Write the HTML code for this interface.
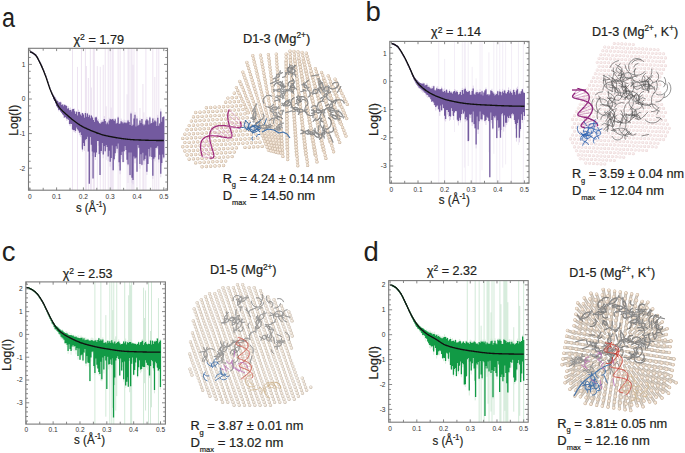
<!DOCTYPE html><html><head><meta charset="utf-8"><style>html,body{margin:0;padding:0;background:#fff;overflow:hidden}svg{display:block}</style></head><body><svg width="685" height="453" viewBox="0 0 685 453" style="font-family:&quot;Liberation Sans&quot;,sans-serif">
<style>.t{stroke:#231f20;stroke-width:0.22px}</style>
<rect width="685" height="453" fill="#fff"/>
<clipPath id="clipa"><rect x="28.5" y="48.3" width="139.0" height="141.89999999999998"/></clipPath>
<g clip-path="url(#clipa)">
<path d="M72.52 -44.6V202.7M77.48 66.9V195.2M81.44 -18.1V147.6M85.41 33.3V212.2M86.40 66.0V242.9M88.38 78.0V259.9M90.37 47.1V192.3M91.36 87.5V208.7M93.34 28.8V251.9M94.33 6.2V258.1M97.31 66.1V202.5M100.28 66.9V224.9M103.26 64.9V258.1M105.24 -24.4V235.5M106.23 106.3V159.8M108.22 6.8V213.1M110.20 36.3V187.2M111.19 107.5V243.7M112.18 26.2V245.0M113.17 32.5V264.7M118.13 -18.9V223.4M120.12 43.0V214.4M124.08 5.9V162.0M127.06 94.3V243.4M128.05 45.6V182.9M129.04 24.2V243.3M131.02 38.0V254.1M132.02 -16.8V277.3M133.01 64.8V206.6M134.00 46.7V237.0M136.97 45.1V186.7M139.95 108.0V189.7M142.92 84.0V193.6M143.91 112.4V246.0M145.90 -34.9V246.5M152.84 -12.0V197.0M154.82 77.0V229.6M156.81 -31.1V247.1M158.79 33.8V245.1" stroke="#e0d0e7" stroke-width="0.6" fill="none"/>
<path d="M30.87 51.3V52.9M31.86 51.7V53.3M32.86 52.2V53.8M33.85 52.9V54.5M34.84 53.7V55.3M35.83 54.6V56.2M36.82 56.0V57.6M37.81 57.7V59.3M38.80 59.7V61.3M39.80 61.7V63.3M40.79 63.6V65.2M41.78 65.8V67.4M42.77 68.1V69.7M43.76 70.5V72.1M44.75 73.0V74.6M45.75 75.5V77.1M46.74 78.4V80.0M47.73 81.4V83.0M48.72 84.5V86.1M49.71 87.4V89.0M50.70 89.8V91.7M51.70 92.1V94.5M52.69 94.0V96.9M53.68 95.7V99.9M54.67 96.8V101.0M55.66 98.5V104.3M56.65 100.0V107.0M57.65 100.6V108.2M58.64 102.1V111.3M59.63 101.9V110.3M60.62 101.4V111.6M61.61 103.5V113.0M62.60 104.4V114.4M63.59 104.6V118.0M64.59 104.7V117.8M65.58 104.9V117.4M66.57 105.1V120.8M67.56 108.3V120.4M68.55 106.3V119.9M69.54 110.0V125.6M70.54 107.6V126.3M71.53 109.8V124.0M72.52 108.7V129.7M73.51 108.5V131.5M74.50 108.4V132.2M75.49 113.4V132.9M76.49 111.2V128.3M77.48 115.3V129.6M78.47 109.6V131.3M79.46 111.4V135.2M80.45 113.5V136.9M81.44 113.8V137.6M82.44 112.7V151.7M83.43 113.5V145.6M84.42 116.7V150.8M85.41 111.1V141.1M86.40 114.3V141.4M87.39 112.8V138.4M88.38 115.2V151.8M89.38 113.9V141.6M90.37 116.6V137.7M91.36 114.9V145.3M92.35 116.2V156.0M93.34 117.9V151.8M94.33 121.1V157.4M95.33 116.8V160.0M96.32 116.1V154.9M97.31 118.3V141.1M98.30 119.0V145.7M99.29 123.1V154.8M100.28 122.7V145.0M101.28 120.3V152.9M102.27 120.2V145.1M103.26 119.9V158.2M104.25 116.1V150.6M105.24 119.3V152.5M106.23 123.2V146.0M107.23 120.9V149.8M108.22 122.7V161.2M109.21 117.8V155.3M110.20 118.3V166.6M111.19 119.0V159.9M112.18 118.7V148.6M113.17 117.9V170.4M114.17 120.4V160.6M115.16 117.9V156.1M116.15 121.5V151.2M117.14 121.5V152.7M118.13 116.1V147.7M119.12 123.4V166.3M120.12 122.8V174.2M121.11 118.6V159.2M122.10 120.2V156.5M123.09 121.0V162.8M124.08 119.6V151.6M125.07 120.2V147.5M126.07 122.9V154.5M127.06 120.3V163.5M128.05 119.5V166.2M129.04 120.0V156.3M130.03 122.3V176.3M131.02 111.7V156.6M132.02 125.6V182.7M133.01 123.6V184.3M134.00 115.6V158.4M134.99 112.2V163.3M135.98 125.1V157.9M136.97 116.3V155.4M137.96 125.4V149.2M138.96 122.9V147.8M139.95 118.1V168.7M140.94 122.1V157.9M141.93 118.7V165.8M142.92 123.0V153.0M143.91 122.7V164.8M144.91 123.6V161.2M145.90 118.6V156.1M146.89 116.9V174.9M147.88 120.0V164.0M148.87 121.5V151.6M149.86 116.4V158.8M150.86 121.1V150.5M151.85 121.4V159.9M152.84 117.5V178.9M153.83 121.9V160.1M154.82 118.0V161.4M155.81 119.3V149.9M156.81 123.2V148.9M157.80 114.9V149.2M158.79 124.7V162.5M159.78 122.9V155.2M160.77 108.6V177.3M161.76 119.7V165.5M162.75 117.1V157.7M163.75 116.6V159.1" stroke="#d9cce6" stroke-width="0.8" fill="none"/>
<path d="M30.87 51.3V52.9M31.86 51.7V53.3M32.86 52.2V53.8M33.85 52.9V54.5M34.84 53.7V55.3M35.83 54.6V56.2M36.82 56.0V57.6M37.81 57.7V59.3M38.80 59.7V61.3M39.80 61.7V63.3M40.79 63.6V65.2M41.78 65.8V67.4M42.77 68.1V69.7M43.76 70.5V72.1M44.75 73.0V74.6M45.75 75.5V77.1M46.74 78.4V80.0M47.73 81.4V83.0M48.72 84.5V86.1M49.71 87.4V89.0M50.70 89.9V91.6M51.70 92.2V94.3M52.69 94.3V96.5M53.68 95.8V99.2M54.67 97.1V101.0M55.66 98.7V103.2M56.65 100.6V105.9M57.65 100.9V107.4M58.64 102.8V109.7M59.63 102.2V110.1M60.62 102.2V111.5M61.61 104.9V112.7M62.60 104.6V114.3M63.59 106.2V115.3M64.59 104.7V117.4M65.58 105.5V117.1M66.57 106.0V118.5M67.56 108.8V118.8M68.55 108.2V119.7M69.54 110.3V124.0M70.54 109.9V123.7M71.53 111.5V123.9M72.52 109.2V129.6M73.51 109.0V130.1M74.50 111.3V129.9M75.49 114.1V130.9M76.49 111.8V127.6M77.48 115.5V129.2M78.47 111.9V130.6M79.46 112.1V132.8M80.45 114.4V132.3M81.44 115.7V135.1M82.44 113.1V149.5M83.43 114.5V142.9M84.42 117.7V146.1M85.41 113.0V139.8M86.40 116.7V139.1M87.39 113.4V136.8M88.38 117.1V151.6M89.38 115.2V139.5M90.37 118.2V136.9M91.36 115.5V144.8M92.35 117.4V151.4M93.34 120.1V150.2M94.33 122.0V152.6M95.33 117.6V156.9M96.32 117.2V152.6M97.31 120.6V141.0M98.30 121.4V141.1M99.29 123.2V154.0M100.28 123.8V144.6M101.28 122.5V150.9M102.27 121.8V142.9M103.26 121.8V154.5M104.25 118.9V146.1M105.24 120.9V151.3M106.23 124.2V145.0M107.23 122.5V147.1M108.22 124.2V156.6M109.21 120.4V150.8M110.20 119.1V161.7M111.19 120.0V157.9M112.18 118.9V145.4M113.17 119.4V170.2M114.17 121.0V159.2M115.16 119.2V153.2M116.15 123.8V146.2M117.14 123.1V148.7M118.13 117.4V143.6M119.12 123.9V162.2M120.12 123.6V170.6M121.11 121.3V155.1M122.10 122.2V151.8M123.09 123.6V162.1M124.08 122.5V151.2M125.07 122.6V145.9M126.07 123.2V150.1M127.06 122.5V159.7M128.05 120.5V164.5M129.04 121.9V152.5M130.03 124.9V174.9M131.02 113.6V152.6M132.02 126.0V177.8M133.01 124.8V180.0M134.00 118.5V156.4M134.99 114.7V158.5M135.98 126.6V157.5M136.97 118.5V150.5M137.96 125.8V145.1M138.96 124.8V147.8M139.95 120.4V164.0M140.94 123.0V154.2M141.93 119.1V164.8M142.92 124.3V152.8M143.91 125.5V160.5M144.91 124.5V158.9M145.90 120.5V155.6M146.89 119.2V171.7M147.88 120.5V164.0M148.87 124.5V149.0M149.86 117.4V156.5M150.86 123.6V147.4M151.85 123.1V157.0M152.84 118.4V175.8M153.83 122.2V158.7M154.82 120.4V157.3M155.81 121.5V148.1M156.81 125.9V147.6M157.80 117.7V146.1M158.79 125.7V159.4M159.78 123.6V154.7M160.77 111.5V173.8M161.76 121.8V163.1M162.75 117.3V154.6M163.75 116.6V157.6M89.30 129.8V183.8M93.05 131.4V178.6M100.02 134.0V175.1M137.00 139.9V171.7" stroke="#735a9f" stroke-width="1.3" fill="none"/>
<polyline points="29.80,51.94 30.47,52.01 31.15,52.18 31.82,52.46 32.49,52.82 33.17,53.25 33.84,53.73 34.51,54.24 35.19,54.78 35.86,55.47 36.53,56.37 37.21,57.45 37.88,58.66 38.55,59.96 39.23,61.31 39.90,62.67 40.57,64.00 41.25,65.41 41.92,66.88 42.59,68.43 43.27,70.04 43.94,71.70 44.61,73.40 45.29,75.14 45.96,76.93 46.63,78.88 47.31,80.93 47.98,83.03 48.65,85.10 49.33,87.09 50.00,88.92 50.67,90.59 51.35,92.18 52.02,93.70 52.69,95.16 53.37,96.58 54.04,97.96 54.71,99.31 55.39,100.66 56.06,102.00 56.73,103.31 57.41,104.54 58.08,105.68 58.75,106.69 59.43,107.57 60.10,108.39 60.77,109.16 61.45,109.89 62.12,110.58 62.79,111.24 63.47,111.87 64.14,112.48 64.82,113.08 65.49,113.67 66.16,114.26 66.84,114.86 67.51,115.45 68.18,116.04 68.86,116.63 69.53,117.21 70.20,117.78 70.88,118.34 71.55,118.90 72.22,119.45 72.90,119.99 73.57,120.52 74.24,121.04 74.92,121.55 75.59,122.05 76.26,122.54 76.94,123.02 77.61,123.49 78.28,123.95 78.96,124.40 79.63,124.83 80.30,125.26 80.98,125.67 81.65,126.08 82.32,126.46 83.00,126.84 83.67,127.19 84.34,127.53 85.02,127.85 85.69,128.16 86.36,128.47 87.04,128.78 87.71,129.08 88.38,129.39 89.06,129.69 89.73,129.98 90.40,130.28 91.08,130.57 91.75,130.86 92.42,131.14 93.10,131.42 93.77,131.70 94.44,131.97 95.12,132.23 95.79,132.49 96.46,132.75 97.14,133.00 97.81,133.24 98.48,133.48 99.16,133.72 99.83,133.94 100.50,134.16 101.18,134.38 101.85,134.58 102.52,134.78 103.20,134.98 103.87,135.16 104.54,135.34 105.22,135.51 105.89,135.67 106.56,135.82 107.24,135.96 107.91,136.10 108.58,136.24 109.26,136.37 109.93,136.50 110.60,136.63 111.28,136.76 111.95,136.89 112.62,137.01 113.30,137.14 113.97,137.26 114.64,137.38 115.32,137.50 115.99,137.62 116.66,137.73 117.34,137.84 118.01,137.95 118.68,138.06 119.36,138.17 120.03,138.27 120.70,138.37 121.38,138.47 122.05,138.57 122.72,138.66 123.40,138.75 124.07,138.84 124.74,138.92 125.42,139.01 126.09,139.09 126.76,139.16 127.44,139.23 128.11,139.30 128.78,139.37 129.46,139.43 130.13,139.49 130.81,139.55 131.48,139.60 132.15,139.65 132.83,139.69 133.50,139.73 134.17,139.77 134.85,139.80 135.52,139.83 136.19,139.86 136.87,139.89 137.54,139.92 138.21,139.94 138.89,139.97 139.56,139.99 140.23,140.02 140.91,140.04 141.58,140.07 142.25,140.09 142.93,140.12 143.60,140.14 144.27,140.16 144.95,140.18 145.62,140.21 146.29,140.23 146.97,140.25 147.64,140.27 148.31,140.29 148.99,140.30 149.66,140.32 150.33,140.34 151.01,140.36 151.68,140.37 152.35,140.39 153.03,140.40 153.70,140.42 154.37,140.43 155.05,140.44 155.72,140.45 156.39,140.46 157.07,140.47 157.74,140.48 158.41,140.49 159.09,140.50 159.76,140.50 160.43,140.51 161.11,140.51 161.78,140.52 162.45,140.52 163.13,140.52 163.80,140.52" fill="none" stroke="#111" stroke-width="1.35"/>
</g>
<rect x="28.5" y="48.3" width="139.0" height="141.89999999999998" fill="none" stroke="#7a7a7a" stroke-width="1.1"/>
<path d="M29.80 190.2v-2.8M29.80 48.3v2.8M43.20 190.2v-2.4M43.20 48.3v2.4M56.60 190.2v-2.8M56.60 48.3v2.8M70.00 190.2v-2.4M70.00 48.3v2.4M83.40 190.2v-2.8M83.40 48.3v2.8M96.80 190.2v-2.4M96.80 48.3v2.4M110.20 190.2v-2.8M110.20 48.3v2.8M123.60 190.2v-2.4M123.60 48.3v2.4M137.00 190.2v-2.8M137.00 48.3v2.8M150.40 190.2v-2.4M150.40 48.3v2.4M163.80 190.2v-2.8M163.80 48.3v2.8M28.5 188.96h2.2M167.5 188.96h-2.2M28.5 182.04h2.2M167.5 182.04h-2.2M28.5 175.12h2.2M167.5 175.12h-2.2M28.5 168.20h3.4M167.5 168.20h-3.4M28.5 161.28h2.2M167.5 161.28h-2.2M28.5 154.36h2.2M167.5 154.36h-2.2M28.5 147.44h2.2M167.5 147.44h-2.2M28.5 140.52h2.2M167.5 140.52h-2.2M28.5 133.60h3.4M167.5 133.60h-3.4M28.5 126.68h2.2M167.5 126.68h-2.2M28.5 119.76h2.2M167.5 119.76h-2.2M28.5 112.84h2.2M167.5 112.84h-2.2M28.5 105.92h2.2M167.5 105.92h-2.2M28.5 99.00h3.4M167.5 99.00h-3.4M28.5 92.08h2.2M167.5 92.08h-2.2M28.5 85.16h2.2M167.5 85.16h-2.2M28.5 78.24h2.2M167.5 78.24h-2.2M28.5 71.32h2.2M167.5 71.32h-2.2M28.5 64.40h3.4M167.5 64.40h-3.4M28.5 57.48h2.2M167.5 57.48h-2.2M28.5 50.56h2.2M167.5 50.56h-2.2" stroke="#7a7a7a" stroke-width="0.9" fill="none"/>
<text x="29.80" y="198.50" font-size="6.6" fill="#333" text-anchor="middle" >0</text>
<text x="56.60" y="198.50" font-size="6.6" fill="#333" text-anchor="middle" >0.1</text>
<text x="83.40" y="198.50" font-size="6.6" fill="#333" text-anchor="middle" >0.2</text>
<text x="110.20" y="198.50" font-size="6.6" fill="#333" text-anchor="middle" >0.3</text>
<text x="137.00" y="198.50" font-size="6.6" fill="#333" text-anchor="middle" >0.4</text>
<text x="163.80" y="198.50" font-size="6.6" fill="#333" text-anchor="middle" >0.5</text>
<text x="25.30" y="66.80" font-size="6.6" fill="#333" text-anchor="end" >1</text>
<text x="25.30" y="101.40" font-size="6.6" fill="#333" text-anchor="end" >0</text>
<text x="25.30" y="136.00" font-size="6.6" fill="#333" text-anchor="end" >-1</text>
<text x="25.30" y="170.60" font-size="6.6" fill="#333" text-anchor="end" >-2</text>
<clipPath id="clipb"><rect x="389.8" y="41.4" width="139.2" height="141.79999999999998"/></clipPath>
<g clip-path="url(#clipb)">
<path d="M438.72 10.2V203.1M444.63 58.9V214.5M454.47 21.5V132.0M462.34 16.4V185.6M464.31 -43.0V167.5M465.29 -22.2V217.8M468.25 -58.0V166.0M472.18 66.9V222.9M476.12 78.4V231.9M480.06 33.6V185.2M482.03 -12.0V170.3M488.92 52.4V152.2M493.84 32.8V153.9M496.79 23.5V191.3M499.74 29.3V231.0M502.69 8.0V167.7M505.65 -26.5V164.4M511.55 -53.4V187.4M518.44 29.2V145.0M523.36 -64.1V210.1" stroke="#e9e1f0" stroke-width="0.6" fill="none"/>
<path d="M392.46 42.9V44.5M393.45 43.2V44.8M394.43 43.7V45.3M395.42 44.3V45.9M396.40 44.9V46.5M397.38 45.6V47.2M398.37 46.6V48.2M399.35 47.9V49.5M400.34 49.4V51.0M401.32 51.0V52.6M402.31 52.7V54.3M403.29 54.4V56.0M404.27 56.1V57.7M405.26 57.9V59.5M406.24 59.9V61.5M407.23 62.0V63.6M408.21 64.1V65.7M409.20 66.2V67.8M410.18 68.3V69.9M411.16 70.6V72.2M412.15 72.8V74.7M413.13 74.8V77.1M414.12 76.7V79.5M415.10 77.8V81.5M416.08 79.4V83.7M417.07 80.2V85.0M418.05 81.0V87.4M419.04 82.2V88.5M420.02 82.6V88.5M421.01 83.0V90.7M421.99 83.9V91.8M422.97 82.5V93.1M423.96 82.9V92.2M424.94 85.4V92.9M425.93 84.3V95.5M426.91 83.0V96.8M427.90 86.5V97.9M428.88 85.2V96.9M429.86 87.3V98.3M430.85 88.2V99.3M431.83 86.3V102.0M432.82 85.9V102.3M433.80 85.3V104.9M434.78 88.9V106.0M435.77 89.3V110.6M436.75 86.7V107.2M437.74 86.3V109.5M438.72 88.0V110.4M439.71 88.8V115.8M440.69 89.0V109.9M441.67 86.6V111.1M442.66 89.2V108.0M443.64 89.4V108.9M444.63 88.3V120.4M445.61 90.1V121.5M446.59 89.2V110.1M447.58 91.2V114.7M448.56 91.9V116.9M449.55 89.4V120.8M450.53 92.3V119.8M451.52 91.0V109.1M452.50 93.1V115.0M453.48 91.2V119.9M454.47 89.0V112.6M455.45 89.6V111.1M456.44 90.4V112.0M457.42 90.3V121.5M458.41 94.6V125.5M459.39 92.7V119.4M460.37 90.5V122.5M461.36 94.9V117.6M462.34 87.9V114.6M463.33 93.3V114.3M464.31 88.2V113.5M465.29 86.7V121.8M466.28 90.6V120.9M467.26 90.0V121.5M468.25 91.5V142.1M469.23 90.3V117.8M470.22 91.9V118.2M471.20 92.6V117.8M472.18 88.9V126.0M473.17 85.6V114.8M474.15 92.7V125.1M475.14 92.9V128.9M476.12 90.8V148.4M477.11 89.8V119.7M478.09 92.5V134.0M479.07 91.5V123.8M480.06 89.2V114.7M481.04 92.6V120.1M482.03 90.3V121.3M483.01 93.7V115.8M483.99 91.8V116.1M484.98 90.1V122.4M485.96 87.6V125.0M486.95 94.3V119.7M487.93 94.3V118.2M488.92 93.9V122.3M489.90 94.4V122.1M490.88 90.1V113.8M491.87 88.8V123.4M492.85 92.1V129.6M493.84 91.9V116.5M494.82 93.6V119.5M495.80 93.1V120.5M496.79 92.8V138.7M497.77 90.5V122.6M498.76 95.0V131.1M499.74 89.2V130.1M500.73 91.6V132.4M501.71 93.0V116.1M502.69 88.9V116.1M503.68 90.4V131.6M504.66 89.6V115.9M505.65 91.2V127.4M506.63 92.8V125.0M507.62 90.1V117.2M508.60 87.4V121.7M509.58 90.9V118.3M510.57 89.2V118.9M511.55 92.4V119.1M512.54 92.2V115.7M513.52 88.8V115.6M514.50 89.7V122.0M515.49 92.6V128.7M516.47 87.9V141.6M517.46 86.6V125.2M518.44 92.9V120.7M519.43 91.6V142.3M520.41 91.6V131.3M521.39 91.1V118.7M522.38 88.8V122.9M523.36 90.8V113.1M524.35 92.1V120.0" stroke="#d9cce6" stroke-width="0.8" fill="none"/>
<path d="M392.46 42.9V44.5M393.45 43.2V44.8M394.43 43.7V45.3M395.42 44.3V45.9M396.40 44.9V46.5M397.38 45.6V47.2M398.37 46.6V48.2M399.35 47.9V49.5M400.34 49.4V51.0M401.32 51.0V52.6M402.31 52.7V54.3M403.29 54.4V56.0M404.27 56.1V57.7M405.26 57.9V59.5M406.24 59.9V61.5M407.23 62.0V63.6M408.21 64.1V65.7M409.20 66.2V67.8M410.18 68.3V69.9M411.16 70.6V72.2M412.15 72.9V74.7M413.13 75.0V77.0M414.12 76.8V79.5M415.10 78.3V81.3M416.08 79.5V83.2M417.07 80.3V84.8M418.05 81.6V86.1M419.04 82.3V87.4M420.02 83.0V88.2M421.01 83.3V88.7M421.99 84.0V89.8M422.97 83.4V90.6M423.96 83.6V91.6M424.94 85.7V92.8M425.93 85.0V93.5M426.91 84.8V94.8M427.90 87.1V95.0M428.88 86.8V96.7M429.86 87.7V97.2M430.85 88.7V99.3M431.83 88.4V101.8M432.82 88.3V100.9M433.80 86.3V102.6M434.78 90.2V104.9M435.77 90.4V107.0M436.75 88.3V105.7M437.74 89.2V105.6M438.72 89.1V109.2M439.71 89.5V111.8M440.69 89.3V105.6M441.67 88.4V110.3M442.66 91.5V104.4M443.64 92.0V107.9M444.63 91.0V115.8M445.61 92.6V118.9M446.59 89.8V110.0M447.58 92.8V109.9M448.56 92.9V111.9M449.55 91.0V115.9M450.53 92.4V116.5M451.52 92.4V108.0M452.50 93.7V110.9M453.48 91.7V116.1M454.47 90.9V112.5M455.45 92.6V110.9M456.44 91.5V111.0M457.42 92.0V119.7M458.41 94.7V121.0M459.39 94.1V117.7M460.37 92.1V120.2M461.36 95.0V114.1M462.34 89.9V109.7M463.33 93.8V113.5M464.31 89.5V111.4M465.29 88.8V119.2M466.28 91.3V116.9M467.26 92.0V120.3M468.25 92.0V141.0M469.23 91.1V114.0M470.22 94.8V114.8M471.20 94.8V114.2M472.18 91.0V122.2M473.17 88.4V111.5M474.15 94.2V123.9M475.14 94.8V128.3M476.12 92.4V144.5M477.11 92.1V116.6M478.09 93.7V129.4M479.07 92.6V121.2M480.06 92.1V111.6M481.04 94.6V119.3M482.03 91.2V119.4M483.01 95.4V113.9M483.99 92.4V114.9M484.98 90.4V121.1M485.96 89.2V120.0M486.95 94.8V116.8M487.93 94.3V117.7M488.92 95.4V121.1M489.90 94.6V120.0M490.88 90.5V112.5M491.87 90.9V120.0M492.85 92.6V128.6M493.84 93.8V115.9M494.82 95.5V117.4M495.80 94.8V115.8M496.79 94.0V137.9M497.77 91.2V120.2M498.76 95.3V127.7M499.74 91.6V127.3M500.73 92.1V130.1M501.71 95.3V114.3M502.69 91.6V112.9M503.68 93.0V126.8M504.66 90.5V115.2M505.65 93.3V122.8M506.63 93.7V122.7M507.62 92.0V116.5M508.60 90.2V118.0M509.58 93.3V115.7M510.57 91.5V118.1M511.55 93.1V114.3M512.54 94.7V113.3M513.52 89.9V114.3M514.50 92.1V119.9M515.49 94.8V123.9M516.47 90.5V137.7M517.46 89.3V122.9M518.44 94.2V119.6M519.43 93.4V137.7M520.41 93.8V128.9M521.39 91.3V114.3M522.38 89.2V120.1M523.36 92.6V112.1M524.35 93.0V115.9M489.82 105.2V177.3M468.54 103.8V140.6M500.46 105.7V137.8" stroke="#735a9f" stroke-width="1.3" fill="none"/>
<polyline points="391.40,43.61 392.07,43.66 392.74,43.81 393.41,44.03 394.07,44.32 394.74,44.67 395.41,45.05 396.08,45.46 396.75,45.89 397.42,46.40 398.08,47.07 398.75,47.86 399.42,48.77 400.09,49.76 400.76,50.83 401.43,51.94 402.09,53.09 402.76,54.24 403.43,55.39 404.10,56.54 404.77,57.76 405.44,59.06 406.10,60.40 406.77,61.80 407.44,63.21 408.11,64.64 408.78,66.08 409.45,67.49 410.11,68.94 410.78,70.48 411.45,72.06 412.12,73.63 412.79,75.15 413.46,76.58 414.12,77.86 414.79,78.98 415.46,80.00 416.13,80.96 416.80,81.85 417.47,82.70 418.13,83.49 418.80,84.23 419.47,84.94 420.14,85.61 420.81,86.25 421.48,86.87 422.14,87.47 422.81,88.05 423.48,88.60 424.15,89.13 424.82,89.64 425.49,90.13 426.15,90.61 426.82,91.06 427.49,91.50 428.16,91.92 428.83,92.33 429.50,92.72 430.16,93.11 430.83,93.48 431.50,93.84 432.17,94.20 432.84,94.54 433.51,94.87 434.17,95.19 434.84,95.50 435.51,95.81 436.18,96.10 436.85,96.39 437.52,96.67 438.18,96.94 438.85,97.21 439.52,97.47 440.19,97.73 440.86,97.99 441.53,98.23 442.19,98.47 442.86,98.70 443.53,98.93 444.20,99.14 444.87,99.35 445.54,99.55 446.20,99.74 446.87,99.91 447.54,100.08 448.21,100.25 448.88,100.41 449.55,100.57 450.21,100.72 450.88,100.88 451.55,101.03 452.22,101.17 452.89,101.32 453.56,101.46 454.22,101.60 454.89,101.74 455.56,101.88 456.23,102.01 456.90,102.13 457.57,102.26 458.23,102.38 458.90,102.50 459.57,102.62 460.24,102.73 460.91,102.84 461.58,102.94 462.24,103.04 462.91,103.14 463.58,103.23 464.25,103.32 464.92,103.41 465.59,103.49 466.25,103.57 466.92,103.65 467.59,103.72 468.26,103.79 468.93,103.85 469.60,103.92 470.26,103.98 470.93,104.05 471.60,104.10 472.27,104.16 472.94,104.22 473.61,104.27 474.27,104.33 474.94,104.38 475.61,104.43 476.28,104.47 476.95,104.52 477.62,104.56 478.28,104.61 478.95,104.65 479.62,104.69 480.29,104.72 480.96,104.76 481.63,104.80 482.29,104.83 482.96,104.86 483.63,104.89 484.30,104.93 484.97,104.96 485.64,104.99 486.30,105.03 486.97,105.06 487.64,105.09 488.31,105.12 488.98,105.16 489.65,105.19 490.31,105.22 490.98,105.25 491.65,105.28 492.32,105.31 492.99,105.35 493.66,105.38 494.32,105.41 494.99,105.44 495.66,105.47 496.33,105.50 497.00,105.53 497.67,105.55 498.33,105.58 499.00,105.61 499.67,105.64 500.34,105.66 501.01,105.69 501.68,105.72 502.34,105.74 503.01,105.77 503.68,105.79 504.35,105.82 505.02,105.84 505.69,105.86 506.35,105.89 507.02,105.91 507.69,105.93 508.36,105.95 509.03,105.97 509.70,105.99 510.36,106.01 511.03,106.03 511.70,106.04 512.37,106.06 513.04,106.08 513.71,106.09 514.37,106.11 515.04,106.12 515.71,106.13 516.38,106.14 517.05,106.15 517.72,106.16 518.38,106.17 519.05,106.18 519.72,106.19 520.39,106.20 521.06,106.20 521.73,106.21 522.39,106.21 523.06,106.21 523.73,106.22 524.40,106.22" fill="none" stroke="#111" stroke-width="1.35"/>
</g>
<rect x="389.8" y="41.4" width="139.2" height="141.79999999999998" fill="none" stroke="#7a7a7a" stroke-width="1.1"/>
<path d="M391.40 183.2v-2.8M391.40 41.4v2.8M404.70 183.2v-2.4M404.70 41.4v2.4M418.00 183.2v-2.8M418.00 41.4v2.8M431.30 183.2v-2.4M431.30 41.4v2.4M444.60 183.2v-2.8M444.60 41.4v2.8M457.90 183.2v-2.4M457.90 41.4v2.4M471.20 183.2v-2.8M471.20 41.4v2.8M484.50 183.2v-2.4M484.50 41.4v2.4M497.80 183.2v-2.8M497.80 41.4v2.8M511.10 183.2v-2.4M511.10 41.4v2.4M524.40 183.2v-2.8M524.40 41.4v2.8M389.8 182.92h2.2M529.0 182.92h-2.2M389.8 177.28h2.2M529.0 177.28h-2.2M389.8 171.64h2.2M529.0 171.64h-2.2M389.8 166.00h3.4M529.0 166.00h-3.4M389.8 160.36h2.2M529.0 160.36h-2.2M389.8 154.72h2.2M529.0 154.72h-2.2M389.8 149.08h2.2M529.0 149.08h-2.2M389.8 143.44h2.2M529.0 143.44h-2.2M389.8 137.80h3.4M529.0 137.80h-3.4M389.8 132.16h2.2M529.0 132.16h-2.2M389.8 126.52h2.2M529.0 126.52h-2.2M389.8 120.88h2.2M529.0 120.88h-2.2M389.8 115.24h2.2M529.0 115.24h-2.2M389.8 109.60h3.4M529.0 109.60h-3.4M389.8 103.96h2.2M529.0 103.96h-2.2M389.8 98.32h2.2M529.0 98.32h-2.2M389.8 92.68h2.2M529.0 92.68h-2.2M389.8 87.04h2.2M529.0 87.04h-2.2M389.8 81.40h3.4M529.0 81.40h-3.4M389.8 75.76h2.2M529.0 75.76h-2.2M389.8 70.12h2.2M529.0 70.12h-2.2M389.8 64.48h2.2M529.0 64.48h-2.2M389.8 58.84h2.2M529.0 58.84h-2.2M389.8 53.20h3.4M529.0 53.20h-3.4M389.8 47.56h2.2M529.0 47.56h-2.2M389.8 41.92h2.2M529.0 41.92h-2.2" stroke="#7a7a7a" stroke-width="0.9" fill="none"/>
<text x="391.40" y="191.50" font-size="6.6" fill="#333" text-anchor="middle" >0</text>
<text x="418.00" y="191.50" font-size="6.6" fill="#333" text-anchor="middle" >0.1</text>
<text x="444.60" y="191.50" font-size="6.6" fill="#333" text-anchor="middle" >0.2</text>
<text x="471.20" y="191.50" font-size="6.6" fill="#333" text-anchor="middle" >0.3</text>
<text x="497.80" y="191.50" font-size="6.6" fill="#333" text-anchor="middle" >0.4</text>
<text x="524.40" y="191.50" font-size="6.6" fill="#333" text-anchor="middle" >0.5</text>
<text x="386.60" y="55.60" font-size="6.6" fill="#333" text-anchor="end" >1</text>
<text x="386.60" y="83.80" font-size="6.6" fill="#333" text-anchor="end" >0</text>
<text x="386.60" y="112.00" font-size="6.6" fill="#333" text-anchor="end" >-1</text>
<text x="386.60" y="140.20" font-size="6.6" fill="#333" text-anchor="end" >-2</text>
<text x="386.60" y="168.40" font-size="6.6" fill="#333" text-anchor="end" >-3</text>
<clipPath id="clipc"><rect x="25.8" y="281.9" width="139.6" height="142.20000000000005"/></clipPath>
<g clip-path="url(#clipc)">
<path d="M94.90 276.4V462.0M100.86 241.0V380.5M105.83 315.1V416.7M109.80 267.3V437.1M111.79 187.4V444.4M112.78 310.1V407.8M113.77 272.8V458.8M115.76 336.4V410.6M116.75 234.3V396.1M124.70 187.1V467.5M128.67 295.3V382.6M129.66 202.6V392.2M130.65 285.3V468.9M131.65 281.4V449.2M143.56 287.7V449.3M144.56 318.0V383.2M145.55 290.5V410.5M148.53 207.7V459.3M150.52 331.0V475.0M151.51 185.7V407.3M158.46 298.1V440.9" stroke="#b4dcbd" stroke-width="0.6" fill="none"/>
<path d="M27.37 286.9V288.5M28.37 287.2V288.8M29.36 287.6V289.2M30.35 288.0V289.6M31.35 288.5V290.1M32.34 289.0V290.6M33.33 289.7V291.3M34.33 290.4V292.0M35.32 291.3V292.9M36.31 292.2V293.8M37.30 293.2V294.8M38.30 294.4V296.0M39.29 295.8V297.4M40.28 297.3V298.9M41.28 298.9V300.5M42.27 300.5V302.1M43.26 302.3V303.9M44.26 304.2V305.8M45.25 306.3V307.9M46.24 308.4V310.0M47.24 310.4V312.2M48.23 312.4V314.7M49.22 314.2V316.8M50.21 316.5V319.0M51.21 318.3V321.7M52.20 319.9V323.6M53.19 321.7V325.5M54.19 323.0V328.0M55.18 324.3V329.3M56.17 325.5V330.4M57.17 326.6V331.3M58.16 326.8V332.4M59.15 327.5V334.8M60.15 329.3V336.1M61.14 330.2V338.7M62.13 329.2V338.9M63.12 330.3V340.8M64.12 331.7V340.3M65.11 332.5V344.0M66.10 331.0V344.9M67.10 331.9V347.1M68.09 334.5V353.8M69.08 332.2V346.7M70.08 335.1V350.1M71.07 333.2V354.7M72.06 335.7V350.0M73.06 334.6V347.2M74.05 336.4V351.2M75.04 334.9V349.1M76.03 336.4V354.4M77.03 337.2V349.2M78.02 335.1V359.6M79.01 336.3V352.1M80.01 338.1V360.0M81.00 335.5V355.7M81.99 336.8V357.4M82.99 336.9V361.3M83.98 337.4V353.2M84.97 337.3V352.9M85.97 337.8V366.1M86.96 339.5V358.8M87.95 338.4V363.8M88.94 339.9V366.6M89.94 340.0V381.8M90.93 338.5V361.5M91.92 337.6V353.5M92.92 338.2V353.1M93.91 339.8V367.9M94.90 340.4V374.8M95.90 338.5V360.1M96.89 341.7V367.3M97.88 339.4V368.4M98.88 337.5V375.2M99.87 338.7V375.9M100.86 339.3V365.3M101.85 339.5V381.2M102.85 337.4V362.2M103.84 341.8V373.4M104.83 341.2V357.3M105.83 342.0V365.4M106.82 340.6V356.8M107.81 340.6V356.8M108.81 340.9V369.4M109.80 340.0V367.2M110.79 340.4V363.6M111.79 339.9V368.4M112.78 342.2V359.6M113.77 342.1V385.9M114.76 338.9V379.3M115.76 343.3V362.8M116.75 342.0V358.5M117.74 341.0V359.2M118.74 339.4V360.5M119.73 341.6V376.1M120.72 344.1V362.7M121.72 343.7V371.3M122.71 343.7V366.8M123.70 340.9V381.7M124.70 340.7V366.0M125.69 338.5V387.9M126.68 343.9V381.9M127.67 340.3V380.2M128.67 341.1V364.0M129.66 341.6V360.9M130.65 339.3V389.1M131.65 342.2V368.5M132.64 342.2V361.8M133.63 343.4V375.5M134.63 343.5V374.6M135.62 342.6V366.3M136.61 343.4V358.9M137.61 342.9V377.6M138.60 341.3V371.0M139.59 343.5V361.1M140.58 342.0V373.2M141.58 339.8V371.6M142.57 338.9V366.9M143.56 343.1V369.9M144.56 341.2V371.9M145.55 339.4V362.6M146.54 341.1V367.5M147.54 343.9V369.7M148.53 341.7V370.2M149.52 343.8V377.9M150.52 339.5V366.5M151.51 343.4V364.5M152.50 340.2V365.0M153.49 341.5V370.7M154.49 340.7V393.3M155.48 340.0V365.5M156.47 338.1V366.7M157.47 338.5V371.1M158.46 342.2V370.7M159.45 339.8V371.6M160.45 339.3V389.4" stroke="#cfe8d4" stroke-width="0.8" fill="none"/>
<path d="M27.37 286.9V288.5M28.37 287.2V288.8M29.36 287.6V289.2M30.35 288.0V289.6M31.35 288.5V290.1M32.34 289.0V290.6M33.33 289.7V291.3M34.33 290.4V292.0M35.32 291.3V292.9M36.31 292.2V293.8M37.30 293.2V294.8M38.30 294.4V296.0M39.29 295.8V297.4M40.28 297.3V298.9M41.28 298.9V300.5M42.27 300.5V302.1M43.26 302.3V303.9M44.26 304.2V305.8M45.25 306.3V307.9M46.24 308.4V310.0M47.24 310.4V312.2M48.23 312.4V314.6M49.22 314.5V316.7M50.21 316.5V319.0M51.21 318.4V321.0M52.20 320.2V323.4M53.19 322.0V324.4M54.19 323.5V327.1M55.18 324.9V329.2M56.17 326.0V329.6M57.17 326.8V331.1M58.16 327.8V332.1M59.15 328.8V333.7M60.15 329.6V334.5M61.14 330.5V336.8M62.13 330.6V337.4M63.12 331.5V338.4M64.12 332.2V339.8M65.11 333.1V343.3M66.10 333.2V343.0M67.10 333.5V344.7M68.09 334.5V350.9M69.08 334.9V344.2M70.08 335.3V349.1M71.07 335.1V351.0M72.06 335.7V346.5M73.06 335.6V344.9M74.05 336.5V346.6M75.04 336.9V346.0M76.03 336.5V350.2M77.03 337.4V348.0M78.02 337.8V356.1M79.01 338.1V348.4M80.01 338.3V359.7M81.00 337.8V355.3M81.99 337.7V354.4M82.99 339.4V360.4M83.98 338.3V352.6M84.97 340.2V349.0M85.97 339.8V363.5M86.96 339.7V355.9M87.95 339.5V362.5M88.94 340.5V363.0M89.94 340.7V381.1M90.93 340.5V357.4M91.92 339.9V351.7M92.92 340.8V351.4M93.91 341.3V365.9M94.90 340.5V372.9M95.90 340.3V358.6M96.89 342.1V364.8M97.88 339.9V368.4M98.88 338.3V372.0M99.87 340.9V374.0M100.86 339.6V361.7M101.85 340.7V379.2M102.85 339.6V357.5M103.84 342.9V369.5M104.83 342.8V356.1M105.83 342.2V360.4M106.82 343.5V354.2M107.81 340.8V356.7M108.81 342.8V364.5M109.80 341.2V363.9M110.79 343.1V359.5M111.79 340.3V364.7M112.78 342.4V358.2M113.77 343.4V384.9M114.76 341.4V377.6M115.76 343.8V360.4M116.75 342.9V358.0M117.74 341.9V356.3M118.74 341.5V359.0M119.73 343.2V375.4M120.72 344.5V358.6M121.72 343.9V370.5M122.71 343.8V362.2M123.70 341.6V379.2M124.70 343.2V361.6M125.69 341.4V385.6M126.68 344.4V381.8M127.67 342.2V377.2M128.67 343.1V361.0M129.66 342.0V357.9M130.65 342.1V386.2M131.65 343.4V363.7M132.64 343.2V357.4M133.63 343.6V374.7M134.63 343.7V370.0M135.62 343.9V362.6M136.61 344.8V357.7M137.61 344.1V376.2M138.60 342.2V367.3M139.59 344.7V360.3M140.58 342.2V369.6M141.58 341.8V369.0M142.57 340.8V366.6M143.56 344.9V366.9M144.56 343.2V366.9M145.55 342.1V360.2M146.54 343.7V362.7M147.54 344.6V365.1M148.53 343.7V365.5M149.52 344.1V375.6M150.52 340.5V366.0M151.51 344.4V360.1M152.50 340.7V361.3M153.49 344.0V368.3M154.49 341.4V390.1M155.48 341.5V361.8M156.47 340.9V363.3M157.47 338.6V367.8M158.46 343.2V370.6M159.45 341.8V368.9M160.45 340.5V387.0M113.53 349.9V417.4M106.82 348.8V389.1M128.29 351.5V386.8" stroke="#119a45" stroke-width="1.3" fill="none"/>
<polyline points="26.30,287.43 26.97,287.57 27.65,287.74 28.32,287.96 29.00,288.22 29.67,288.50 30.35,288.81 31.02,289.15 31.69,289.50 32.37,289.86 33.04,290.28 33.72,290.75 34.39,291.28 35.07,291.85 35.74,292.47 36.42,293.12 37.09,293.82 37.76,294.56 38.44,295.39 39.11,296.30 39.79,297.29 40.46,298.34 41.14,299.43 41.81,300.55 42.48,301.70 43.16,302.89 43.83,304.17 44.51,305.53 45.18,306.93 45.86,308.34 46.53,309.75 47.21,311.13 47.88,312.50 48.55,313.90 49.23,315.29 49.90,316.67 50.58,318.01 51.25,319.30 51.93,320.53 52.60,321.75 53.27,322.94 53.95,324.09 54.62,325.18 55.30,326.18 55.97,327.06 56.65,327.88 57.32,328.66 58.00,329.40 58.67,330.10 59.34,330.77 60.02,331.39 60.69,331.99 61.37,332.54 62.04,333.07 62.72,333.56 63.39,334.03 64.06,334.49 64.74,334.92 65.41,335.34 66.09,335.74 66.76,336.13 67.44,336.50 68.11,336.87 68.79,337.22 69.46,337.57 70.13,337.91 70.81,338.25 71.48,338.59 72.16,338.92 72.83,339.25 73.51,339.58 74.18,339.90 74.85,340.21 75.53,340.52 76.20,340.83 76.88,341.13 77.55,341.42 78.23,341.70 78.90,341.98 79.58,342.25 80.25,342.51 80.92,342.76 81.60,343.00 82.27,343.22 82.95,343.44 83.62,343.65 84.30,343.85 84.97,344.05 85.64,344.25 86.32,344.44 86.99,344.63 87.67,344.81 88.34,345.00 89.02,345.18 89.69,345.35 90.37,345.52 91.04,345.69 91.71,345.86 92.39,346.02 93.06,346.18 93.74,346.34 94.41,346.49 95.09,346.64 95.76,346.79 96.43,346.93 97.11,347.08 97.78,347.22 98.46,347.35 99.13,347.49 99.81,347.62 100.48,347.75 101.16,347.87 101.83,348.00 102.50,348.12 103.18,348.24 103.85,348.35 104.53,348.47 105.20,348.58 105.88,348.69 106.55,348.80 107.22,348.92 107.90,349.03 108.57,349.14 109.25,349.25 109.92,349.37 110.60,349.48 111.27,349.59 111.95,349.70 112.62,349.80 113.29,349.91 113.97,350.01 114.64,350.12 115.32,350.22 115.99,350.32 116.67,350.41 117.34,350.51 118.01,350.60 118.69,350.68 119.36,350.77 120.04,350.85 120.71,350.93 121.39,351.00 122.06,351.07 122.74,351.14 123.41,351.20 124.08,351.26 124.76,351.31 125.43,351.36 126.11,351.41 126.78,351.44 127.46,351.48 128.13,351.50 128.80,351.53 129.48,351.55 130.15,351.58 130.83,351.60 131.50,351.63 132.18,351.65 132.85,351.67 133.53,351.70 134.20,351.72 134.87,351.74 135.55,351.76 136.22,351.78 136.90,351.80 137.57,351.82 138.25,351.84 138.92,351.86 139.59,351.88 140.27,351.90 140.94,351.92 141.62,351.93 142.29,351.95 142.97,351.97 143.64,351.98 144.32,352.00 144.99,352.01 145.66,352.03 146.34,352.04 147.01,352.05 147.69,352.06 148.36,352.08 149.04,352.09 149.71,352.10 150.38,352.11 151.06,352.12 151.73,352.13 152.41,352.13 153.08,352.14 153.76,352.15 154.43,352.16 155.11,352.16 155.78,352.17 156.45,352.17 157.13,352.18 157.80,352.18 158.48,352.18 159.15,352.18 159.83,352.18 160.50,352.18" fill="none" stroke="#111" stroke-width="1.35"/>
</g>
<rect x="25.8" y="281.9" width="139.6" height="142.20000000000005" fill="none" stroke="#7a7a7a" stroke-width="1.1"/>
<path d="M26.30 424.1v-2.8M26.30 281.9v2.8M39.72 424.1v-2.4M39.72 281.9v2.4M53.14 424.1v-2.8M53.14 281.9v2.8M66.56 424.1v-2.4M66.56 281.9v2.4M79.98 424.1v-2.8M79.98 281.9v2.8M93.40 424.1v-2.4M93.40 281.9v2.4M106.82 424.1v-2.8M106.82 281.9v2.8M120.24 424.1v-2.4M120.24 281.9v2.4M133.66 424.1v-2.8M133.66 281.9v2.8M147.08 424.1v-2.4M147.08 281.9v2.4M160.50 424.1v-2.8M160.50 281.9v2.8M25.8 421.04h2.2M165.4 421.04h-2.2M25.8 416.48h2.2M165.4 416.48h-2.2M25.8 411.92h2.2M165.4 411.92h-2.2M25.8 407.36h2.2M165.4 407.36h-2.2M25.8 402.80h3.4M165.4 402.80h-3.4M25.8 398.24h2.2M165.4 398.24h-2.2M25.8 393.68h2.2M165.4 393.68h-2.2M25.8 389.12h2.2M165.4 389.12h-2.2M25.8 384.56h2.2M165.4 384.56h-2.2M25.8 380.00h3.4M165.4 380.00h-3.4M25.8 375.44h2.2M165.4 375.44h-2.2M25.8 370.88h2.2M165.4 370.88h-2.2M25.8 366.32h2.2M165.4 366.32h-2.2M25.8 361.76h2.2M165.4 361.76h-2.2M25.8 357.20h3.4M165.4 357.20h-3.4M25.8 352.64h2.2M165.4 352.64h-2.2M25.8 348.08h2.2M165.4 348.08h-2.2M25.8 343.52h2.2M165.4 343.52h-2.2M25.8 338.96h2.2M165.4 338.96h-2.2M25.8 334.40h3.4M165.4 334.40h-3.4M25.8 329.84h2.2M165.4 329.84h-2.2M25.8 325.28h2.2M165.4 325.28h-2.2M25.8 320.72h2.2M165.4 320.72h-2.2M25.8 316.16h2.2M165.4 316.16h-2.2M25.8 311.60h3.4M165.4 311.60h-3.4M25.8 307.04h2.2M165.4 307.04h-2.2M25.8 302.48h2.2M165.4 302.48h-2.2M25.8 297.92h2.2M165.4 297.92h-2.2M25.8 293.36h2.2M165.4 293.36h-2.2M25.8 288.80h3.4M165.4 288.80h-3.4M25.8 284.24h2.2M165.4 284.24h-2.2" stroke="#7a7a7a" stroke-width="0.9" fill="none"/>
<text x="26.30" y="432.40" font-size="6.6" fill="#333" text-anchor="middle" >0</text>
<text x="53.14" y="432.40" font-size="6.6" fill="#333" text-anchor="middle" >0.1</text>
<text x="79.98" y="432.40" font-size="6.6" fill="#333" text-anchor="middle" >0.2</text>
<text x="106.82" y="432.40" font-size="6.6" fill="#333" text-anchor="middle" >0.3</text>
<text x="133.66" y="432.40" font-size="6.6" fill="#333" text-anchor="middle" >0.4</text>
<text x="160.50" y="432.40" font-size="6.6" fill="#333" text-anchor="middle" >0.5</text>
<text x="22.60" y="291.20" font-size="6.6" fill="#333" text-anchor="end" >2</text>
<text x="22.60" y="314.00" font-size="6.6" fill="#333" text-anchor="end" >1</text>
<text x="22.60" y="336.80" font-size="6.6" fill="#333" text-anchor="end" >0</text>
<text x="22.60" y="359.60" font-size="6.6" fill="#333" text-anchor="end" >-1</text>
<text x="22.60" y="382.40" font-size="6.6" fill="#333" text-anchor="end" >-2</text>
<text x="22.60" y="405.20" font-size="6.6" fill="#333" text-anchor="end" >-3</text>
<clipPath id="clipd"><rect x="388.7" y="280.6" width="139.50000000000006" height="141.59999999999997"/></clipPath>
<g clip-path="url(#clipd)">
<path d="M467.29 234.1V375.7M475.20 234.8V400.4M479.16 265.0V447.6M481.14 325.7V458.6M484.10 241.4V446.0M487.07 211.7V376.8M488.06 276.5V403.7M489.04 209.3V439.2M491.02 312.4V411.5M492.01 187.5V435.7M493.99 241.1V414.9M499.92 254.1V466.9M500.91 304.2V473.1M503.87 240.5V460.5M504.86 202.0V410.9M505.85 186.8V446.2M506.84 209.1V470.5M507.83 302.2V476.7M513.76 327.2V411.7M518.70 209.3V423.5M519.69 305.9V415.8M523.65 189.3V476.5" stroke="#b4dcbd" stroke-width="0.6" fill="none"/>
<path d="M391.17 284.3V285.9M392.16 284.7V286.3M393.15 285.1V286.7M394.13 285.7V287.3M395.12 286.3V287.9M396.11 287.0V288.6M397.10 288.0V289.6M398.09 289.1V290.7M399.08 290.3V291.9M400.07 291.7V293.3M401.06 293.1V294.7M402.04 294.9V296.5M403.03 296.8V298.4M404.02 298.9V300.5M405.01 301.1V302.7M406.00 303.1V304.7M406.99 305.2V306.8M407.98 307.4V309.0M408.96 309.6V311.2M409.95 311.6V313.2M410.94 313.5V315.5M411.93 315.4V317.9M412.92 316.9V319.8M413.91 318.5V322.1M414.90 320.4V324.1M415.88 321.8V326.6M416.87 322.7V327.2M417.86 323.6V329.3M418.85 324.5V330.0M419.84 326.1V332.0M420.83 327.1V333.1M421.82 326.8V334.1M422.81 327.9V336.4M423.79 328.5V336.5M424.78 329.7V338.6M425.77 330.0V341.2M426.76 329.3V338.8M427.75 331.8V341.8M428.74 330.4V344.8M429.73 330.5V348.1M430.71 330.8V348.6M431.70 333.4V347.9M432.69 331.9V350.0M433.68 332.7V354.8M434.67 331.7V348.1M435.66 335.5V350.1M436.65 334.7V358.5M437.63 334.4V356.1M438.62 333.9V352.0M439.61 335.0V355.2M440.60 335.9V352.0M441.59 336.6V354.3M442.58 336.3V358.8M443.57 336.6V361.2M444.56 334.3V358.2M445.54 336.2V363.7M446.53 336.8V353.5M447.52 337.3V358.1M448.51 340.5V361.4M449.50 339.6V356.8M450.49 337.3V368.6M451.48 339.2V369.5M452.46 338.2V366.4M453.45 340.3V376.7M454.44 341.1V370.8M455.43 338.9V372.0M456.42 340.6V376.9M457.41 341.8V365.9M458.40 341.5V374.2M459.38 339.2V370.2M460.37 339.8V365.0M461.36 341.3V377.2M462.35 342.2V367.2M463.34 341.4V367.4M464.33 341.7V385.5M465.32 340.9V387.1M466.31 340.5V376.9M467.29 341.0V359.5M468.28 342.2V362.0M469.27 343.4V395.5M470.26 339.7V365.1M471.25 340.4V374.5M472.24 341.1V366.2M473.23 342.5V362.1M474.21 340.2V370.4M475.20 341.6V384.7M476.19 342.6V367.9M477.18 342.5V368.6M478.17 344.5V365.7M479.16 341.6V380.5M480.15 342.5V361.4M481.14 339.9V374.7M482.12 341.3V379.8M483.11 339.5V361.4M484.10 341.8V365.6M485.09 339.6V368.7M486.08 343.6V369.6M487.07 341.3V372.3M488.06 342.9V365.6M489.04 342.5V375.1M490.03 341.3V363.0M491.02 338.7V376.6M492.01 338.8V372.2M493.00 343.2V399.2M493.99 340.2V372.1M494.98 338.3V368.3M495.96 342.5V375.8M496.95 343.8V379.5M497.94 338.6V361.6M498.93 338.5V367.9M499.92 338.2V381.8M500.91 339.5V379.7M501.90 341.9V377.2M502.89 343.2V381.6M503.87 338.7V381.9M504.86 338.1V368.2M505.85 340.3V377.3M506.84 340.6V387.2M507.83 339.4V392.8M508.82 341.5V373.5M509.81 339.1V372.5M510.79 343.0V362.3M511.78 339.7V367.6M512.77 341.1V359.8M513.76 341.5V377.8M514.75 343.9V384.2M515.74 342.6V381.5M516.73 340.2V371.0M517.71 338.6V363.6M518.70 341.7V363.8M519.69 338.8V365.1M520.68 339.5V382.7M521.67 340.6V378.1M522.66 334.8V363.9M523.65 337.0V380.7" stroke="#cfe8d4" stroke-width="0.8" fill="none"/>
<path d="M391.17 284.3V285.9M392.16 284.7V286.3M393.15 285.1V286.7M394.13 285.7V287.3M395.12 286.3V287.9M396.11 287.0V288.6M397.10 288.0V289.6M398.09 289.1V290.7M399.08 290.3V291.9M400.07 291.7V293.3M401.06 293.1V294.7M402.04 294.9V296.5M403.03 296.8V298.4M404.02 298.9V300.5M405.01 301.1V302.7M406.00 303.1V304.7M406.99 305.2V306.8M407.98 307.4V309.0M408.96 309.6V311.2M409.95 311.6V313.2M410.94 313.5V315.4M411.93 315.4V317.6M412.92 317.2V319.6M413.91 318.9V321.7M414.90 320.4V323.4M415.88 321.9V325.6M416.87 323.3V327.1M417.86 324.4V328.4M418.85 325.4V329.1M419.84 326.2V330.2M420.83 327.3V331.3M421.82 328.1V332.9M422.81 328.3V335.0M423.79 328.9V334.7M424.78 330.1V335.8M425.77 330.5V338.0M426.76 331.2V338.7M427.75 331.8V341.5M428.74 332.5V343.2M429.73 332.8V345.1M430.71 332.7V345.4M431.70 333.5V346.4M432.69 334.5V346.3M433.68 334.0V351.4M434.67 334.3V345.5M435.66 335.7V348.0M436.65 334.7V355.0M437.63 336.6V354.7M438.62 336.1V351.3M439.61 337.0V350.6M440.60 337.8V350.7M441.59 338.2V353.9M442.58 338.3V358.3M443.57 337.5V357.8M444.56 336.9V358.1M445.54 337.0V360.9M446.53 338.7V352.7M447.52 338.0V353.5M448.51 340.7V358.8M449.50 339.6V352.5M450.49 339.1V364.9M451.48 341.2V369.4M452.46 341.1V366.1M453.45 340.7V374.8M454.44 341.7V368.9M455.43 340.1V368.0M456.42 342.4V376.1M457.41 342.5V362.9M458.40 342.3V371.3M459.38 341.2V365.7M460.37 341.2V361.6M461.36 343.4V374.2M462.35 342.7V363.1M463.34 341.6V364.3M464.33 343.1V384.4M465.32 343.6V384.3M466.31 341.4V376.3M467.29 342.4V359.2M468.28 342.8V358.0M469.27 344.1V390.6M470.26 341.7V361.4M471.25 342.7V370.4M472.24 342.7V363.3M473.23 342.6V357.9M474.21 341.6V368.5M475.20 342.3V380.8M476.19 343.7V363.0M477.18 343.4V364.6M478.17 344.5V361.9M479.16 341.9V378.8M480.15 342.9V361.0M481.14 341.6V374.5M482.12 341.7V378.3M483.11 341.6V361.0M484.10 342.8V362.2M485.09 341.6V368.1M486.08 344.3V365.9M487.07 342.6V368.5M488.06 343.4V361.4M489.04 343.9V371.5M490.03 343.5V360.7M491.02 341.3V373.1M492.01 340.7V370.1M493.00 344.8V397.3M493.99 343.1V371.1M494.98 340.8V367.1M495.96 343.6V372.9M496.95 344.2V376.6M497.94 339.8V360.9M498.93 340.9V364.6M499.92 339.4V376.9M500.91 341.1V377.0M501.90 344.1V374.6M502.89 344.1V381.3M503.87 339.5V377.0M504.86 340.1V365.6M505.85 340.9V373.0M506.84 342.8V383.2M507.83 341.9V392.4M508.82 342.5V372.2M509.81 341.7V367.7M510.79 344.3V362.0M511.78 341.7V362.7M512.77 343.6V359.7M513.76 343.6V377.6M514.75 344.7V382.1M515.74 343.7V380.4M516.73 342.9V369.4M517.71 340.9V363.0M518.70 343.6V360.1M519.69 341.4V364.6M520.68 342.1V381.9M521.67 341.1V373.6M522.66 336.6V361.6M523.65 340.0V380.7M484.96 352.8V415.9M475.60 351.6V396.9M499.65 353.7V392.0" stroke="#119a45" stroke-width="1.3" fill="none"/>
<polyline points="390.10,284.90 390.77,285.02 391.44,285.20 392.11,285.46 392.79,285.76 393.46,286.11 394.13,286.50 394.80,286.90 395.47,287.34 396.14,287.86 396.81,288.48 397.48,289.18 398.16,289.96 398.83,290.80 399.50,291.69 400.17,292.62 400.84,293.59 401.51,294.71 402.18,295.95 402.86,297.28 403.53,298.69 404.20,300.12 404.87,301.56 405.54,302.96 406.21,304.36 406.88,305.81 407.56,307.29 408.23,308.77 408.90,310.23 409.57,311.64 410.24,312.98 410.91,314.29 411.58,315.57 412.25,316.82 412.93,318.03 413.60,319.18 414.27,320.28 414.94,321.32 415.61,322.33 416.28,323.31 416.95,324.26 417.63,325.17 418.30,326.03 418.97,326.84 419.64,327.60 420.31,328.31 420.98,328.98 421.65,329.63 422.33,330.25 423.00,330.84 423.67,331.42 424.34,331.97 425.01,332.50 425.68,333.01 426.35,333.51 427.02,333.99 427.70,334.45 428.37,334.89 429.04,335.32 429.71,335.72 430.38,336.12 431.05,336.50 431.72,336.88 432.40,337.26 433.07,337.63 433.74,338.00 434.41,338.38 435.08,338.77 435.75,339.16 436.42,339.57 437.09,339.99 437.77,340.43 438.44,340.88 439.11,341.34 439.78,341.80 440.45,342.25 441.12,342.70 441.79,343.13 442.47,343.55 443.14,343.95 443.81,344.32 444.48,344.67 445.15,344.99 445.82,345.26 446.49,345.50 447.17,345.73 447.84,345.95 448.51,346.17 449.18,346.38 449.85,346.59 450.52,346.79 451.19,346.98 451.86,347.17 452.54,347.35 453.21,347.53 453.88,347.71 454.55,347.88 455.22,348.04 455.89,348.20 456.56,348.36 457.24,348.51 457.91,348.66 458.58,348.81 459.25,348.95 459.92,349.09 460.59,349.22 461.26,349.35 461.94,349.48 462.61,349.60 463.28,349.72 463.95,349.84 464.62,349.96 465.29,350.07 465.96,350.18 466.63,350.29 467.31,350.40 467.98,350.50 468.65,350.61 469.32,350.71 469.99,350.81 470.66,350.90 471.33,351.00 472.01,351.10 472.68,351.20 473.35,351.29 474.02,351.39 474.69,351.49 475.36,351.58 476.03,351.67 476.71,351.77 477.38,351.86 478.05,351.95 478.72,352.04 479.39,352.13 480.06,352.22 480.73,352.30 481.40,352.39 482.08,352.47 482.75,352.55 483.42,352.63 484.09,352.70 484.76,352.78 485.43,352.85 486.10,352.92 486.78,352.99 487.45,353.05 488.12,353.12 488.79,353.18 489.46,353.23 490.13,353.29 490.80,353.34 491.47,353.39 492.15,353.43 492.82,353.47 493.49,353.51 494.16,353.54 494.83,353.57 495.50,353.60 496.17,353.62 496.85,353.64 497.52,353.67 498.19,353.69 498.86,353.71 499.53,353.73 500.20,353.74 500.87,353.76 501.55,353.78 502.22,353.80 502.89,353.82 503.56,353.84 504.23,353.85 504.90,353.87 505.57,353.89 506.24,353.90 506.92,353.92 507.59,353.93 508.26,353.95 508.93,353.96 509.60,353.97 510.27,353.99 510.94,354.00 511.62,354.01 512.29,354.02 512.96,354.03 513.63,354.04 514.30,354.05 514.97,354.06 515.64,354.07 516.32,354.08 516.99,354.09 517.66,354.09 518.33,354.10 519.00,354.10 519.67,354.11 520.34,354.11 521.01,354.12 521.69,354.12 522.36,354.12 523.03,354.12 523.70,354.12" fill="none" stroke="#111" stroke-width="1.35"/>
</g>
<rect x="388.7" y="280.6" width="139.50000000000006" height="141.59999999999997" fill="none" stroke="#7a7a7a" stroke-width="1.1"/>
<path d="M390.10 422.2v-2.8M390.10 280.6v2.8M403.46 422.2v-2.4M403.46 280.6v2.4M416.82 422.2v-2.8M416.82 280.6v2.8M430.18 422.2v-2.4M430.18 280.6v2.4M443.54 422.2v-2.8M443.54 280.6v2.8M456.90 422.2v-2.4M456.90 280.6v2.4M470.26 422.2v-2.8M470.26 280.6v2.8M483.62 422.2v-2.4M483.62 280.6v2.4M496.98 422.2v-2.8M496.98 280.6v2.8M510.34 422.2v-2.4M510.34 280.6v2.4M523.70 422.2v-2.8M523.70 280.6v2.8M388.7 419.36h2.2M528.2 419.36h-2.2M388.7 414.38h2.2M528.2 414.38h-2.2M388.7 409.40h3.4M528.2 409.40h-3.4M388.7 404.42h2.2M528.2 404.42h-2.2M388.7 399.44h2.2M528.2 399.44h-2.2M388.7 394.46h2.2M528.2 394.46h-2.2M388.7 389.48h2.2M528.2 389.48h-2.2M388.7 384.50h3.4M528.2 384.50h-3.4M388.7 379.52h2.2M528.2 379.52h-2.2M388.7 374.54h2.2M528.2 374.54h-2.2M388.7 369.56h2.2M528.2 369.56h-2.2M388.7 364.58h2.2M528.2 364.58h-2.2M388.7 359.60h3.4M528.2 359.60h-3.4M388.7 354.62h2.2M528.2 354.62h-2.2M388.7 349.64h2.2M528.2 349.64h-2.2M388.7 344.66h2.2M528.2 344.66h-2.2M388.7 339.68h2.2M528.2 339.68h-2.2M388.7 334.70h3.4M528.2 334.70h-3.4M388.7 329.72h2.2M528.2 329.72h-2.2M388.7 324.74h2.2M528.2 324.74h-2.2M388.7 319.76h2.2M528.2 319.76h-2.2M388.7 314.78h2.2M528.2 314.78h-2.2M388.7 309.80h3.4M528.2 309.80h-3.4M388.7 304.82h2.2M528.2 304.82h-2.2M388.7 299.84h2.2M528.2 299.84h-2.2M388.7 294.86h2.2M528.2 294.86h-2.2M388.7 289.88h2.2M528.2 289.88h-2.2M388.7 284.90h3.4M528.2 284.90h-3.4" stroke="#7a7a7a" stroke-width="0.9" fill="none"/>
<text x="390.10" y="430.50" font-size="6.6" fill="#333" text-anchor="middle" >0</text>
<text x="416.82" y="430.50" font-size="6.6" fill="#333" text-anchor="middle" >0.1</text>
<text x="443.54" y="430.50" font-size="6.6" fill="#333" text-anchor="middle" >0.2</text>
<text x="470.26" y="430.50" font-size="6.6" fill="#333" text-anchor="middle" >0.3</text>
<text x="496.98" y="430.50" font-size="6.6" fill="#333" text-anchor="middle" >0.4</text>
<text x="523.70" y="430.50" font-size="6.6" fill="#333" text-anchor="middle" >0.5</text>
<text x="385.50" y="287.30" font-size="6.6" fill="#333" text-anchor="end" >2</text>
<text x="385.50" y="312.20" font-size="6.6" fill="#333" text-anchor="end" >1</text>
<text x="385.50" y="337.10" font-size="6.6" fill="#333" text-anchor="end" >0</text>
<text x="385.50" y="362.00" font-size="6.6" fill="#333" text-anchor="end" >-1</text>
<text x="385.50" y="386.90" font-size="6.6" fill="#333" text-anchor="end" >-2</text>
<text x="385.50" y="411.80" font-size="6.6" fill="#333" text-anchor="end" >-3</text>
<defs></defs>
<defs><path id="bp1" d="M280.1 120.8h0M280.6 127.0h0M281.0 133.1h0M281.4 139.3h0M281.8 145.5h0M286.0 65.0h0M286.0 71.2h0M286.1 77.4h0M286.2 83.6h0M286.3 89.8h0M286.3 96.0h0M286.4 102.2h0M286.5 108.4h0M286.5 114.6h0M286.6 120.8h0M286.7 127.0h0M286.7 133.2h0M286.8 139.4h0M286.9 145.6h0M290.1 58.9h0M290.5 65.1h0M290.9 71.3h0M291.3 77.5h0M291.7 83.7h0M292.1 89.8h0M292.5 96.0h0M292.9 102.2h0M293.3 108.4h0M293.7 114.6h0M294.1 120.8h0M294.5 127.0h0M294.9 133.2h0M295.3 139.3h0M295.7 145.5h0M296.1 151.7h0M294.4 59.2h0M295.1 65.3h0M295.8 71.5h0M296.6 77.6h0M297.3 83.8h0M298.0 89.9h0M298.7 96.1h0M299.4 102.3h0M300.1 108.4h0M300.9 114.6h0M301.6 120.7h0M302.3 126.9h0M303.0 133.1h0M303.7 139.2h0M304.4 145.4h0M305.2 151.5h0M298.7 59.5h0M299.8 65.6h0M300.8 71.8h0M301.8 77.9h0M302.9 84.0h0M303.9 90.1h0M304.9 96.2h0M306.0 102.3h0M307.0 108.4h0M308.0 114.6h0M309.0 120.7h0M310.1 126.8h0M311.1 132.9h0M312.1 139.0h0M313.2 145.1h0M314.2 151.2h0M303.1 60.0h0M304.5 66.1h0M305.8 72.2h0M307.1 78.2h0M308.5 84.3h0M309.8 90.3h0M311.2 96.4h0M312.5 102.4h0M313.8 108.5h0M315.2 114.5h0M316.5 120.6h0M317.8 126.6h0M319.2 132.7h0M320.5 138.7h0M321.9 144.8h0M323.2 150.8h0M311.7 75.6h0M313.3 81.6h0M315.0 87.6h0M316.6 93.6h0M318.2 99.5h0M319.9 105.5h0M321.5 111.5h0M323.1 117.5h0M324.8 123.5h0M326.4 129.4h0M328.0 135.4h0M329.7 141.4h0M317.9 79.1h0M319.8 85.0h0M321.8 90.9h0M323.7 96.8h0M325.6 102.7h0M327.5 108.6h0M329.5 114.4h0M331.4 120.3h0M333.3 126.2h0M335.2 132.1h0M323.4 79.6h0M325.6 85.4h0M327.8 91.2h0M330.0 97.0h0M332.2 102.8h0M334.4 108.6h0M336.6 114.4h0M338.8 120.2h0M330.2 83.0h0M332.7 88.7h0M335.1 94.4h0M337.6 100.1h0M340.0 105.8h0"/></defs><g fill="none" stroke-linecap="round"><use href="#bp1" stroke="#cdbfb0" stroke-width="3.10"/><use href="#bp1" stroke="#e3d6c6" stroke-width="2.42" transform="translate(-0.12,-0.12)"/><use href="#bp1" stroke="#efe6dc" stroke-width="0.93" transform="translate(-0.45,-0.45)"/></g><defs><path id="bp2" d="M280.4 123.9h0M280.8 130.1h0M281.2 136.2h0M281.6 142.4h0M285.9 61.9h0M286.0 68.1h0M286.1 74.3h0M286.2 80.5h0M286.2 86.7h0M286.3 92.9h0M286.4 99.1h0M286.4 105.3h0M286.5 111.5h0M286.6 117.7h0M286.6 123.9h0M286.7 130.1h0M286.8 136.3h0M286.8 142.5h0M286.9 148.7h0M290.3 62.0h0M290.7 68.2h0M291.1 74.4h0M291.5 80.6h0M291.9 86.8h0M292.3 92.9h0M292.7 99.1h0M293.1 105.3h0M293.5 111.5h0M293.9 117.7h0M294.3 123.9h0M294.7 130.1h0M295.1 136.2h0M295.5 142.4h0M295.9 148.6h0M296.3 154.8h0M294.8 62.2h0M295.5 68.4h0M296.2 74.5h0M296.9 80.7h0M297.6 86.9h0M298.4 93.0h0M299.1 99.2h0M299.8 105.3h0M300.5 111.5h0M301.2 117.7h0M301.9 123.8h0M302.6 130.0h0M303.4 136.1h0M304.1 142.3h0M304.8 148.5h0M305.5 154.6h0M299.2 62.6h0M300.3 68.7h0M301.3 74.8h0M302.3 80.9h0M303.4 87.0h0M304.4 93.2h0M305.4 99.3h0M306.5 105.4h0M307.5 111.5h0M308.5 117.6h0M309.6 123.7h0M310.6 129.8h0M311.6 136.0h0M312.7 142.1h0M313.7 148.2h0M314.7 154.3h0M303.8 63.1h0M305.1 69.1h0M306.5 75.2h0M307.8 81.2h0M309.1 87.3h0M310.5 93.3h0M311.8 99.4h0M313.2 105.4h0M314.5 111.5h0M315.8 117.6h0M317.2 123.6h0M318.5 129.7h0M319.9 135.7h0M321.2 141.8h0M322.5 147.8h0M310.9 72.6h0M312.5 78.6h0M314.1 84.6h0M315.8 90.6h0M317.4 96.6h0M319.0 102.5h0M320.7 108.5h0M322.3 114.5h0M324.0 120.5h0M325.6 126.4h0M327.2 132.4h0M328.9 138.4h0M317.0 76.1h0M318.9 82.0h0M320.8 87.9h0M322.7 93.8h0M324.7 99.7h0M326.6 105.6h0M328.5 111.5h0M330.4 117.4h0M332.3 123.3h0M334.3 129.2h0M336.2 135.1h0M324.5 82.5h0M326.7 88.3h0M328.9 94.1h0M331.1 99.9h0M333.3 105.7h0M335.5 111.5h0M337.7 117.3h0M339.9 123.1h0M331.5 85.9h0M333.9 91.6h0M336.4 97.3h0M338.8 103.0h0"/></defs><g fill="none" stroke-linecap="round"><use href="#bp2" stroke="#cdbfb0" stroke-width="3.10"/><use href="#bp2" stroke="#e3d6c6" stroke-width="2.42" transform="translate(-0.12,-0.12)"/><use href="#bp2" stroke="#efe6dc" stroke-width="0.93" transform="translate(-0.45,-0.45)"/></g><defs><path id="bp3" d="M236.4 87.6h0M239.0 93.2h0M241.7 98.8h0M244.3 104.4h0M247.0 110.0h0M239.8 81.4h0M242.2 87.1h0M244.6 92.8h0M246.9 98.6h0M249.3 104.3h0M251.7 110.0h0M254.1 115.7h0M256.5 121.4h0M258.8 127.2h0M261.2 132.9h0M263.6 138.6h0M266.0 144.3h0M268.4 150.1h0M243.9 75.0h0M246.0 80.8h0M248.1 86.6h0M250.1 92.5h0M252.2 98.3h0M254.3 104.2h0M256.4 110.0h0M258.5 115.8h0M260.6 121.7h0M262.7 127.5h0M264.7 133.4h0M266.8 139.2h0M268.9 145.0h0M271.0 150.9h0M247.8 65.4h0M249.6 71.4h0M251.3 77.3h0M253.1 83.3h0M254.9 89.2h0M256.7 95.1h0M258.4 101.1h0M260.2 107.0h0M262.0 113.0h0M263.8 118.9h0M265.5 124.9h0M267.3 130.8h0M269.1 136.7h0M270.9 142.7h0M272.6 148.6h0M252.8 55.7h0M254.2 61.8h0M255.7 67.8h0M257.1 73.8h0M258.6 79.9h0M260.0 85.9h0M261.5 91.9h0M262.9 97.9h0M264.4 104.0h0M265.8 110.0h0M267.2 116.0h0M268.7 122.1h0M270.1 128.1h0M271.6 134.1h0M273.0 140.1h0M274.5 146.2h0M275.9 152.2h0M261.1 58.1h0M262.2 64.2h0M263.3 70.3h0M264.4 76.4h0M265.5 82.5h0M266.6 88.6h0M267.7 94.7h0M268.8 100.8h0M269.9 106.9h0M271.1 113.1h0M272.2 119.2h0M273.3 125.3h0M274.4 131.4h0M275.5 137.5h0M276.6 143.6h0M277.7 149.7h0M268.4 54.6h0M269.2 60.8h0M269.9 66.9h0M270.7 73.1h0M271.4 79.2h0M272.2 85.4h0M272.9 91.5h0M273.7 97.7h0M274.4 103.8h0M275.2 110.0h0M276.0 116.2h0M276.7 122.3h0M277.5 128.5h0M278.2 134.6h0M279.0 140.8h0M279.7 146.9h0M280.5 153.1h0M276.5 57.4h0M276.9 63.6h0M277.3 69.8h0M277.7 76.0h0M278.1 82.2h0M278.5 88.3h0M278.9 94.5h0M279.3 100.7h0M279.7 106.9h0M280.1 113.1h0M280.5 119.3h0M280.9 125.5h0M281.3 131.7h0M281.7 137.8h0M282.1 144.0h0M282.5 150.2h0M282.9 156.4h0M286.2 57.3h0M286.3 63.5h0M286.4 69.7h0M286.5 75.9h0M286.6 82.1h0M286.7 88.3h0M286.8 94.5h0M286.9 100.7h0M287.0 106.9h0M287.0 113.1h0M287.1 119.3h0M287.2 125.5h0M287.3 131.7h0M287.4 137.9h0M287.5 144.1h0M287.6 150.3h0M287.7 156.5h0M290.0 51.2h0M290.5 57.4h0M290.9 63.6h0M291.3 69.8h0M291.7 76.0h0M292.1 82.2h0M292.5 88.3h0M293.0 94.5h0M293.4 100.7h0M293.8 106.9h0M294.2 113.1h0M294.6 119.3h0M295.0 125.5h0M295.5 131.7h0M295.9 137.8h0M296.3 144.0h0M296.7 150.2h0M297.1 156.4h0M297.5 162.6h0M294.0 51.5h0M294.7 57.7h0M295.5 63.8h0M296.2 70.0h0M296.9 76.1h0M297.7 82.3h0M298.4 88.5h0M299.2 94.6h0M299.9 100.8h0M300.6 106.9h0M301.4 113.1h0M302.1 119.2h0M302.8 125.4h0M303.6 131.5h0M304.3 137.7h0M305.1 143.9h0M305.8 150.0h0M306.5 156.2h0M307.3 162.3h0M298.0 52.0h0M299.0 58.1h0M300.1 64.2h0M301.1 70.3h0M302.2 76.4h0M303.3 82.5h0M304.3 88.6h0M305.4 94.7h0M306.4 100.8h0M307.5 106.9h0M308.5 113.1h0M309.6 119.2h0M310.6 125.3h0M311.7 131.4h0M312.7 137.5h0M313.8 143.6h0M314.9 149.7h0M315.9 155.8h0M317.0 161.9h0M302.8 55.6h0M304.1 61.6h0M305.5 67.7h0M306.8 73.7h0M308.2 79.8h0M309.6 85.8h0M310.9 91.9h0M312.3 97.9h0M313.6 104.0h0M315.0 110.0h0M316.4 116.0h0M317.7 122.1h0M319.1 128.1h0M320.4 134.2h0M321.8 140.2h0M323.2 146.3h0M324.5 152.3h0M325.9 158.4h0M307.1 56.2h0M308.7 62.2h0M310.4 68.2h0M312.1 74.2h0M313.7 80.1h0M315.4 86.1h0M317.0 92.1h0M318.7 98.1h0M320.3 104.0h0M322.0 110.0h0M323.7 116.0h0M325.3 121.9h0M327.0 127.9h0M328.6 133.9h0M330.3 139.9h0M331.9 145.8h0M333.6 151.8h0M316.4 71.7h0M318.3 77.6h0M320.3 83.5h0M322.2 89.4h0M324.1 95.3h0M326.1 101.2h0M328.0 107.1h0M330.0 112.9h0M331.9 118.8h0M333.9 124.7h0M335.8 130.6h0M337.7 136.5h0M339.7 142.4h0M322.7 75.3h0M324.9 81.0h0M327.1 86.8h0M329.4 92.6h0M331.6 98.4h0M333.8 104.2h0M336.0 110.0h0M338.2 115.8h0M340.4 121.6h0M342.6 127.4h0M344.9 133.2h0M328.2 75.9h0M330.6 81.6h0M333.1 87.3h0M335.6 92.9h0M338.1 98.6h0M340.5 104.3h0M343.0 110.0h0M345.5 115.7h0M335.1 79.3h0M337.8 84.9h0M340.5 90.5h0M343.2 96.1h0M345.9 101.6h0M234.3 93.3h0M232.2 97.8h0M225.7 102.3h0M234.3 101.7h0M206.4 107.7h0M215.0 107.2h0M223.6 106.7h0M232.2 106.2h0M240.7 105.7h0M200.0 112.2h0M208.5 111.7h0M217.1 111.2h0M225.7 110.7h0M234.3 110.1h0M242.9 109.6h0M197.8 116.7h0M206.4 116.1h0M215.0 115.6h0M223.6 115.1h0M232.2 114.6h0M240.7 114.1h0M191.4 121.1h0M200.0 120.6h0M208.5 120.1h0M217.1 119.6h0M225.7 119.1h0M234.3 118.5h0M242.9 118.0h0M189.2 125.6h0M197.8 125.1h0M206.4 124.5h0M215.0 124.0h0M223.6 123.5h0M232.2 123.0h0M240.7 122.5h0M249.3 122.0h0M191.4 129.5h0M200.0 129.0h0M208.5 128.5h0M217.1 128.0h0M225.7 127.5h0M234.3 126.9h0M242.9 126.4h0M251.5 125.9h0M189.2 134.0h0M197.8 133.5h0M206.4 132.9h0M215.0 132.4h0M223.6 131.9h0M232.2 131.4h0M240.7 130.9h0M249.3 130.4h0M182.8 138.4h0M191.4 137.9h0M200.0 137.4h0M208.5 136.9h0M217.1 136.4h0M225.7 135.9h0M234.3 135.3h0M242.9 134.8h0M251.5 134.3h0M184.9 142.6h0M193.5 142.1h0M202.1 141.6h0M210.7 141.1h0M219.3 140.6h0M227.9 140.1h0M236.4 139.5h0M245.0 139.0h0M253.6 138.5h0M182.8 146.8h0M191.4 146.3h0M200.0 145.8h0M208.5 145.3h0M217.1 144.8h0M225.7 144.3h0M234.3 143.7h0M242.9 143.2h0M251.5 142.7h0M260.0 142.2h0M189.2 150.8h0M197.8 150.3h0M206.4 149.7h0M215.0 149.2h0M223.6 148.7h0M232.2 148.2h0M245.0 147.4h0M253.6 146.9h0M262.2 146.4h0M191.4 154.7h0M200.0 154.2h0M208.5 153.7h0M217.1 153.2h0M225.7 152.7h0M234.3 152.1h0M193.5 158.9h0M202.1 158.4h0M210.7 157.9h0M219.3 157.4h0M227.9 156.9h0M195.7 162.9h0M204.2 162.3h0M212.8 161.8h0M221.4 161.3h0M202.1 166.8h0M210.7 166.3h0M219.3 165.8h0"/></defs><g fill="none" stroke-linecap="round"><use href="#bp3" stroke="#c2ad99" stroke-width="3.40"/><use href="#bp3" stroke="#eedecd" stroke-width="2.65" transform="translate(-0.12,-0.12)"/><use href="#bp3" stroke="#fcf6f0" stroke-width="1.02" transform="translate(-0.45,-0.45)"/></g><defs><path id="bp4" d="M237.7 90.4h0M240.3 96.0h0M243.0 101.6h0M245.7 107.2h0M248.3 112.8h0M241.0 84.2h0M243.4 90.0h0M245.7 95.7h0M248.1 101.4h0M250.5 107.1h0M252.9 112.9h0M255.3 118.6h0M257.7 124.3h0M260.0 130.0h0M262.4 135.8h0M264.8 141.5h0M267.2 147.2h0M242.8 72.1h0M244.9 77.9h0M247.0 83.7h0M249.1 89.6h0M251.2 95.4h0M253.3 101.2h0M255.4 107.1h0M257.4 112.9h0M259.5 118.8h0M261.6 124.6h0M263.7 130.4h0M265.8 136.3h0M267.9 142.1h0M270.0 147.9h0M246.9 62.5h0M248.7 68.4h0M250.5 74.4h0M252.2 80.3h0M254.0 86.2h0M255.8 92.2h0M257.6 98.1h0M259.3 104.1h0M261.1 110.0h0M262.9 115.9h0M264.6 121.9h0M266.4 127.8h0M268.2 133.8h0M270.0 139.7h0M271.7 145.6h0M273.5 151.6h0M253.5 58.8h0M254.9 64.8h0M256.4 70.8h0M257.8 76.8h0M259.3 82.9h0M260.7 88.9h0M262.2 94.9h0M263.6 101.0h0M265.1 107.0h0M266.5 113.0h0M268.0 119.0h0M269.4 125.1h0M270.9 131.1h0M272.3 137.1h0M273.8 143.2h0M275.2 149.2h0M260.5 55.1h0M261.7 61.2h0M262.8 67.3h0M263.9 73.4h0M265.0 79.5h0M266.1 85.6h0M267.2 91.7h0M268.3 97.8h0M269.4 103.9h0M270.5 110.0h0M271.6 116.1h0M272.7 122.2h0M273.8 128.3h0M274.9 134.4h0M276.0 140.5h0M277.1 146.6h0M278.2 152.7h0M268.8 57.7h0M269.5 63.8h0M270.3 70.0h0M271.1 76.2h0M271.8 82.3h0M272.6 88.5h0M273.3 94.6h0M274.1 100.8h0M274.8 106.9h0M275.6 113.1h0M276.3 119.2h0M277.1 125.4h0M277.8 131.5h0M278.6 137.7h0M279.3 143.8h0M280.1 150.0h0M276.3 54.3h0M276.7 60.5h0M277.1 66.7h0M277.5 72.9h0M277.9 79.1h0M278.3 85.3h0M278.7 91.4h0M279.1 97.6h0M279.5 103.8h0M279.9 110.0h0M280.3 116.2h0M280.7 122.4h0M281.1 128.6h0M281.5 134.7h0M281.9 140.9h0M282.3 147.1h0M282.7 153.3h0M286.2 54.2h0M286.3 60.4h0M286.3 66.6h0M286.4 72.8h0M286.5 79.0h0M286.6 85.2h0M286.7 91.4h0M286.8 97.6h0M286.9 103.8h0M287.0 110.0h0M287.1 116.2h0M287.2 122.4h0M287.3 128.6h0M287.4 134.8h0M287.5 141.0h0M287.6 147.2h0M287.7 153.4h0M287.7 159.6h0M290.2 54.3h0M290.7 60.5h0M291.1 66.7h0M291.5 72.9h0M291.9 79.1h0M292.3 85.3h0M292.7 91.4h0M293.2 97.6h0M293.6 103.8h0M294.0 110.0h0M294.4 116.2h0M294.8 122.4h0M295.3 128.6h0M295.7 134.7h0M296.1 140.9h0M296.5 147.1h0M296.9 153.3h0M297.3 159.5h0M297.8 165.7h0M294.4 54.6h0M295.1 60.8h0M295.8 66.9h0M296.6 73.1h0M297.3 79.2h0M298.0 85.4h0M298.8 91.5h0M299.5 97.7h0M300.3 103.8h0M301.0 110.0h0M301.7 116.2h0M302.5 122.3h0M303.2 128.5h0M304.0 134.6h0M304.7 140.8h0M305.4 146.9h0M306.2 153.1h0M306.9 159.2h0M307.6 165.4h0M298.5 55.0h0M299.6 61.1h0M300.6 67.2h0M301.7 73.3h0M302.7 79.5h0M303.8 85.6h0M304.8 91.7h0M305.9 97.8h0M306.9 103.9h0M308.0 110.0h0M309.1 116.1h0M310.1 122.2h0M311.2 128.3h0M312.2 134.4h0M313.3 140.5h0M314.3 146.7h0M315.4 152.8h0M316.4 158.9h0M302.1 52.5h0M303.4 58.6h0M304.8 64.6h0M306.2 70.7h0M307.5 76.7h0M308.9 82.8h0M310.2 88.8h0M311.6 94.9h0M313.0 100.9h0M314.3 107.0h0M315.7 113.0h0M317.0 119.1h0M318.4 125.1h0M319.8 131.2h0M321.1 137.2h0M322.5 143.3h0M323.8 149.3h0M325.2 155.4h0M306.3 53.2h0M307.9 59.2h0M309.6 65.2h0M311.2 71.2h0M312.9 77.1h0M314.5 83.1h0M316.2 89.1h0M317.9 95.1h0M319.5 101.0h0M321.2 107.0h0M322.8 113.0h0M324.5 119.0h0M326.1 124.9h0M327.8 130.9h0M329.5 136.9h0M331.1 142.9h0M332.8 148.8h0M315.4 68.8h0M317.3 74.7h0M319.3 80.6h0M321.2 86.4h0M323.2 92.3h0M325.1 98.2h0M327.1 104.1h0M329.0 110.0h0M330.9 115.9h0M332.9 121.8h0M334.8 127.7h0M336.8 133.6h0M338.7 139.4h0M321.6 72.4h0M323.8 78.2h0M326.0 83.9h0M328.2 89.7h0M330.5 95.5h0M332.7 101.3h0M334.9 107.1h0M337.1 112.9h0M339.3 118.7h0M341.5 124.5h0M343.8 130.3h0M346.0 136.1h0M329.4 78.7h0M331.9 84.4h0M334.3 90.1h0M336.8 95.8h0M339.3 101.5h0M341.8 107.2h0M344.2 112.8h0M346.7 118.5h0M336.4 82.1h0M339.1 87.7h0M341.8 93.3h0M344.6 98.9h0M347.3 104.4h0M227.9 98.1h0M236.4 97.5h0M230.0 102.0h0M238.6 101.5h0M210.7 107.5h0M219.3 107.0h0M227.9 106.5h0M236.4 105.9h0M195.7 112.5h0M204.2 111.9h0M212.8 111.4h0M221.4 110.9h0M230.0 110.4h0M238.6 109.9h0M193.5 116.9h0M202.1 116.4h0M210.7 115.9h0M219.3 115.4h0M227.9 114.9h0M236.4 114.3h0M245.0 113.8h0M195.7 120.9h0M204.2 120.3h0M212.8 119.8h0M221.4 119.3h0M230.0 118.8h0M238.6 118.3h0M247.2 117.8h0M193.5 125.3h0M202.1 124.8h0M210.7 124.3h0M219.3 123.8h0M227.9 123.3h0M236.4 122.7h0M245.0 122.2h0M187.1 129.8h0M195.7 129.3h0M204.2 128.7h0M212.8 128.2h0M221.4 127.7h0M230.0 127.2h0M238.6 126.7h0M247.2 126.2h0M184.9 134.2h0M193.5 133.7h0M202.1 133.2h0M210.7 132.7h0M219.3 132.2h0M227.9 131.7h0M236.4 131.1h0M245.0 130.6h0M253.6 130.1h0M187.1 138.2h0M195.7 137.7h0M204.2 137.1h0M212.8 136.6h0M221.4 136.1h0M230.0 135.6h0M238.6 135.1h0M247.2 134.6h0M255.8 134.1h0M189.2 142.4h0M197.8 141.9h0M206.4 141.3h0M215.0 140.8h0M223.6 140.3h0M232.2 139.8h0M240.7 139.3h0M249.3 138.8h0M257.9 138.3h0M187.1 146.6h0M195.7 146.1h0M204.2 145.5h0M212.8 145.0h0M221.4 144.5h0M230.0 144.0h0M238.6 143.5h0M247.2 143.0h0M255.8 142.5h0M184.9 151.0h0M193.5 150.5h0M202.1 150.0h0M210.7 149.5h0M219.3 149.0h0M227.9 148.5h0M236.4 147.9h0M249.3 147.2h0M257.9 146.7h0M187.1 155.0h0M195.7 154.5h0M204.2 153.9h0M212.8 153.4h0M221.4 152.9h0M230.0 152.4h0M189.2 159.2h0M197.8 158.7h0M206.4 158.1h0M215.0 157.6h0M223.6 157.1h0M232.2 156.6h0M200.0 162.6h0M208.5 162.1h0M217.1 161.6h0M225.7 161.1h0M206.4 166.5h0M215.0 166.0h0M223.6 165.5h0"/></defs><g fill="none" stroke-linecap="round"><use href="#bp4" stroke="#c2ad99" stroke-width="3.40"/><use href="#bp4" stroke="#eedecd" stroke-width="2.65" transform="translate(-0.12,-0.12)"/><use href="#bp4" stroke="#fcf6f0" stroke-width="1.02" transform="translate(-0.45,-0.45)"/></g><path d="M322.0 136.1L324.1 136.5M323.9 135.0L322.7 134.8M325.0 133.7L322.0 133.2M324.3 132.1L323.1 131.9M322.9 130.4L325.0 130.7M332.3 103.1L331.9 103.0M330.6 104.2L332.5 104.8M329.6 105.5L332.5 106.4M329.6 107.1L331.5 107.7M330.2 108.9L329.9 108.8M313.7 110.1L313.8 113.0M316.0 112.1L316.0 110.9M318.3 113.3L318.1 109.6M320.4 112.0L320.4 110.8M322.6 109.8L322.7 112.8M307.1 88.1L307.5 87.6M306.9 86.4L305.9 87.7M306.3 85.3L304.6 87.2M305.1 84.9L304.0 86.1M303.4 84.9L303.8 84.4M319.3 137.2L318.9 137.6M318.8 135.1L316.8 137.0M317.8 133.5L315.2 135.9M316.2 132.4L314.3 134.3M314.2 131.8L313.8 132.2M327.6 86.7L328.5 87.5M326.0 86.8L328.5 89.1M324.9 87.4L328.0 90.3M324.4 88.6L326.9 90.8M324.4 90.1L325.3 91.0M312.3 133.6L312.4 131.6M310.1 131.6L310.0 133.4M307.9 130.5L307.7 134.2M305.5 131.3L305.4 133.1M303.1 133.1L303.3 131.1M304.6 111.4L304.7 110.3M302.4 109.8L302.3 111.7M300.1 109.0L299.9 112.2M297.7 109.6L297.7 111.4M295.3 111.0L295.4 109.8M299.9 98.4L299.8 98.3M297.9 98.9L300.5 100.2M296.8 99.9L300.5 101.7M296.7 101.4L299.3 102.7M297.5 103.3L297.3 103.2M342.6 115.8L341.9 116.7M341.6 113.8L339.7 116.2M340.2 112.2L337.9 115.3M338.4 111.3L336.5 113.7M336.2 110.8L335.5 111.7M317.2 89.5L317.8 90.2M315.4 89.2L317.4 92.0M314.1 89.5L316.6 93.1M313.3 90.7L315.3 93.5M313.0 92.4L313.5 93.2M322.0 97.5L323.3 98.8M324.5 97.1L323.7 96.3M326.5 96.2L324.6 94.3M327.4 94.2L326.6 93.4M327.8 91.7L329.1 92.9M318.9 81.0L319.8 80.6M318.9 83.6L321.6 82.6M319.4 85.9L322.8 84.7M320.6 88.1L323.3 87.1M322.3 90.0L323.2 89.6M338.0 118.2L337.8 118.7M336.9 116.6L335.9 118.9M335.6 115.6L334.2 118.6M333.9 115.2L332.8 117.5M332.0 115.4L331.8 115.9" stroke="#999" stroke-width="0.50" fill="none" opacity="0.7"/><defs><path id="ld1" d="M321.4 137.5L322.0 136.1L323.9 135.0L325.0 133.7L324.3 132.1L322.9 130.4L322.8 128.8M324.2 138.0L324.1 136.5L322.7 134.8L322.0 133.2L323.1 131.9L325.0 130.7L325.6 129.3M333.8 102.0L332.3 103.1L330.6 104.2L329.6 105.5L329.6 107.1L330.2 108.9L330.7 110.7M331.4 101.2L331.9 103.0L332.5 104.8L332.5 106.4L331.5 107.7L329.9 108.8L328.4 109.9M311.5 110.1L313.7 110.1L316.0 112.1L318.3 113.3L320.4 112.0L322.6 109.8L324.8 109.7M311.6 113.2L313.8 113.0L316.0 110.9L318.1 109.6L320.4 110.8L322.7 112.8L324.9 112.8M307.5 89.5L307.1 88.1L306.9 86.4L306.3 85.3L305.1 84.9L303.4 84.9L301.9 84.8M309.0 87.8L307.5 87.6L305.9 87.7L304.6 87.2L304.0 86.1L303.8 84.4L303.4 83.0M319.7 139.4L319.3 137.2L318.8 135.1L317.8 133.5L316.2 132.4L314.2 131.8L312.0 131.3M321.0 138.1L318.9 137.6L316.8 137.0L315.2 135.9L314.3 134.3L313.8 132.2L313.3 130.0M329.4 86.7L327.6 86.7L326.0 86.8L324.9 87.4L324.4 88.6L324.4 90.1L324.6 91.9M328.3 85.8L328.5 87.5L328.5 89.1L328.0 90.3L326.9 90.8L325.3 91.0L323.5 90.9M314.5 134.6L312.3 133.6L310.1 131.6L307.9 130.5L305.5 131.3L303.1 133.1L300.8 133.8M314.8 130.9L312.4 131.6L310.0 133.4L307.7 134.2L305.4 133.1L303.3 131.1L301.0 130.0M306.9 112.5L304.6 111.4L302.4 109.8L300.1 109.0L297.7 109.6L295.3 111.0L293.0 111.8M307.1 109.4L304.7 110.3L302.3 111.7L299.9 112.2L297.7 111.4L295.4 109.8L293.1 108.7M301.8 97.8L299.9 98.4L297.9 98.9L296.8 99.9L296.7 101.4L297.5 103.3L298.2 105.2M299.1 96.5L299.8 98.3L300.5 100.2L300.5 101.7L299.3 102.7L297.3 103.2L295.4 103.8M343.5 118.0L342.6 115.8L341.6 113.8L340.2 112.2L338.4 111.3L336.2 110.8L333.9 110.5M344.2 117.0L341.9 116.7L339.7 116.2L337.9 115.3L336.5 113.7L335.5 111.7L334.7 109.6M319.1 89.9L317.2 89.5L315.4 89.2L314.1 89.5L313.3 90.7L313.0 92.4L312.8 94.4M318.0 88.3L317.8 90.2L317.4 92.0L316.6 93.1L315.3 93.5L313.5 93.2L311.6 92.7M320.3 98.7L322.0 97.5L324.5 97.1L326.5 96.2L327.4 94.2L327.8 91.7L328.9 89.9M322.2 100.5L323.3 98.8L323.7 96.3L324.6 94.3L326.6 93.4L329.1 92.9L330.8 91.8M319.2 78.3L318.9 81.0L318.9 83.6L319.4 85.9L320.6 88.1L322.3 90.0L324.3 91.8M317.9 78.8L319.8 80.6L321.6 82.6L322.8 84.7L323.3 87.1L323.2 89.6L323.0 92.3M339.1 119.9L338.0 118.2L336.9 116.6L335.6 115.6L333.9 115.2L332.0 115.4L330.0 115.7M339.8 118.4L337.8 118.7L335.9 118.9L334.2 118.6L332.8 117.5L331.8 115.9L330.7 114.2"/></defs><g fill="none" stroke-linejoin="round" stroke-linecap="round"><use href="#ld1" stroke="#555" stroke-width="1.1"/><use href="#ld1" stroke="#ececec" stroke-width="0.44"/></g><defs><path id="ar2" d="M316.5 111.2l0.0-3.2M311.9 76.1l6.8-1.4M311.3 107.5A3.9 3.9 0 0 1 318.3 108.8M314.6 114.3A6.1 6.1 0 0 1 306.3 105.5M338.6 83.8A5.8 5.8 0 0 1 328.9 87.4M333.1 112.1A3.4 3.4 0 0 1 328.7 109.5M300.0 101.6A4.8 4.8 0 0 1 298.5 95.1M335.2 103.6A4.6 4.6 0 0 1 344.2 103.2M324.5 116.7A6.0 6.0 0 0 1 333.6 109.0M297.3 109.5A6.3 6.3 0 0 1 294.1 97.8M323.3 128.3A6.4 6.4 0 0 1 321.8 118.4M321.2 111.4A5.1 5.1 0 0 1 323.7 101.5M319.4 117.9A3.2 3.2 0 0 1 314.4 119.3M333.2 127.9A3.0 3.0 0 0 1 329.3 132.0M338.8 110.1A2.7 2.7 0 0 1 337.0 112.1M306.1 90.9l-3.0-1.3M321.4 87.7A2.6 2.6 0 0 1 322.6 82.7M321.6 133.8A4.9 4.9 0 0 1 315.0 128.2M296.4 97.0l5.1 4.4M336.2 99.5A5.7 5.7 0 0 1 326.7 94.2M332.5 84.2A5.1 5.1 0 0 1 337.9 82.6M323.1 122.0A5.7 5.7 0 0 1 324.5 111.4M320.7 92.9A6.3 6.3 0 0 1 320.6 84.3M315.9 118.7l-2.8 2.6M325.8 130.5l-4.3 4.5M304.3 90.8l-3.4 0.9M330.1 113.4l6.7 3.5M337.5 92.3l3.3-5.8M302.0 99.7A4.0 4.0 0 0 1 306.2 101.2M325.3 130.6A5.2 5.2 0 0 1 324.0 125.2M318.9 125.5l-0.6 6.2M329.9 135.0l3.1 7.1M328.4 117.8A6.3 6.3 0 0 1 325.0 129.3M313.0 117.6l0.4-7.5M328.6 104.2l-2.8 1.5M334.5 110.9l-7.0-2.2M314.9 133.6A4.0 4.0 0 0 1 308.4 129.5M330.7 131.8A3.0 3.0 0 0 1 325.5 128.9"/></defs><g fill="none" stroke-linecap="round"><use href="#ar2" stroke="#555" stroke-width="1.05"/><use href="#ar2" stroke="#ececec" stroke-width="0.42"/></g><path d="M292.8 90.5L292.0 90.5M294.1 89.1L290.7 89.1M294.6 87.6L290.2 87.6M294.1 86.2L290.7 86.2M292.8 84.8L292.0 84.8M290.6 66.6L290.1 66.4M288.6 67.5L291.0 68.5M287.3 68.7L291.0 70.2M287.3 70.4L289.7 71.4M288.2 72.5L287.7 72.2M281.8 82.7L281.2 82.7M280.9 84.1L282.5 83.9M280.6 85.5L283.2 85.2M281.3 86.8L282.9 86.5M282.5 87.9L282.0 88.0M275.1 78.1L276.1 78.9M277.4 77.6L276.2 76.7M279.0 76.7L276.8 74.8M279.7 74.8L278.5 73.9M279.8 72.6L280.7 73.4M283.7 87.7L282.8 87.5M281.8 89.1L284.0 89.6M280.7 90.8L284.3 91.6M281.0 92.8L283.2 93.2M282.2 94.9L281.3 94.7M285.0 105.1L284.3 104.5M286.5 104.6L284.9 103.0M287.6 103.8L285.7 101.8M288.5 102.6L286.8 101.0M289.0 101.1L288.3 100.4M285.4 90.1L285.4 90.3M283.0 89.3L283.1 91.2M280.6 89.0L280.7 91.6M278.2 89.4L278.3 91.3M275.9 90.3L275.9 90.4M294.1 67.3L291.7 67.5M292.1 69.2L294.0 69.1M291.1 71.1L295.3 70.7M292.4 72.8L294.3 72.6M294.7 74.4L292.3 74.6" stroke="#999" stroke-width="0.50" fill="none" opacity="0.7"/><defs><path id="ld3" d="M291.4 91.9L292.8 90.5L294.1 89.1L294.6 87.6L294.1 86.2L292.8 84.8L291.4 83.4M293.4 91.9L292.0 90.5L290.7 89.1L290.2 87.6L290.7 86.2L292.0 84.8L293.4 83.4M292.5 65.7L290.6 66.6L288.6 67.5L287.3 68.7L287.3 70.4L288.2 72.5L288.8 74.5M289.5 64.4L290.1 66.4L291.0 68.5L291.0 70.2L289.7 71.4L287.7 72.2L285.8 73.2M282.5 81.2L281.8 82.7L280.9 84.1L280.6 85.5L281.3 86.8L282.5 87.9L283.6 89.1M280.2 81.5L281.2 82.7L282.5 83.9L283.2 85.2L282.9 86.5L282.0 88.0L281.3 89.5M273.4 79.0L275.1 78.1L277.4 77.6L279.0 76.7L279.7 74.8L279.8 72.6L280.3 70.7M275.6 80.8L276.1 78.9L276.2 76.7L276.8 74.8L278.5 73.9L280.7 73.4L282.5 72.5M285.4 86.1L283.7 87.7L281.8 89.1L280.7 90.8L281.0 92.8L282.2 94.9L283.1 97.0M282.0 85.4L282.8 87.5L284.0 89.6L284.3 91.6L283.2 93.2L281.3 94.7L279.7 96.3M283.5 105.6L285.0 105.1L286.5 104.6L287.6 103.8L288.5 102.6L289.0 101.1L289.4 99.5M284.0 106.0L284.3 104.5L284.9 103.0L285.7 101.8L286.8 101.0L288.3 100.4L289.9 100.0M287.8 91.0L285.4 90.1L283.0 89.3L280.6 89.0L278.2 89.4L275.9 90.3L273.5 91.2M287.8 89.3L285.4 90.3L283.1 91.2L280.7 91.6L278.3 91.3L275.9 90.4L273.5 89.6M294.9 65.4L294.1 67.3L292.1 69.2L291.1 71.1L292.4 72.8L294.7 74.4L295.8 76.1M290.6 65.8L291.7 67.5L294.0 69.1L295.3 70.7L294.3 72.6L292.3 74.6L291.5 76.4"/></defs><g fill="none" stroke-linejoin="round" stroke-linecap="round"><use href="#ld3" stroke="#5a5a5a" stroke-width="1.1"/><use href="#ld3" stroke="#ececec" stroke-width="0.44"/></g><defs><path id="ar4" d="M299.4 97.2A5.9 5.9 0 0 1 307.1 105.2M285.6 72.5A3.2 3.2 0 0 1 282.5 77.2M283.9 111.0l-3.5-0.3M307.9 90.2A3.6 3.6 0 0 1 308.2 96.9M293.7 107.7A4.2 4.2 0 0 1 298.3 114.4M284.1 98.1l-7.2-2.4M274.4 100.9l5.6-1.5M291.4 103.3A5.4 5.4 0 0 1 281.9 103.1M292.1 110.7l-6.5 2.0M293.0 72.8A3.4 3.4 0 0 1 289.6 67.0M274.1 86.0A5.3 5.3 0 0 1 284.4 86.8M285.5 91.7A5.2 5.2 0 0 1 293.5 93.6M288.2 85.8A4.0 4.0 0 0 1 294.8 82.0M292.4 78.9A4.0 4.0 0 0 1 290.0 86.2M288.1 100.2l-6.3 5.2M288.4 90.2A5.2 5.2 0 0 1 296.6 89.1M278.6 80.0l-8.2 3.8M284.7 87.5l-7.6-4.3M304.0 84.1l4.5-4.0M292.9 69.6A3.8 3.8 0 0 1 295.9 65.8M287.6 101.4A4.4 4.4 0 0 1 291.1 107.7M285.4 92.2l-2.9 6.6"/></defs><g fill="none" stroke-linecap="round"><use href="#ar4" stroke="#5a5a5a" stroke-width="1.05"/><use href="#ar4" stroke="#ececec" stroke-width="0.42"/></g><path d="M280.6 127.0L280.8 127.6M279.1 126.3L280.1 129.1M277.7 126.3L279.0 130.0M276.7 127.2L277.7 130.0M275.9 128.7L276.1 129.3M276.8 116.6L277.4 116.1M277.0 114.5L275.3 115.9M276.5 112.9L273.9 115.2M275.0 112.2L273.4 113.6M272.9 112.0L273.5 111.5M271.8 109.5L271.6 109.0M273.5 110.0L272.9 107.7M275.1 110.0L274.3 107.0M276.5 109.3L275.9 107.0M277.8 108.0L277.7 107.5M254.3 119.8L253.4 119.7M255.3 117.8L253.0 117.5M255.9 115.7L253.0 115.3M255.9 113.6L253.6 113.3M255.5 111.4L254.6 111.3M268.4 126.9L268.3 125.5M265.9 125.3L266.0 127.5M263.4 124.7L263.7 128.5M261.1 125.7L261.3 127.8M258.8 127.7L258.7 126.2M281.6 123.7L281.0 123.3M279.6 124.2L281.4 125.4M278.2 125.1L281.0 126.9M277.9 126.7L279.7 127.9M278.2 128.7L277.7 128.3" stroke="#999" stroke-width="0.50" fill="none" opacity="0.7"/><defs><path id="ld5" d="M282.2 127.8L280.6 127.0L279.1 126.3L277.7 126.3L276.7 127.2L275.9 128.7L275.2 130.4M281.6 126.0L280.8 127.6L280.1 129.1L279.0 130.0L277.7 130.0L276.1 129.3L274.5 128.5M276.9 118.5L276.8 116.6L277.0 114.5L276.5 112.9L275.0 112.2L272.9 112.0L271.0 111.6M279.3 116.5L277.4 116.1L275.3 115.9L273.9 115.2L273.4 113.6L273.5 111.5L273.4 109.6M270.0 108.8L271.8 109.5L273.5 110.0L275.1 110.0L276.5 109.3L277.8 108.0L279.0 106.6M270.4 110.4L271.6 109.0L272.9 107.7L274.3 107.0L275.9 107.0L277.7 107.5L279.4 108.2M253.1 121.8L254.3 119.8L255.3 117.8L255.9 115.7L255.9 113.6L255.5 111.4L254.9 109.2M254.0 121.9L253.4 119.7L253.0 117.5L253.0 115.3L253.6 113.3L254.6 111.3L255.7 109.3M270.9 127.9L268.4 126.9L265.9 125.3L263.4 124.7L261.1 125.7L258.8 127.7L256.5 129.0M270.6 124.2L268.3 125.5L266.0 127.5L263.7 128.5L261.3 127.8L258.7 126.2L256.3 125.3M283.4 123.1L281.6 123.7L279.6 124.2L278.2 125.1L277.9 126.7L278.2 128.7L278.4 130.6M280.9 121.4L281.0 123.3L281.4 125.4L281.0 126.9L279.7 127.9L277.7 128.3L275.9 128.9"/></defs><g fill="none" stroke-linejoin="round" stroke-linecap="round"><use href="#ld5" stroke="#5e5e5e" stroke-width="1.1"/><use href="#ld5" stroke="#ececec" stroke-width="0.44"/></g><defs><path id="ar6" d="M255.6 118.2A3.0 3.0 0 0 1 251.8 118.3M254.6 117.1l-3.8 1.0M258.8 128.5l-4.0-3.7M264.7 129.4l7.4-3.9M275.4 96.9A4.9 4.9 0 0 1 279.6 101.8M252.6 111.3l4.1-7.4M269.7 120.5A6.3 6.3 0 0 1 279.1 119.9M263.9 103.2A5.3 5.3 0 0 1 271.6 96.4M278.2 112.1l2.8 3.0M263.1 114.0A3.6 3.6 0 0 1 259.6 119.7M282.1 114.5l1.0-4.4M253.3 132.1A3.3 3.3 0 0 1 253.2 125.5M258.7 125.3l1.5-3.4M273.7 104.2A5.9 5.9 0 0 1 265.8 106.4M273.8 123.3A5.0 5.0 0 0 1 282.4 118.7M255.8 131.1A5.5 5.5 0 0 1 260.3 121.9"/></defs><g fill="none" stroke-linecap="round"><use href="#ar6" stroke="#5e5e5e" stroke-width="1.05"/><use href="#ar6" stroke="#ececec" stroke-width="0.42"/></g><path d="M249.2 129.4L249.5 128.0M251.1 131.4L251.9 126.7M253.1 132.5L254.1 126.4M255.3 132.1L256.1 127.4M257.7 130.8L257.9 129.5M258.1 126.8L258.2 127.4M255.8 125.6L256.5 129.5M253.6 125.3L254.7 130.5M251.8 126.3L252.5 130.2M250.1 128.4L250.2 129.0M245.0 122.2L246.8 121.8M244.3 123.9L248.1 123.2M244.3 125.5L248.7 124.6M244.9 127.0L248.7 126.2M246.2 128.3L248.0 128.0" stroke="#8fb0d8" stroke-width="0.45" fill="none" opacity="0.7"/><defs><path id="ld7" d="M247.5 127.0L249.2 129.4L251.1 131.4L253.1 132.5L255.3 132.1L257.7 130.8L260.1 129.2M247.0 129.7L249.5 128.0L251.9 126.7L254.1 126.4L256.1 127.4L257.9 129.5L259.7 131.8M260.5 128.3L258.1 126.8L255.8 125.6L253.6 125.3L251.8 126.3L250.1 128.4L248.4 130.6M259.9 125.2L258.2 127.4L256.5 129.5L254.7 130.5L252.5 130.2L250.2 129.0L247.8 127.5M245.9 120.4L245.0 122.2L244.3 123.9L244.3 125.5L244.9 127.0L246.2 128.3L247.7 129.6M245.3 120.5L246.8 121.8L248.1 123.2L248.7 124.6L248.7 126.2L248.0 128.0L247.1 129.7"/></defs><g fill="none" stroke-linejoin="round" stroke-linecap="round"><use href="#ld7" stroke="#3d6ea8" stroke-width="1.0"/></g><defs><path id="ar8" d="M254.0 132.6A6.2 6.2 0 0 1 250.2 122.4M256.2 124.2l4.4-3.9M256.5 136.5A2.5 2.5 0 0 1 259.8 134.4M264.3 124.2l2.2-5.4M252.4 140.2A2.7 2.7 0 0 1 252.3 136.9M239.7 128.2A4.8 4.8 0 0 1 246.7 129.5M252.8 133.3A5.7 5.7 0 0 1 259.1 129.4M258.6 130.9l-5.8-5.4"/></defs><g fill="none" stroke-linecap="round"><use href="#ar8" stroke="#3d6ea8" stroke-width="1.0"/></g><path d="M262 132l6 -3 6 1 5 3 4 -1 4 2 3 4" fill="none" stroke="#3d6ea8" stroke-width="1.1" stroke-linejoin="round"/><polyline points="209.87,158.07 210.36,158.11 210.82,158.13 211.24,158.13 211.63,158.11 212.00,158.07 212.32,158.00 212.62,157.91 212.88,157.79 213.11,157.64 213.31,157.47 213.48,157.27 213.61,157.04 213.72,156.78 213.79,156.49 213.83,156.17 213.85,155.82 213.84,155.44 213.80,155.03 213.74,154.60 213.66,154.13 213.55,153.64 213.43,153.12 213.29,152.57 213.13,152.00 212.95,151.41 212.77,150.79 212.57,150.15 212.37,149.49 212.16,148.82 211.94,148.12 211.73,147.41 211.51,146.69 211.30,145.95 211.09,145.20 210.89,144.45 210.69,143.69 210.51,142.92 210.34,142.15 210.18,141.38 210.04,140.62 209.92,139.85 209.82,139.09 209.74,138.34 209.69,137.59 209.66,136.86 209.65,136.13 209.68,135.43 209.73,134.73 209.81,134.06 209.92,133.40 210.06,132.77 210.23,132.16 210.44,131.57 210.68,131.00 210.95,130.46 211.25,129.94 211.59,129.46 211.95,129.00 212.36,128.57 212.79,128.16 213.25,127.79 213.74,127.45 214.27,127.13 214.82,126.85 215.39,126.59 216.00,126.37 216.62,126.17 217.27,126.00 217.95,125.86 218.64,125.75 219.35,125.66 220.07,125.60 220.81,125.56 221.57,125.54 222.33,125.55 223.10,125.57 223.88,125.62 224.66,125.68 225.44,125.75 226.22,125.85 227.00,125.95 227.78,126.06 228.55,126.18 229.31,126.31 230.06,126.44 230.79,126.58 231.52,126.72 232.22,126.85 232.91,126.98 233.58,127.11 234.22,127.23 234.85,127.34 235.44,127.44 236.01,127.53 236.56,127.61 237.07,127.67 237.56,127.71 238.02,127.73 238.44,127.73 238.83,127.71 239.20,127.67 239.52,127.60 239.82,127.51 240.08,127.39 240.31,127.24 240.51,127.07 240.68,126.87 240.81,126.64 240.92,126.38 240.99,126.09 241.03,125.77 241.05,125.42 241.04,125.04 241.00,124.63 240.94,124.20 240.86,123.73 240.75,123.24 240.63,122.72 240.49,122.17 240.33,121.60" fill="none" stroke="#9e2a7b" stroke-width="1.3" stroke-linejoin="round"/><polyline points="202.40,156.79 202.19,156.05 201.98,155.30 201.78,154.55 201.58,153.78 201.40,153.02 201.23,152.25 201.08,151.48 200.94,150.71 200.82,149.94 200.72,149.18 200.65,148.43 200.59,147.69 200.56,146.95 200.56,146.23 200.59,145.53 200.64,144.84 200.72,144.16 200.84,143.51 200.98,142.88 201.16,142.27 201.37,141.68 201.61,141.11 201.88,140.57 202.19,140.06 202.53,139.58 202.90,139.12 203.30,138.69 203.73,138.29 204.20,137.92 204.70,137.58 205.22,137.27 205.77,136.98 206.35,136.73 206.96,136.51 207.59,136.31 208.24,136.15 208.91,136.01 209.61,135.90 210.32,135.81 211.05,135.75 211.79,135.72 212.54,135.70 213.30,135.71 214.07,135.74 214.85,135.78 215.63,135.84 216.42,135.92 217.20,136.01 217.98,136.12 218.75,136.23 219.52,136.35 220.28,136.48 221.03,136.62 221.77,136.75 222.49,136.89 223.19,137.02 223.88,137.16 224.54,137.28 225.19,137.40 225.81,137.51 226.40,137.61 226.97,137.70 227.51,137.77 228.03,137.83 228.51,137.87 228.96,137.89 229.38,137.89 229.78,137.87 230.13,137.82 230.46,137.75 230.75,137.66 231.01,137.54 231.24,137.39 231.44,137.21 231.60,137.01 231.73,136.78 231.83,136.51 231.90,136.22 231.95,135.90 231.96,135.55 231.95,135.17 231.91,134.76 231.85,134.32 231.76,133.85 231.65,133.36 231.53,132.84 231.38,132.29 231.22,131.71 231.05,131.12 230.86,130.50 230.66,129.86 230.46,129.20 230.25,128.52 230.03,127.82 229.82,127.11 229.60,126.39 229.39,125.65 229.18,124.90 228.98,124.15 228.78,123.38 228.60,122.62 228.43,121.85 228.28,121.08 228.14,120.31 228.02,119.54 227.92,118.78 227.85,118.03 227.79,117.29 227.76,116.55 227.76,115.83 227.79,115.13 227.84,114.44 227.92,113.76 228.04,113.11 228.18,112.48 228.36,111.87 228.57,111.28 228.81,110.71 229.08,110.17 229.39,109.66" fill="none" stroke="#9e2a7b" stroke-width="1.3" stroke-linejoin="round"/><path d="M209.87 158.07L202.40 156.79M212.88 157.79L200.94 150.71M213.85 155.82L200.64 144.84M213.13 152.00L202.19 140.06M211.51 146.69L205.77 136.98M210.04 140.62L211.05 135.75M209.73 134.73L217.20 136.01M211.25 129.94L223.19 137.02M214.82 126.85L228.03 137.83M220.07 125.60L231.01 137.54M226.22 125.85L231.96 135.55M232.22 126.85L231.22 131.71M237.07 127.67L229.60 126.39M240.08 127.39L228.14 120.31M241.05 125.42L227.84 114.44M240.33 121.60L229.39 109.66" stroke="#d58cbf" stroke-width="0.65" fill="none" opacity="0.9"/>
<defs><path id="bp5" d="M614.3 43.5h0M621.9 43.9h0M629.5 44.3h0M604.8 47.0h0M612.4 47.4h0M620.0 47.8h0M627.6 48.2h0M635.2 48.6h0M642.8 48.9h0M650.4 49.3h0M658.0 49.7h0M606.7 50.9h0M614.3 51.3h0M621.9 51.7h0M629.5 52.1h0M637.1 52.5h0M644.7 52.8h0M652.3 53.2h0M659.9 53.6h0M601.0 54.7h0M608.6 55.0h0M616.2 55.4h0M623.8 55.8h0M631.4 56.2h0M639.0 56.5h0M646.6 56.9h0M654.2 57.3h0M661.7 57.7h0M599.1 58.4h0M606.7 58.7h0M614.3 59.1h0M621.9 59.5h0M629.5 59.9h0M637.1 60.3h0M644.7 60.6h0M652.3 61.0h0M659.9 61.4h0M597.2 62.3h0M604.8 62.6h0M612.4 63.0h0M620.0 63.4h0M627.6 63.8h0M635.2 64.2h0M642.8 64.5h0M650.4 64.9h0M658.0 65.3h0M665.5 65.7h0M602.9 66.4h0M610.5 66.7h0M618.1 67.1h0M625.7 67.5h0M633.3 67.9h0M640.9 68.2h0M648.5 68.6h0M656.1 69.0h0M663.6 69.4h0M601.0 70.3h0M608.6 70.6h0M616.2 71.0h0M623.8 71.4h0M631.4 71.8h0M639.0 72.1h0M646.6 72.5h0M654.2 72.9h0M661.7 73.3h0M599.1 74.0h0M606.7 74.3h0M614.3 74.7h0M621.9 75.1h0M629.5 75.5h0M637.1 75.9h0M644.7 76.2h0M652.3 76.6h0M659.9 77.0h0M597.2 77.9h0M604.8 78.2h0M612.4 78.6h0M620.0 79.0h0M627.6 79.4h0M635.2 79.8h0M642.8 80.1h0M650.4 80.5h0M658.0 80.9h0M595.3 81.6h0M602.9 82.0h0M610.5 82.3h0M618.1 82.7h0M625.7 83.1h0M633.3 83.5h0M640.9 83.8h0M648.5 84.2h0M656.1 84.6h0M589.6 85.3h0M597.2 85.7h0M604.8 86.0h0M612.4 86.4h0M620.0 86.8h0M627.6 87.2h0M635.2 87.6h0M642.8 87.9h0M650.4 88.3h0M658.0 88.7h0M591.5 89.2h0M599.1 89.6h0M606.7 89.9h0M614.3 90.3h0M621.9 90.7h0M629.5 91.1h0M637.1 91.5h0M644.7 91.8h0M652.3 92.2h0M659.9 92.6h0M589.6 93.1h0M597.2 93.5h0M604.8 93.8h0M612.4 94.2h0M620.0 94.6h0M627.6 95.0h0M635.2 95.4h0M642.8 95.7h0M650.4 96.1h0M658.0 96.5h0M583.9 96.6h0M591.5 97.0h0M599.1 97.4h0M606.7 97.7h0M614.3 98.1h0M621.9 98.5h0M629.5 98.9h0M637.1 99.3h0M644.7 99.6h0M652.3 100.0h0M659.9 100.4h0M585.8 100.7h0M593.4 101.1h0M601.0 101.5h0M608.6 101.8h0M616.2 102.2h0M623.8 102.6h0M631.4 103.0h0M639.0 103.3h0M646.6 103.7h0M654.2 104.1h0M661.7 104.5h0M583.9 104.4h0M591.5 104.8h0M599.1 105.2h0M606.7 105.5h0M614.3 105.9h0M621.9 106.3h0M629.5 106.7h0M637.1 107.1h0M644.7 107.4h0M652.3 107.8h0M659.9 108.2h0M578.3 108.1h0M585.8 108.5h0M593.4 108.9h0M601.0 109.3h0M608.6 109.6h0M616.2 110.0h0M623.8 110.4h0M631.4 110.8h0M639.0 111.1h0M646.6 111.5h0M654.2 111.9h0M661.7 112.3h0M576.4 111.8h0M583.9 112.2h0M591.5 112.6h0M599.1 113.0h0M606.7 113.3h0M614.3 113.7h0M621.9 114.1h0M629.5 114.5h0M637.1 114.9h0M644.7 115.2h0M652.3 115.6h0M659.9 116.0h0M574.5 115.7h0M582.0 116.1h0M589.6 116.5h0M597.2 116.9h0M604.8 117.2h0M612.4 117.6h0M620.0 118.0h0M627.6 118.4h0M635.2 118.8h0M642.8 119.1h0M650.4 119.5h0M658.0 119.9h0M665.5 120.3h0M576.4 119.6h0M583.9 120.0h0M591.5 120.4h0M599.1 120.8h0M606.7 121.1h0M614.3 121.5h0M621.9 121.9h0M629.5 122.3h0M637.1 122.7h0M644.7 123.0h0M652.3 123.4h0M659.9 123.8h0M667.4 124.2h0M578.3 123.7h0M585.8 124.1h0M593.4 124.5h0M601.0 124.9h0M608.6 125.2h0M616.2 125.6h0M623.8 126.0h0M631.4 126.4h0M639.0 126.7h0M646.6 127.1h0M654.2 127.5h0M661.7 127.9h0M669.3 128.3h0M576.4 127.4h0M583.9 127.8h0M591.5 128.2h0M599.1 128.6h0M606.7 128.9h0M614.3 129.3h0M621.9 129.7h0M629.5 130.1h0M637.1 130.5h0M644.7 130.8h0M652.3 131.2h0M659.9 131.6h0M667.4 132.0h0M578.3 131.5h0M585.8 131.9h0M593.4 132.3h0M601.0 132.7h0M608.6 133.0h0M616.2 133.4h0M623.8 133.8h0M631.4 134.2h0M639.0 134.5h0M646.6 134.9h0M654.2 135.3h0M661.7 135.7h0M572.6 135.0h0M580.2 135.4h0M587.7 135.8h0M595.3 136.2h0M602.9 136.6h0M610.5 136.9h0M618.1 137.3h0M625.7 137.7h0M633.3 138.1h0M640.9 138.4h0M648.5 138.8h0M656.1 139.2h0M663.6 139.6h0M574.5 139.1h0M582.0 139.5h0M589.6 139.9h0M597.2 140.3h0M604.8 140.6h0M612.4 141.0h0M620.0 141.4h0M627.6 141.8h0M635.2 142.2h0M642.8 142.5h0M650.4 142.9h0M658.0 143.3h0M576.4 143.0h0M583.9 143.4h0M591.5 143.8h0M599.1 144.2h0M606.7 144.5h0M614.3 144.9h0M621.9 145.3h0M629.5 145.7h0M637.1 146.1h0M644.7 146.4h0M652.3 146.8h0M574.5 146.9h0M582.0 147.3h0M589.6 147.7h0M597.2 148.1h0M604.8 148.4h0M612.4 148.8h0M620.0 149.2h0M627.6 149.6h0M635.2 150.0h0M642.8 150.3h0M576.4 150.8h0M583.9 151.2h0M591.5 151.6h0M599.1 152.0h0M606.7 152.3h0M614.3 152.7h0M621.9 153.1h0M629.5 153.5h0M578.3 154.9h0M585.8 155.3h0M593.4 155.7h0M601.0 156.1h0M608.6 156.4h0M616.2 156.8h0M623.8 157.2h0M583.9 159.0h0M591.5 159.4h0M599.1 159.8h0M606.7 160.1h0M614.3 160.5h0M589.6 163.3h0M597.2 163.7h0M604.8 164.0h0"/></defs><g fill="none" stroke-linecap="round"><use href="#bp5" stroke="#ebd6d6" stroke-width="3.10"/><use href="#bp5" stroke="#f5e8e8" stroke-width="2.42" transform="translate(-0.12,-0.12)"/><use href="#bp5" stroke="#fdf9f9" stroke-width="0.93" transform="translate(-0.45,-0.45)"/></g><defs><path id="bp6" d="M618.1 43.7h0M625.7 44.1h0M633.3 44.5h0M608.6 47.2h0M616.2 47.6h0M623.8 48.0h0M631.4 48.4h0M639.0 48.7h0M646.6 49.1h0M654.2 49.5h0M602.9 50.8h0M610.5 51.1h0M618.1 51.5h0M625.7 51.9h0M633.3 52.3h0M640.9 52.6h0M648.5 53.0h0M656.1 53.4h0M663.6 53.8h0M604.8 54.8h0M612.4 55.2h0M620.0 55.6h0M627.6 56.0h0M635.2 56.4h0M642.8 56.7h0M650.4 57.1h0M658.0 57.5h0M665.5 57.9h0M602.9 58.6h0M610.5 58.9h0M618.1 59.3h0M625.7 59.7h0M633.3 60.1h0M640.9 60.4h0M648.5 60.8h0M656.1 61.2h0M663.6 61.6h0M601.0 62.5h0M608.6 62.8h0M616.2 63.2h0M623.8 63.6h0M631.4 64.0h0M639.0 64.3h0M646.6 64.7h0M654.2 65.1h0M661.7 65.5h0M599.1 66.2h0M606.7 66.5h0M614.3 66.9h0M621.9 67.3h0M629.5 67.7h0M637.1 68.1h0M644.7 68.4h0M652.3 68.8h0M659.9 69.2h0M597.2 70.1h0M604.8 70.4h0M612.4 70.8h0M620.0 71.2h0M627.6 71.6h0M635.2 72.0h0M642.8 72.3h0M650.4 72.7h0M658.0 73.1h0M595.3 73.8h0M602.9 74.2h0M610.5 74.5h0M618.1 74.9h0M625.7 75.3h0M633.3 75.7h0M640.9 76.0h0M648.5 76.4h0M656.1 76.8h0M593.4 77.7h0M601.0 78.1h0M608.6 78.4h0M616.2 78.8h0M623.8 79.2h0M631.4 79.6h0M639.0 79.9h0M646.6 80.3h0M654.2 80.7h0M591.5 81.4h0M599.1 81.8h0M606.7 82.1h0M614.3 82.5h0M621.9 82.9h0M629.5 83.3h0M637.1 83.7h0M644.7 84.0h0M652.3 84.4h0M659.9 84.8h0M593.4 85.5h0M601.0 85.9h0M608.6 86.2h0M616.2 86.6h0M623.8 87.0h0M631.4 87.4h0M639.0 87.7h0M646.6 88.1h0M654.2 88.5h0M587.7 89.0h0M595.3 89.4h0M602.9 89.8h0M610.5 90.1h0M618.1 90.5h0M625.7 90.9h0M633.3 91.3h0M640.9 91.6h0M648.5 92.0h0M656.1 92.4h0M585.8 92.9h0M593.4 93.3h0M601.0 93.7h0M608.6 94.0h0M616.2 94.4h0M623.8 94.8h0M631.4 95.2h0M639.0 95.5h0M646.6 95.9h0M654.2 96.3h0M661.7 96.7h0M587.7 96.8h0M595.3 97.2h0M602.9 97.6h0M610.5 97.9h0M618.1 98.3h0M625.7 98.7h0M633.3 99.1h0M640.9 99.4h0M648.5 99.8h0M656.1 100.2h0M582.0 100.5h0M589.6 100.9h0M597.2 101.3h0M604.8 101.6h0M612.4 102.0h0M620.0 102.4h0M627.6 102.8h0M635.2 103.2h0M642.8 103.5h0M650.4 103.9h0M658.0 104.3h0M580.2 104.2h0M587.7 104.6h0M595.3 105.0h0M602.9 105.4h0M610.5 105.7h0M618.1 106.1h0M625.7 106.5h0M633.3 106.9h0M640.9 107.2h0M648.5 107.6h0M656.1 108.0h0M663.6 108.4h0M582.0 108.3h0M589.6 108.7h0M597.2 109.1h0M604.8 109.4h0M612.4 109.8h0M620.0 110.2h0M627.6 110.6h0M635.2 111.0h0M642.8 111.3h0M650.4 111.7h0M658.0 112.1h0M665.5 112.5h0M580.2 112.0h0M587.7 112.4h0M595.3 112.8h0M602.9 113.2h0M610.5 113.5h0M618.1 113.9h0M625.7 114.3h0M633.3 114.7h0M640.9 115.0h0M648.5 115.4h0M656.1 115.8h0M663.6 116.2h0M578.3 115.9h0M585.8 116.3h0M593.4 116.7h0M601.0 117.1h0M608.6 117.4h0M616.2 117.8h0M623.8 118.2h0M631.4 118.6h0M639.0 118.9h0M646.6 119.3h0M654.2 119.7h0M661.7 120.1h0M572.6 119.4h0M580.2 119.8h0M587.7 120.2h0M595.3 120.6h0M602.9 121.0h0M610.5 121.3h0M618.1 121.7h0M625.7 122.1h0M633.3 122.5h0M640.9 122.8h0M648.5 123.2h0M656.1 123.6h0M663.6 124.0h0M574.5 123.5h0M582.0 123.9h0M589.6 124.3h0M597.2 124.7h0M604.8 125.0h0M612.4 125.4h0M620.0 125.8h0M627.6 126.2h0M635.2 126.6h0M642.8 126.9h0M650.4 127.3h0M658.0 127.7h0M665.5 128.1h0M572.6 127.2h0M580.2 127.6h0M587.7 128.0h0M595.3 128.4h0M602.9 128.8h0M610.5 129.1h0M618.1 129.5h0M625.7 129.9h0M633.3 130.3h0M640.9 130.6h0M648.5 131.0h0M656.1 131.4h0M663.6 131.8h0M574.5 131.3h0M582.0 131.7h0M589.6 132.1h0M597.2 132.5h0M604.8 132.8h0M612.4 133.2h0M620.0 133.6h0M627.6 134.0h0M635.2 134.4h0M642.8 134.7h0M650.4 135.1h0M658.0 135.5h0M665.5 135.9h0M576.4 135.2h0M583.9 135.6h0M591.5 136.0h0M599.1 136.4h0M606.7 136.7h0M614.3 137.1h0M621.9 137.5h0M629.5 137.9h0M637.1 138.3h0M644.7 138.6h0M652.3 139.0h0M659.9 139.4h0M570.7 138.9h0M578.3 139.3h0M585.8 139.7h0M593.4 140.1h0M601.0 140.5h0M608.6 140.8h0M616.2 141.2h0M623.8 141.6h0M631.4 142.0h0M639.0 142.3h0M646.6 142.7h0M654.2 143.1h0M572.6 142.8h0M580.2 143.2h0M587.7 143.6h0M595.3 144.0h0M602.9 144.4h0M610.5 144.7h0M618.1 145.1h0M625.7 145.5h0M633.3 145.9h0M640.9 146.2h0M648.5 146.6h0M656.1 147.0h0M578.3 147.1h0M585.8 147.5h0M593.4 147.9h0M601.0 148.3h0M608.6 148.6h0M616.2 149.0h0M623.8 149.4h0M631.4 149.8h0M639.0 150.1h0M646.6 150.5h0M580.2 151.0h0M587.7 151.4h0M595.3 151.8h0M602.9 152.2h0M610.5 152.5h0M618.1 152.9h0M625.7 153.3h0M633.3 153.7h0M582.0 155.1h0M589.6 155.5h0M597.2 155.9h0M604.8 156.2h0M612.4 156.6h0M620.0 157.0h0M580.2 158.8h0M587.7 159.2h0M595.3 159.6h0M602.9 160.0h0M610.5 160.3h0M585.8 163.1h0M593.4 163.5h0M601.0 163.9h0"/></defs><g fill="none" stroke-linecap="round"><use href="#bp6" stroke="#ebd6d6" stroke-width="3.10"/><use href="#bp6" stroke="#f5e8e8" stroke-width="2.42" transform="translate(-0.12,-0.12)"/><use href="#bp6" stroke="#fdf9f9" stroke-width="0.93" transform="translate(-0.45,-0.45)"/></g><path d="M610.5 108.8L610.6 108.8M612.2 106.3L608.5 106.7M612.8 103.9L607.4 104.4M611.7 101.6L608.0 102.0M609.6 99.5L609.7 99.5M636.9 118.2L639.0 112.6M636.8 113.4L635.7 116.1M636.0 110.3L633.0 117.8M633.3 112.0L632.3 114.8M630.0 115.5L632.1 109.9M603.6 78.9L606.9 77.1M603.4 82.4L609.9 79.1M604.3 85.4L611.9 81.5M606.3 87.9L612.7 84.5M609.2 89.8L612.6 88.1M628.1 77.7L628.3 78.8M624.8 77.2L625.4 80.6M621.5 77.3L622.4 81.6M618.5 78.4L619.1 81.8M615.5 80.1L615.8 81.3M631.4 107.5L631.3 107.5M633.0 105.0L629.6 105.1M633.6 102.6L628.9 102.7M632.8 100.2L629.5 100.3M631.1 97.9L631.1 97.9M612.5 117.6L609.9 116.5M609.3 119.5L610.8 120.1M607.1 121.8L610.9 123.3M607.1 125.0L608.6 125.6M608.1 128.6L605.5 127.6M615.0 101.8L613.7 102.6M614.7 99.0L611.4 101.1M613.8 96.6L609.7 99.2M612.1 94.7L608.8 96.8M609.7 93.2L608.4 94.0M618.3 66.0L618.3 66.0M616.5 68.3L620.9 67.4M616.0 70.3L622.2 69.0M617.3 72.0L621.7 71.0M619.9 73.4L619.9 73.4M632.8 85.3L633.0 84.2M634.4 88.1L635.7 82.3M636.4 89.5L638.0 81.9M638.8 89.0L640.0 83.3M641.4 87.2L641.7 86.0M631.4 115.1L631.7 115.6M627.2 114.5L630.6 119.7M623.9 115.3L628.6 122.4M621.9 118.0L625.4 123.2M620.9 122.1L621.2 122.6M645.1 78.4L641.1 81.7M643.7 82.7L645.6 81.1M643.5 86.0L648.9 81.5M646.7 86.4L648.6 84.8M651.2 85.7L647.2 89.1M614.8 117.4L614.2 113.2M612.3 113.3L613.0 117.8M610.1 111.5L611.4 120.2M608.5 113.9L609.2 118.4M607.4 118.5L606.7 114.4M615.3 131.8L615.9 128.9M618.2 133.9L619.4 128.1M621.2 135.1L622.6 128.2M624.4 135.2L625.6 129.4M627.8 134.4L628.4 131.5M640.3 103.1L642.6 97.6M639.2 98.2L638.3 100.3M637.6 94.7L634.7 101.5M633.9 95.9L633.0 98.0M629.6 98.6L632.0 93.1M618.2 122.6L614.6 116.9M613.2 120.2L614.6 122.5M609.2 119.3L613.6 126.5M608.2 123.3L609.6 125.6M608.2 128.9L604.6 123.2M611.1 97.9L612.7 102.1M615.3 99.8L614.6 97.9M619.0 100.5L616.9 95.0M621.4 97.5L620.6 95.6M623.3 93.4L624.8 97.5M626.0 97.1L626.3 97.1M628.4 94.8L624.1 94.6M629.5 92.4L623.2 92.1M628.6 89.9L624.3 89.7M626.4 87.3L626.7 87.3M623.1 72.2L622.0 75.0M624.6 76.4L625.9 73.0M626.7 79.0L629.2 72.6M630.0 78.5L631.4 75.2M634.0 76.6L632.8 79.4M651.2 77.7L648.2 78.0M648.6 80.1L651.2 79.9M647.4 82.4L652.9 81.8M649.1 84.4L651.6 84.1M652.1 86.2L649.0 86.5M626.2 92.3L627.9 90.9M626.6 89.4L624.9 90.9M626.2 87.1L622.7 90.1M624.0 86.4L622.3 87.9M621.0 86.3L622.7 84.9M648.9 90.0L650.4 88.7M649.8 86.9L647.2 89.2M649.7 84.8L645.1 88.7M647.6 84.3L644.9 86.6M644.4 84.8L645.8 83.5M620.6 94.6L622.0 92.8M620.0 91.1L618.5 93.0M618.7 88.5L615.7 92.2M615.9 87.8L614.4 89.6M612.4 87.9L613.9 86.1M613.0 77.1L611.2 77.7M611.7 81.1L614.6 80.1M611.6 84.6L616.7 82.9M613.7 87.4L616.6 86.4M617.1 89.8L615.3 90.4M609.2 105.8L609.0 106.0M608.0 102.5L605.6 105.8M606.2 100.2L602.9 104.8M603.5 99.1L601.0 102.4M600.0 99.0L599.9 99.2" stroke="#8a8a8a" stroke-width="0.27" fill="none" opacity="0.7"/><defs><path id="ld9" d="M608.9 111.3L610.5 108.8L612.2 106.3L612.8 103.9L611.7 101.6L609.6 99.5L607.4 97.4M612.8 110.9L610.6 108.8L608.5 106.7L607.4 104.4L608.0 102.0L609.7 99.5L611.3 97.0M638.3 119.5L636.9 118.2L636.8 113.4L636.0 110.3L633.3 112.0L630.0 115.5L628.0 115.4M641.0 112.7L639.0 112.6L635.7 116.1L633.0 117.8L632.3 114.8L632.1 109.9L630.7 108.7M604.2 75.1L603.6 78.9L603.4 82.4L604.3 85.4L606.3 87.9L609.2 89.8L612.7 91.5M603.4 75.5L606.9 77.1L609.9 79.1L611.9 81.5L612.7 84.5L612.6 88.1L612.0 91.9M631.5 78.4L628.1 77.7L624.8 77.2L621.5 77.3L618.5 78.4L615.5 80.1L612.7 82.1M631.2 76.9L628.3 78.8L625.4 80.6L622.4 81.6L619.1 81.8L615.8 81.3L612.4 80.5M629.8 109.9L631.4 107.5L633.0 105.0L633.6 102.6L632.8 100.2L631.1 97.9L629.4 95.5M633.1 109.8L631.3 107.5L629.6 105.1L628.9 102.7L629.5 100.3L631.1 97.9L632.7 95.5M614.1 115.0L612.5 117.6L609.3 119.5L607.1 121.8L607.1 125.0L608.1 128.6L607.4 131.6M610.5 113.6L609.9 116.5L610.8 120.1L610.9 123.3L608.6 125.6L605.5 127.6L603.9 130.1M615.1 104.7L615.0 101.8L614.7 99.0L613.8 96.6L612.1 94.7L609.7 93.2L607.2 91.9M616.3 103.9L613.7 102.6L611.4 101.1L609.7 99.2L608.8 96.8L608.4 94.0L608.4 91.1M620.1 63.7L618.3 66.0L616.5 68.3L616.0 70.3L617.3 72.0L619.9 73.4L622.4 74.7M615.7 64.6L618.3 66.0L620.9 67.4L622.2 69.0L621.7 71.0L619.9 73.4L618.1 75.7M631.1 82.2L632.8 85.3L634.4 88.1L636.4 89.5L638.8 89.0L641.4 87.2L644.2 85.0M630.3 86.3L633.0 84.2L635.7 82.3L638.0 81.9L640.0 83.3L641.7 86.0L643.3 89.1M635.6 115.9L631.4 115.1L627.2 114.5L623.9 115.3L621.9 118.0L620.9 122.1L619.9 126.3M632.6 111.4L631.7 115.6L630.6 119.7L628.6 122.4L625.4 123.2L621.2 122.6L616.9 121.8M643.9 76.2L645.1 78.4L643.7 82.7L643.5 86.0L646.7 86.4L651.2 85.7L653.1 87.3M639.2 80.2L641.1 81.7L645.6 81.1L648.9 81.5L648.6 84.8L647.2 89.1L648.4 91.2M617.0 119.4L614.8 117.4L612.3 113.3L610.1 111.5L608.5 113.9L607.4 118.5L605.8 121.1M615.7 110.6L614.2 113.2L613.0 117.8L611.4 120.2L609.2 118.4L606.7 114.4L604.5 112.4M612.6 129.2L615.3 131.8L618.2 133.9L621.2 135.1L624.4 135.2L627.8 134.4L631.4 133.1M612.4 130.2L615.9 128.9L619.4 128.1L622.6 128.2L625.6 129.4L628.4 131.5L631.2 134.1M642.9 104.3L640.3 103.1L639.2 98.2L637.6 94.7L633.9 95.9L629.6 98.6L626.9 97.5M645.3 98.7L642.6 97.6L638.3 100.3L634.7 101.5L633.0 98.0L632.0 93.1L629.3 92.0M620.8 121.1L618.2 122.6L613.2 120.2L609.2 119.3L608.2 123.3L608.2 128.9L605.7 130.6M617.1 115.2L614.6 116.9L614.6 122.5L613.6 126.5L609.6 125.6L604.6 123.2L602.0 124.7M607.9 98.7L611.1 97.9L615.3 99.8L619.0 100.5L621.4 97.5L623.3 93.4L626.2 91.9M609.8 103.5L612.7 102.1L614.6 97.9L616.9 95.0L620.6 95.6L624.8 97.5L628.0 96.7M623.7 99.5L626.0 97.1L628.4 94.8L629.5 92.4L628.6 89.9L626.4 87.3L624.3 84.8M628.4 99.7L626.3 97.1L624.1 94.6L623.2 92.1L624.3 89.7L626.7 87.3L629.0 85.0M621.1 69.4L623.1 72.2L624.6 76.4L626.7 79.0L630.0 78.5L634.0 76.6L637.4 75.9M618.6 75.7L622.0 75.0L625.9 73.0L629.2 72.6L631.4 75.2L632.8 79.4L634.8 82.2M652.2 75.5L651.2 77.7L648.6 80.1L647.4 82.4L649.1 84.4L652.1 86.2L653.5 88.2M646.8 76.0L648.2 78.0L651.2 79.9L652.9 81.8L651.6 84.1L649.0 86.5L648.1 88.7M626.6 94.6L626.2 92.3L626.6 89.4L626.2 87.1L624.0 86.4L621.0 86.3L618.9 85.6M630.0 91.6L627.9 90.9L624.9 90.9L622.7 90.1L622.3 87.9L622.7 84.9L622.3 82.7M648.6 92.5L648.9 90.0L649.8 86.9L649.7 84.8L647.6 84.3L644.4 84.8L641.8 84.7M653.0 88.8L650.4 88.7L647.2 89.2L645.1 88.7L644.9 86.6L645.8 83.5L646.2 81.0M621.8 97.3L620.6 94.6L620.0 91.1L618.7 88.5L615.9 87.8L612.4 87.9L609.6 87.2M624.9 93.6L622.0 92.8L618.5 93.0L615.7 92.2L614.4 89.6L613.9 86.1L612.6 83.5M613.6 73.5L613.0 77.1L611.7 81.1L611.6 84.6L613.7 87.4L617.1 89.8L619.7 92.4M608.6 75.1L611.2 77.7L614.6 80.1L616.7 82.9L616.6 86.4L615.3 90.4L614.7 94.0M610.3 109.1L609.2 105.8L608.0 102.5L606.2 100.2L603.5 99.1L600.0 99.0L596.6 98.9M612.5 106.0L609.0 106.0L605.6 105.8L602.9 104.8L601.0 102.4L599.9 99.2L598.8 95.9"/></defs><g fill="none" stroke-linejoin="round" stroke-linecap="round"><use href="#ld9" stroke="#505050" stroke-width="0.6"/></g><defs><path id="ar10" d="M635.3 68.8l-1.7 3.0M627.9 83.6A5.1 5.1 0 0 1 624.3 74.8M658.2 111.3l-1.3 2.9M607.3 111.1l4.7 7.0M621.1 88.3l2.0-6.8M635.1 110.0l-0.4 6.5M641.3 102.4l2.6-2.2M597.5 118.8A10.5 10.5 0 0 1 600.2 108.1M664.7 94.0A8.5 8.5 0 0 1 655.9 102.1M621.0 110.4A11.1 11.1 0 0 1 620.7 124.2M622.9 136.0A5.7 5.7 0 0 1 612.2 136.4M629.4 70.5A8.5 8.5 0 0 1 640.9 59.4M607.8 84.7A9.4 9.4 0 0 1 618.3 94.7M612.9 125.2l-1.3-3.9M625.2 139.4A5.4 5.4 0 0 1 629.6 131.7M597.8 112.2A8.5 8.5 0 0 1 593.3 99.0M659.6 111.1A11.0 11.0 0 0 1 655.1 92.2M626.2 113.6A9.2 9.2 0 0 1 626.4 121.5M659.0 107.3A7.5 7.5 0 0 1 651.5 111.6M651.8 69.0A11.7 11.7 0 0 1 633.3 80.0M656.6 71.8A6.4 6.4 0 0 1 652.9 82.9M640.0 102.6l-4.7-0.6M616.4 73.2l-4.8-2.8M621.7 82.8A7.0 7.0 0 0 1 623.3 72.9M664.3 77.3A7.2 7.2 0 0 1 663.7 86.9M636.0 134.0A5.7 5.7 0 0 1 626.8 128.5M609.7 79.2l-6.5 1.1M610.2 67.2A10.6 10.6 0 0 1 618.5 60.7M626.3 117.9A11.0 11.0 0 0 1 628.6 101.7M606.1 115.9A10.1 10.1 0 0 1 600.7 97.5M651.2 104.5A10.5 10.5 0 0 1 636.2 96.8M638.4 104.1A8.3 8.3 0 0 1 642.4 95.0M666.9 83.9A7.9 7.9 0 0 1 656.4 94.2M633.8 67.0A5.3 5.3 0 0 1 638.1 63.3M633.2 82.0A10.8 10.8 0 0 1 629.5 95.0M645.2 71.4A11.7 11.7 0 0 1 625.0 64.8M647.6 81.0A7.0 7.0 0 0 1 648.8 87.3M600.8 119.5A6.0 6.0 0 0 1 605.8 114.1M630.7 116.6A5.4 5.4 0 0 1 640.6 119.0M629.3 121.5l4.5-4.6M656.5 117.5A5.4 5.4 0 0 1 661.9 119.5M625.1 83.8A9.4 9.4 0 0 1 625.2 91.3M602.9 89.8A8.8 8.8 0 0 1 616.7 83.2M642.2 85.0l-8.0 1.9M631.8 63.2A7.7 7.7 0 0 1 643.7 61.4M668.8 82.6A9.3 9.3 0 0 1 664.4 97.6M627.7 136.4A11.7 11.7 0 0 1 619.0 128.9M644.6 85.1A9.3 9.3 0 0 1 648.8 77.8M624.9 78.6A8.4 8.4 0 0 1 612.7 78.2M618.9 83.2A11.4 11.4 0 0 1 626.5 92.0M624.9 100.0A5.6 5.6 0 0 1 634.7 96.7M631.8 79.7A7.2 7.2 0 0 1 631.7 86.3M656.4 80.9A11.3 11.3 0 0 1 653.5 93.6M600.4 104.9A11.8 11.8 0 0 1 613.4 121.9M654.6 90.2l-0.5-3.8M642.9 102.6A7.0 7.0 0 0 1 631.1 107.6M623.0 87.9l3.6-2.1M642.9 117.0A5.3 5.3 0 0 1 635.2 118.3M595.2 94.9A9.6 9.6 0 0 1 602.7 91.7M614.6 131.2l-3.2-0.7M625.1 93.0A11.6 11.6 0 0 1 637.2 101.5M604.8 111.7A5.1 5.1 0 0 1 608.8 115.2M624.8 91.7A11.9 11.9 0 0 1 639.8 97.0M638.6 98.8A7.6 7.6 0 0 1 643.7 91.3M618.6 68.3A7.1 7.1 0 0 1 617.4 80.9M614.6 107.5A7.5 7.5 0 0 1 624.1 102.9M641.9 135.9l6.8-1.5M649.6 104.2A7.3 7.3 0 0 1 657.6 107.2M632.6 114.8l7.2 2.9M660.7 118.4A9.6 9.6 0 0 1 645.0 119.7M636.0 103.4A6.6 6.6 0 0 1 643.5 109.0M648.2 90.7l-6.5-1.8M609.0 116.5A7.3 7.3 0 0 1 616.7 108.7M641.4 104.6A7.7 7.7 0 0 1 651.0 106.9M634.0 98.0A5.1 5.1 0 0 1 637.1 93.2M617.6 77.5A11.3 11.3 0 0 1 613.2 67.9M636.2 77.1A5.9 5.9 0 0 1 635.7 68.6M606.8 87.2l-2.0-8.7M622.9 123.1l-4.9-2.7M616.5 131.2A5.9 5.9 0 0 1 614.3 120.8M647.9 112.0l-4.6 4.9M658.4 81.1A5.2 5.2 0 0 1 665.0 84.2M642.2 82.9A9.7 9.7 0 0 1 645.6 73.2M625.6 119.6l4.9 3.1M620.7 114.0A11.6 11.6 0 0 1 621.8 132.9"/></defs><g fill="none" stroke-linecap="round"><use href="#ar10" stroke="#4a4a4a" stroke-width="0.6"/></g><polyline points="575.12,92.84 574.77,93.20 574.44,93.55 574.13,93.88 573.84,94.21 573.58,94.51 573.35,94.81 573.14,95.09 572.97,95.35 572.82,95.61 572.71,95.85 572.63,96.08 572.59,96.29 572.58,96.50 572.61,96.69 572.67,96.88 572.77,97.05 572.90,97.21 573.07,97.37 573.28,97.52 573.52,97.66 573.79,97.79 574.09,97.92 574.43,98.05 574.80,98.17 575.20,98.29 575.63,98.41 576.08,98.52 576.56,98.64 577.06,98.76 577.58,98.88 578.12,99.00 578.68,99.13 579.26,99.26 579.84,99.40 580.44,99.54 581.05,99.69 581.66,99.85 582.27,100.01 582.89,100.19 583.50,100.38 584.11,100.57 584.72,100.78 585.31,101.00 585.90,101.23 586.47,101.48 587.03,101.73 587.57,102.00 588.08,102.29 588.58,102.58 589.05,102.89 589.50,103.22 589.92,103.56 590.32,103.91 590.68,104.27 591.01,104.65 591.31,105.04 591.57,105.44 591.81,105.86 592.00,106.28 592.17,106.72 592.29,107.17 592.38,107.63 592.44,108.10 592.46,108.57 592.44,109.06 592.39,109.55 592.31,110.04 592.19,110.55 592.04,111.05 591.86,111.57 591.65,112.08 591.41,112.59 591.15,113.11 590.85,113.63 590.54,114.14 590.20,114.66 589.85,115.17 589.47,115.68 589.09,116.18 588.68,116.68 588.27,117.17 587.85,117.65 587.42,118.13 586.99,118.60 586.56,119.06 586.13,119.50 585.70,119.94 585.28,120.37 584.86,120.79 584.46,121.19 584.07,121.58 583.69,121.96 583.34,122.32 583.00,122.68 582.68,123.01 582.39,123.34 582.12,123.65 581.88,123.95 581.66,124.23 581.48,124.50 581.33,124.76 581.20,125.01 581.12,125.24 581.06,125.46 581.04,125.67 581.06,125.86 581.11,126.05 581.20,126.23 581.32,126.39 581.48,126.55 581.67,126.70 581.90,126.85 582.16,126.98 582.46,127.12 582.79,127.24 583.15,127.36 583.53,127.48 583.95,127.60 584.40,127.72 584.87,127.84" fill="none" stroke="#8b1e78" stroke-width="1.3" stroke-linejoin="round"/><polyline points="577.37,88.41 577.97,88.56 578.59,88.72 579.20,88.89 579.82,89.07 580.43,89.26 581.04,89.46 581.64,89.67 582.24,89.89 582.82,90.13 583.38,90.38 583.94,90.64 584.47,90.91 584.98,91.20 585.47,91.50 585.94,91.81 586.38,92.14 586.80,92.48 587.18,92.83 587.53,93.20 587.86,93.58 588.15,93.98 588.41,94.38 588.63,94.80 588.82,95.23 588.97,95.67 589.09,96.12 589.17,96.58 589.21,97.05 589.23,97.53 589.20,98.02 589.14,98.51 589.05,99.01 588.92,99.51 588.77,100.02 588.58,100.53 588.36,101.05 588.11,101.56 587.84,102.08 587.54,102.60 587.22,103.11 586.88,103.62 586.52,104.13 586.14,104.64 585.75,105.14 585.35,105.64 584.93,106.13 584.51,106.61 584.08,107.09 583.65,107.55 583.21,108.01 582.78,108.45 582.36,108.89 581.94,109.31 581.52,109.73 581.12,110.13 580.74,110.51 580.37,110.89 580.01,111.25 579.68,111.60 579.37,111.93 579.08,112.26 578.82,112.56 578.59,112.86 578.38,113.14 578.20,113.41 578.06,113.66 577.95,113.90 577.87,114.13 577.82,114.35 577.81,114.55 577.84,114.75 577.90,114.93 577.99,115.11 578.13,115.27 578.29,115.43 578.50,115.58 578.73,115.72 579.00,115.85 579.31,115.98 579.64,116.11 580.01,116.23 580.41,116.35 580.83,116.47 581.29,116.58 581.76,116.70 582.26,116.82 582.78,116.94 583.33,117.06 583.88,117.19 584.46,117.32 585.04,117.45 585.64,117.60 586.25,117.75 586.86,117.90 587.47,118.07 588.09,118.25 588.70,118.43 589.31,118.63 589.92,118.84 590.52,119.05 591.10,119.29 591.67,119.53 592.23,119.79 592.77,120.06 593.29,120.34 593.79,120.63 594.26,120.94 594.71,121.27 595.13,121.60 595.53,121.96 595.89,122.32 596.22,122.70 596.52,123.09 596.79,123.49 597.03,123.90 597.22,124.33 597.39,124.77 597.52,125.21 597.61,125.67 597.67,126.14" fill="none" stroke="#8b1e78" stroke-width="1.3" stroke-linejoin="round"/><path d="M575.12 92.84L577.37 88.41M572.97 95.35L582.24 89.89M572.77 97.05L586.38 92.14M574.80 98.17L588.82 95.23M578.68 99.13L589.05 99.01M583.50 100.38L587.22 103.11M588.08 102.29L584.08 107.09M591.31 105.04L580.74 110.51M592.46 108.57L578.38 113.14M591.41 112.59L577.90 114.93M588.68 116.68L579.64 116.11M585.28 120.37L583.33 117.06M582.39 123.34L588.09 118.25M581.06 125.46L592.77 120.06M581.90 126.85L596.22 122.70M584.87 127.84L597.67 126.14" stroke="#b865a5" stroke-width="0.65" fill="none" opacity="0.9"/><path d="M572 90h14" stroke="#8b1e78" stroke-width="1.3"/><path d="M583.4 143.2L587.2 142.7M586.3 140.7L583.7 141.1M587.8 138.4L581.7 139.2M585.7 136.6L583.2 136.9M582.2 135.0L586.1 134.4M590.4 135.7L590.2 137.2M588.8 134.3L588.4 138.3M587.2 133.6L586.7 138.6M585.5 133.9L585.1 137.9M583.7 135.0L583.6 136.5M595.3 129.8L594.0 127.4M592.0 128.2L593.5 131.0M589.4 128.0L592.3 133.3M588.2 130.3L589.7 133.1M587.6 133.9L586.3 131.5M595.5 123.7L594.0 121.9M592.3 123.5L593.6 125.0M589.8 124.0L592.5 127.3M588.7 126.3L590.0 127.9M588.3 129.4L586.9 127.6M596.7 136.4L597.8 136.7M599.3 135.3L596.3 134.4M600.7 133.9L595.9 132.4M600.3 131.9L597.3 131.0M598.8 129.6L599.9 129.9" stroke="#2f62b0" stroke-width="0.36" fill="none" opacity="0.7"/><defs><path id="ld11" d="M582.7 145.4L583.4 143.2L586.3 140.7L587.8 138.4L585.7 136.6L582.2 135.0L581.0 133.0M588.5 144.6L587.2 142.7L583.7 141.1L581.7 139.2L583.2 136.9L586.1 134.4L586.8 132.2M591.9 137.5L590.4 135.7L588.8 134.3L587.2 133.6L585.5 133.9L583.7 135.0L581.9 136.4M592.0 135.8L590.2 137.2L588.4 138.3L586.7 138.6L585.1 137.9L583.6 136.5L582.1 134.7M598.0 130.2L595.3 129.8L592.0 128.2L589.4 128.0L588.2 130.3L587.6 133.9L586.5 136.4M595.2 124.9L594.0 127.4L593.5 131.0L592.3 133.3L589.7 133.1L586.3 131.5L583.6 131.1M597.8 123.0L595.5 123.7L592.3 123.5L589.8 124.0L588.7 126.3L588.3 129.4L587.1 131.6M595.2 119.7L594.0 121.9L593.6 125.0L592.5 127.3L590.0 127.9L586.9 127.6L584.5 128.3M594.6 137.6L596.7 136.4L599.3 135.3L600.7 133.9L600.3 131.9L598.8 129.6L597.7 127.4M598.9 138.9L597.8 136.7L596.3 134.4L595.9 132.4L597.3 131.0L599.9 129.9L602.0 128.7"/></defs><g fill="none" stroke-linejoin="round" stroke-linecap="round"><use href="#ld11" stroke="#2f62b0" stroke-width="0.8"/></g><defs><path id="ar12" d="M580.4 134.3A6.5 6.5 0 0 1 577.8 126.1M594.5 131.4l2.8 2.2M592.0 130.7A4.6 4.6 0 0 1 584.0 134.2M582.5 134.2l8.4 2.1M587.1 126.2l-3.3-4.7M580.7 140.4A4.6 4.6 0 0 1 587.4 135.1M580.7 132.9l3.3 2.5M594.0 143.1A3.8 3.8 0 0 1 595.5 137.3M585.6 134.0A2.8 2.8 0 0 1 583.7 129.8M596.5 138.9A2.9 2.9 0 0 1 592.5 137.3"/></defs><g fill="none" stroke-linecap="round"><use href="#ar12" stroke="#2f62b0" stroke-width="0.8"/></g>
<defs><path id="bp7" d="M189.9 369.1h0M192.0 375.1h0M190.7 357.0h0M192.9 363.1h0M195.1 369.1h0M197.2 375.1h0M199.4 381.1h0M201.6 387.2h0M190.5 342.0h0M192.7 348.0h0M194.9 354.0h0M197.0 360.1h0M199.2 366.1h0M201.4 372.1h0M203.5 378.1h0M205.7 384.1h0M207.9 390.2h0M210.0 396.2h0M193.5 336.0h0M195.7 342.0h0M197.9 348.0h0M200.1 354.0h0M202.2 360.1h0M204.4 366.1h0M206.6 372.1h0M208.7 378.1h0M210.9 384.1h0M213.1 390.2h0M215.2 396.2h0M193.3 320.9h0M195.5 326.9h0M197.7 333.0h0M199.8 339.0h0M202.0 345.0h0M204.2 351.0h0M206.3 357.0h0M208.5 363.1h0M210.7 369.1h0M212.8 375.1h0M215.0 381.1h0M217.2 387.2h0M219.3 393.2h0M221.5 399.2h0M194.2 308.9h0M196.4 314.9h0M198.5 320.9h0M200.7 326.9h0M202.9 333.0h0M205.0 339.0h0M207.2 345.0h0M209.4 351.0h0M211.5 357.0h0M213.7 363.1h0M215.9 369.1h0M218.0 375.1h0M220.2 381.1h0M222.4 387.2h0M224.5 393.2h0M226.7 399.2h0M197.2 302.8h0M199.4 308.9h0M201.6 314.9h0M203.7 320.9h0M205.9 326.9h0M208.1 333.0h0M210.2 339.0h0M212.4 345.0h0M214.6 351.0h0M216.7 357.0h0M218.9 363.1h0M221.1 369.1h0M223.2 375.1h0M225.4 381.1h0M227.6 387.2h0M229.7 393.2h0M231.9 399.2h0M234.1 405.2h0M202.4 302.8h0M204.6 308.9h0M206.8 314.9h0M208.9 320.9h0M211.1 326.9h0M213.3 333.0h0M215.4 339.0h0M217.6 345.0h0M219.8 351.0h0M221.9 357.0h0M224.1 363.1h0M226.3 369.1h0M228.4 375.1h0M230.6 381.1h0M232.8 387.2h0M234.9 393.2h0M237.1 399.2h0M239.3 405.2h0M206.5 299.8h0M208.7 305.9h0M210.9 311.9h0M213.0 317.9h0M215.2 323.9h0M217.4 329.9h0M219.5 336.0h0M221.7 342.0h0M223.9 348.0h0M226.1 354.0h0M228.2 360.1h0M230.4 366.1h0M232.6 372.1h0M234.7 378.1h0M236.9 384.1h0M239.1 390.2h0M241.2 396.2h0M243.4 402.2h0M209.6 293.8h0M211.7 299.8h0M213.9 305.9h0M216.1 311.9h0M218.2 317.9h0M220.4 323.9h0M222.6 329.9h0M224.7 336.0h0M226.9 342.0h0M229.1 348.0h0M231.3 354.0h0M233.4 360.1h0M235.6 366.1h0M237.8 372.1h0M239.9 378.1h0M242.1 384.1h0M244.3 390.2h0M246.4 396.2h0M248.6 402.2h0M214.8 293.8h0M216.9 299.8h0M219.1 305.9h0M221.3 311.9h0M223.4 317.9h0M225.6 323.9h0M227.8 329.9h0M229.9 336.0h0M232.1 342.0h0M234.3 348.0h0M236.5 354.0h0M238.6 360.1h0M240.8 366.1h0M243.0 372.1h0M245.1 378.1h0M247.3 384.1h0M249.5 390.2h0M251.6 396.2h0M253.8 402.2h0M218.9 290.8h0M221.1 296.8h0M223.2 302.8h0M225.4 308.9h0M227.6 314.9h0M229.7 320.9h0M231.9 326.9h0M234.1 333.0h0M236.2 339.0h0M238.4 345.0h0M240.6 351.0h0M242.7 357.0h0M244.9 363.1h0M247.1 369.1h0M249.2 375.1h0M251.4 381.1h0M253.6 387.2h0M255.7 393.2h0M257.9 399.2h0M260.1 405.2h0M224.1 290.8h0M226.3 296.8h0M228.4 302.8h0M230.6 308.9h0M232.8 314.9h0M234.9 320.9h0M237.1 326.9h0M239.3 333.0h0M241.4 339.0h0M243.6 345.0h0M245.8 351.0h0M247.9 357.0h0M250.1 363.1h0M252.3 369.1h0M254.4 375.1h0M256.6 381.1h0M258.8 387.2h0M260.9 393.2h0M263.1 399.2h0M265.3 405.2h0M229.3 290.8h0M231.5 296.8h0M233.6 302.8h0M235.8 308.9h0M238.0 314.9h0M240.1 320.9h0M242.3 326.9h0M244.5 333.0h0M246.6 339.0h0M248.8 345.0h0M251.0 351.0h0M253.1 357.0h0M255.3 363.1h0M257.5 369.1h0M259.6 375.1h0M261.8 381.1h0M264.0 387.2h0M266.1 393.2h0M268.3 399.2h0M270.5 405.2h0M234.5 290.8h0M236.7 296.8h0M238.8 302.8h0M241.0 308.9h0M243.2 314.9h0M245.3 320.9h0M247.5 326.9h0M249.7 333.0h0M251.8 339.0h0M254.0 345.0h0M256.2 351.0h0M258.3 357.0h0M260.5 363.1h0M262.7 369.1h0M264.8 375.1h0M267.0 381.1h0M269.2 387.2h0M271.3 393.2h0M273.5 399.2h0M237.5 284.8h0M239.7 290.8h0M241.9 296.8h0M244.0 302.8h0M246.2 308.9h0M248.4 314.9h0M250.5 320.9h0M252.7 326.9h0M254.9 333.0h0M257.0 339.0h0M259.2 345.0h0M261.4 351.0h0M263.5 357.0h0M265.7 363.1h0M267.9 369.1h0M270.0 375.1h0M272.2 381.1h0M274.4 387.2h0M276.5 393.2h0M278.7 399.2h0M242.7 284.8h0M244.9 290.8h0M247.1 296.8h0M249.2 302.8h0M251.4 308.9h0M253.6 314.9h0M255.7 320.9h0M257.9 326.9h0M260.1 333.0h0M262.2 339.0h0M264.4 345.0h0M266.6 351.0h0M268.7 357.0h0M270.9 363.1h0M273.1 369.1h0M275.2 375.1h0M277.4 381.1h0M279.6 387.2h0M281.7 393.2h0M283.9 399.2h0M249.0 287.8h0M251.2 293.8h0M253.3 299.8h0M255.5 305.9h0M257.7 311.9h0M259.8 317.9h0M262.0 323.9h0M264.2 329.9h0M266.3 336.0h0M268.5 342.0h0M270.7 348.0h0M272.9 354.0h0M275.0 360.1h0M277.2 366.1h0M279.4 372.1h0M281.5 378.1h0M283.7 384.1h0M285.9 390.2h0M288.0 396.2h0M254.2 287.8h0M256.4 293.8h0M258.5 299.8h0M260.7 305.9h0M262.9 311.9h0M265.0 317.9h0M267.2 323.9h0M269.4 329.9h0M271.5 336.0h0M273.7 342.0h0M275.9 348.0h0M278.1 354.0h0M280.2 360.1h0M282.4 366.1h0M284.6 372.1h0M286.7 378.1h0M288.9 384.1h0M291.1 390.2h0M293.2 396.2h0M260.5 290.8h0M262.7 296.8h0M264.8 302.8h0M267.0 308.9h0M269.2 314.9h0M271.3 320.9h0M273.5 326.9h0M275.7 333.0h0M277.8 339.0h0M280.0 345.0h0M282.2 351.0h0M284.3 357.0h0M286.5 363.1h0M288.7 369.1h0M290.8 375.1h0M293.0 381.1h0M295.2 387.2h0M297.3 393.2h0M267.9 296.8h0M270.0 302.8h0M272.2 308.9h0M274.4 314.9h0M276.5 320.9h0M278.7 326.9h0M280.9 333.0h0M283.0 339.0h0M285.2 345.0h0M287.4 351.0h0M289.5 357.0h0M291.7 363.1h0M293.9 369.1h0M296.0 375.1h0M298.2 381.1h0M300.4 387.2h0M302.5 393.2h0M275.2 302.8h0M277.4 308.9h0M279.6 314.9h0M281.7 320.9h0M283.9 326.9h0M286.1 333.0h0M288.2 339.0h0M290.4 345.0h0M302.3 378.1h0M304.5 384.1h0M306.7 390.2h0M282.6 308.9h0M284.8 314.9h0M286.9 320.9h0M289.1 326.9h0M291.3 333.0h0M310.8 387.2h0M290.0 314.9h0M292.1 320.9h0"/></defs><g fill="none" stroke-linecap="round"><use href="#bp7" stroke="#c3b6a9" stroke-width="3.40"/><use href="#bp7" stroke="#ede3d7" stroke-width="2.65" transform="translate(-0.12,-0.12)"/><use href="#bp7" stroke="#fcf9f5" stroke-width="1.02" transform="translate(-0.45,-0.45)"/></g><defs><path id="bp8" d="M191.0 372.1h0M189.7 354.0h0M191.8 360.1h0M194.0 366.1h0M196.2 372.1h0M198.3 378.1h0M200.5 384.1h0M202.7 390.2h0M191.6 345.0h0M193.8 351.0h0M195.9 357.0h0M198.1 363.1h0M200.3 369.1h0M202.4 375.1h0M204.6 381.1h0M206.8 387.2h0M208.9 393.2h0M192.5 333.0h0M194.6 339.0h0M196.8 345.0h0M199.0 351.0h0M201.1 357.0h0M203.3 363.1h0M205.5 369.1h0M207.6 375.1h0M209.8 381.1h0M212.0 387.2h0M214.1 393.2h0M216.3 399.2h0M194.4 323.9h0M196.6 329.9h0M198.7 336.0h0M200.9 342.0h0M203.1 348.0h0M205.3 354.0h0M207.4 360.1h0M209.6 366.1h0M211.8 372.1h0M213.9 378.1h0M216.1 384.1h0M218.3 390.2h0M220.4 396.2h0M222.6 402.2h0M195.3 311.9h0M197.4 317.9h0M199.6 323.9h0M201.8 329.9h0M203.9 336.0h0M206.1 342.0h0M208.3 348.0h0M210.5 354.0h0M212.6 360.1h0M214.8 366.1h0M217.0 372.1h0M219.1 378.1h0M221.3 384.1h0M223.5 390.2h0M225.6 396.2h0M227.8 402.2h0M198.3 305.9h0M200.5 311.9h0M202.6 317.9h0M204.8 323.9h0M207.0 329.9h0M209.1 336.0h0M211.3 342.0h0M213.5 348.0h0M215.7 354.0h0M217.8 360.1h0M220.0 366.1h0M222.2 372.1h0M224.3 378.1h0M226.5 384.1h0M228.7 390.2h0M230.8 396.2h0M233.0 402.2h0M201.3 299.8h0M203.5 305.9h0M205.7 311.9h0M207.8 317.9h0M210.0 323.9h0M212.2 329.9h0M214.3 336.0h0M216.5 342.0h0M218.7 348.0h0M220.9 354.0h0M223.0 360.1h0M225.2 366.1h0M227.4 372.1h0M229.5 378.1h0M231.7 384.1h0M233.9 390.2h0M236.0 396.2h0M238.2 402.2h0M205.5 296.8h0M207.6 302.8h0M209.8 308.9h0M212.0 314.9h0M214.1 320.9h0M216.3 326.9h0M218.5 333.0h0M220.6 339.0h0M222.8 345.0h0M225.0 351.0h0M227.1 357.0h0M229.3 363.1h0M231.5 369.1h0M233.6 375.1h0M235.8 381.1h0M238.0 387.2h0M240.1 393.2h0M242.3 399.2h0M244.5 405.2h0M210.7 296.8h0M212.8 302.8h0M215.0 308.9h0M217.2 314.9h0M219.3 320.9h0M221.5 326.9h0M223.7 333.0h0M225.8 339.0h0M228.0 345.0h0M230.2 351.0h0M232.3 357.0h0M234.5 363.1h0M236.7 369.1h0M238.8 375.1h0M241.0 381.1h0M243.2 387.2h0M245.3 393.2h0M247.5 399.2h0M249.7 405.2h0M215.9 296.8h0M218.0 302.8h0M220.2 308.9h0M222.4 314.9h0M224.5 320.9h0M226.7 326.9h0M228.9 333.0h0M231.0 339.0h0M233.2 345.0h0M235.4 351.0h0M237.5 357.0h0M239.7 363.1h0M241.9 369.1h0M244.0 375.1h0M246.2 381.1h0M248.4 387.2h0M250.5 393.2h0M252.7 399.2h0M254.9 405.2h0M220.0 293.8h0M222.1 299.8h0M224.3 305.9h0M226.5 311.9h0M228.6 317.9h0M230.8 323.9h0M233.0 329.9h0M235.1 336.0h0M237.3 342.0h0M239.5 348.0h0M241.7 354.0h0M243.8 360.1h0M246.0 366.1h0M248.2 372.1h0M250.3 378.1h0M252.5 384.1h0M254.7 390.2h0M256.8 396.2h0M259.0 402.2h0M223.0 287.8h0M225.2 293.8h0M227.3 299.8h0M229.5 305.9h0M231.7 311.9h0M233.8 317.9h0M236.0 323.9h0M238.2 329.9h0M240.3 336.0h0M242.5 342.0h0M244.7 348.0h0M246.9 354.0h0M249.0 360.1h0M251.2 366.1h0M253.4 372.1h0M255.5 378.1h0M257.7 384.1h0M259.9 390.2h0M262.0 396.2h0M264.2 402.2h0M228.2 287.8h0M230.4 293.8h0M232.5 299.8h0M234.7 305.9h0M236.9 311.9h0M239.0 317.9h0M241.2 323.9h0M243.4 329.9h0M245.5 336.0h0M247.7 342.0h0M249.9 348.0h0M252.1 354.0h0M254.2 360.1h0M256.4 366.1h0M258.6 372.1h0M260.7 378.1h0M262.9 384.1h0M265.1 390.2h0M267.2 396.2h0M269.4 402.2h0M233.4 287.8h0M235.6 293.8h0M237.7 299.8h0M239.9 305.9h0M242.1 311.9h0M244.2 317.9h0M246.4 323.9h0M248.6 329.9h0M250.7 336.0h0M252.9 342.0h0M255.1 348.0h0M257.3 354.0h0M259.4 360.1h0M261.6 366.1h0M263.8 372.1h0M265.9 378.1h0M268.1 384.1h0M270.3 390.2h0M272.4 396.2h0M274.6 402.2h0M238.6 287.8h0M240.8 293.8h0M242.9 299.8h0M245.1 305.9h0M247.3 311.9h0M249.4 317.9h0M251.6 323.9h0M253.8 329.9h0M255.9 336.0h0M258.1 342.0h0M260.3 348.0h0M262.5 354.0h0M264.6 360.1h0M266.8 366.1h0M269.0 372.1h0M271.1 378.1h0M273.3 384.1h0M275.5 390.2h0M277.6 396.2h0M279.8 402.2h0M243.8 287.8h0M246.0 293.8h0M248.1 299.8h0M250.3 305.9h0M252.5 311.9h0M254.6 317.9h0M256.8 323.9h0M259.0 329.9h0M261.1 336.0h0M263.3 342.0h0M265.5 348.0h0M267.7 354.0h0M269.8 360.1h0M272.0 366.1h0M274.2 372.1h0M276.3 378.1h0M278.5 384.1h0M280.7 390.2h0M282.8 396.2h0M285.0 402.2h0M250.1 290.8h0M252.3 296.8h0M254.4 302.8h0M256.6 308.9h0M258.8 314.9h0M260.9 320.9h0M263.1 326.9h0M265.3 333.0h0M267.4 339.0h0M269.6 345.0h0M271.8 351.0h0M273.9 357.0h0M276.1 363.1h0M278.3 369.1h0M280.4 375.1h0M282.6 381.1h0M284.8 387.2h0M286.9 393.2h0M289.1 399.2h0M255.3 290.8h0M257.5 296.8h0M259.6 302.8h0M261.8 308.9h0M264.0 314.9h0M266.1 320.9h0M268.3 326.9h0M270.5 333.0h0M272.6 339.0h0M274.8 345.0h0M277.0 351.0h0M279.1 357.0h0M281.3 363.1h0M283.5 369.1h0M285.6 375.1h0M287.8 381.1h0M290.0 387.2h0M292.1 393.2h0M294.3 399.2h0M261.6 293.8h0M263.7 299.8h0M265.9 305.9h0M268.1 311.9h0M270.2 317.9h0M272.4 323.9h0M274.6 329.9h0M276.7 336.0h0M278.9 342.0h0M281.1 348.0h0M283.3 354.0h0M285.4 360.1h0M287.6 366.1h0M289.8 372.1h0M291.9 378.1h0M294.1 384.1h0M296.3 390.2h0M298.4 396.2h0M268.9 299.8h0M271.1 305.9h0M273.3 311.9h0M275.4 317.9h0M277.6 323.9h0M279.8 329.9h0M281.9 336.0h0M284.1 342.0h0M286.3 348.0h0M288.5 354.0h0M290.6 360.1h0M292.8 366.1h0M295.0 372.1h0M297.1 378.1h0M299.3 384.1h0M301.5 390.2h0M274.1 299.8h0M276.3 305.9h0M278.5 311.9h0M280.6 317.9h0M282.8 323.9h0M285.0 329.9h0M287.1 336.0h0M289.3 342.0h0M291.5 348.0h0M303.4 381.1h0M305.6 387.2h0M281.5 305.9h0M283.7 311.9h0M285.8 317.9h0M288.0 323.9h0M290.2 329.9h0M292.3 336.0h0M288.9 311.9h0M291.0 317.9h0"/></defs><g fill="none" stroke-linecap="round"><use href="#bp8" stroke="#c3b6a9" stroke-width="3.40"/><use href="#bp8" stroke="#ede3d7" stroke-width="2.65" transform="translate(-0.12,-0.12)"/><use href="#bp8" stroke="#fcf9f5" stroke-width="1.02" transform="translate(-0.45,-0.45)"/></g><g opacity="0.95"><path d="M236.0 341.6L236.0 341.4M238.1 342.4L238.0 340.5M240.2 342.6L240.1 340.1M242.3 342.2L242.2 340.3M244.3 341.3L244.3 341.0M263.9 313.7L264.0 313.8M261.5 314.4L263.9 316.3M259.8 315.6L263.1 318.2M259.0 317.6L261.4 319.4M258.9 320.1L259.0 320.1M224.5 321.9L224.6 321.9M226.0 320.2L224.3 319.7M227.0 318.3L224.5 317.6M227.2 316.3L225.4 315.7M226.8 314.0L227.0 314.1M267.2 336.8L267.0 336.1M265.3 335.5L266.1 338.2M263.7 335.2L265.0 339.4M262.6 336.3L263.4 339.1M261.8 338.5L261.5 337.8M267.0 326.9L267.3 326.4M268.0 328.3L269.0 326.5M269.1 329.2L270.4 326.9M270.6 329.7L271.6 327.9M272.2 329.8L272.5 329.3M235.2 317.5L236.9 318.3M233.7 318.6L236.9 320.2M232.8 320.0L236.5 321.8M232.3 321.6L235.5 323.1M232.3 323.4L234.1 324.3M258.7 318.7L256.7 318.5M256.9 320.4L258.1 320.5M255.8 322.2L258.8 322.5M256.5 324.1L257.7 324.3M257.9 326.2L255.9 326.0M272.5 313.9L272.3 315.2M274.6 315.8L274.8 314.1M276.8 316.8L277.3 313.8M279.2 316.5L279.5 314.9M281.8 315.4L281.6 316.7M276.8 346.5L277.2 346.9M279.2 346.2L277.1 344.4M280.9 345.3L277.8 342.5M281.6 343.4L279.5 341.6M281.5 340.9L282.0 341.3M240.6 320.8L241.7 321.4M238.6 322.1L241.5 323.8M237.2 323.8L240.7 325.9M236.4 325.9L239.3 327.6M236.1 328.3L237.3 329.0M237.3 319.6L236.5 316.2M234.4 317.8L234.7 319.2M231.7 316.9L232.7 321.2M229.6 318.9L230.0 320.3M227.8 321.8L227.0 318.5M271.8 333.4L270.3 333.2M270.3 334.9L271.4 335.1M269.4 336.5L271.9 336.8M269.9 338.2L270.9 338.4M271.0 340.0L269.4 339.8M240.2 297.4L241.9 298.2M238.9 298.6L242.0 300.0M238.0 300.0L241.6 301.5M237.6 301.5L240.7 302.9M237.6 303.3L239.4 304.1M234.5 353.2L233.9 352.7M236.5 352.2L234.3 350.5M238.1 350.9L235.2 348.7M239.0 349.1L236.8 347.3M239.4 346.8L238.8 346.4M283.3 341.9L283.3 341.8M282.0 340.7L281.8 342.8M280.6 340.2L280.4 343.1M279.2 340.5L279.0 342.5M277.7 341.5L277.8 341.4M246.5 297.8L246.4 297.7M244.4 297.8L245.6 299.6M242.7 298.4L244.4 300.9M241.5 299.8L242.6 301.5M240.6 301.7L240.5 301.6" stroke="#a0a0a0" stroke-width="0.38" fill="none" opacity="0.7"/><defs><path id="ld13" d="M233.9 340.8L236.0 341.6L238.1 342.4L240.2 342.6L242.3 342.2L244.3 341.3L246.3 340.3M234.0 342.4L236.0 341.4L238.0 340.5L240.1 340.1L242.2 340.3L244.3 341.0L246.4 341.9M266.3 313.0L263.9 313.7L261.5 314.4L259.8 315.6L259.0 317.6L258.9 320.1L258.9 322.6M264.0 311.3L264.0 313.8L263.9 316.3L263.1 318.2L261.4 319.4L259.0 320.1L256.6 320.8M223.0 323.6L224.5 321.9L226.0 320.2L227.0 318.3L227.2 316.3L226.8 314.0L226.5 311.8M225.0 324.1L224.6 321.9L224.3 319.7L224.5 317.6L225.4 315.7L227.0 314.1L228.4 312.4M269.0 337.8L267.2 336.8L265.3 335.5L263.7 335.2L262.6 336.3L261.8 338.5L260.9 340.3M267.9 334.2L267.0 336.1L266.1 338.2L265.0 339.4L263.4 339.1L261.5 337.8L259.7 336.7M266.2 325.5L267.0 326.9L268.0 328.3L269.1 329.2L270.6 329.7L272.2 329.8L273.9 329.8M265.6 326.4L267.3 326.4L269.0 326.5L270.4 326.9L271.6 327.9L272.5 329.3L273.4 330.7M236.9 316.5L235.2 317.5L233.7 318.6L232.8 320.0L232.3 321.6L232.3 323.4L232.5 325.4M236.7 316.4L236.9 318.3L236.9 320.2L236.5 321.8L235.5 323.1L234.1 324.3L232.4 325.3M259.3 316.8L258.7 318.7L256.9 320.4L255.8 322.2L256.5 324.1L257.9 326.2L258.1 328.1M256.5 316.5L256.7 318.5L258.1 320.5L258.8 322.5L257.7 324.3L255.9 326.0L255.3 327.8M270.3 312.7L272.5 313.9L274.6 315.8L276.8 316.8L279.2 316.5L281.8 315.4L284.2 314.9M269.8 315.7L272.3 315.2L274.8 314.1L277.3 313.8L279.5 314.9L281.6 316.7L283.8 317.9M274.5 346.9L276.8 346.5L279.2 346.2L280.9 345.3L281.6 343.4L281.5 340.9L281.5 338.6M277.2 349.2L277.2 346.9L277.1 344.4L277.8 342.5L279.5 341.6L282.0 341.3L284.2 340.9M242.8 319.5L240.6 320.8L238.6 322.1L237.2 323.8L236.4 325.9L236.1 328.3L236.1 330.8M241.8 318.9L241.7 321.4L241.5 323.8L240.7 325.9L239.3 327.6L237.3 329.0L235.0 330.2M239.7 319.2L237.3 319.6L234.4 317.8L231.7 316.9L229.6 318.9L227.8 321.8L225.5 322.5M238.9 315.5L236.5 316.2L234.7 319.2L232.7 321.2L230.0 320.3L227.0 318.5L224.6 318.9M272.5 331.8L271.8 333.4L270.3 334.9L269.4 336.5L269.9 338.2L271.0 340.0L271.2 341.7M270.1 331.5L270.3 333.2L271.4 335.1L271.9 336.8L270.9 338.4L269.4 339.8L268.8 341.4M241.7 296.4L240.2 297.4L238.9 298.6L238.0 300.0L237.6 301.5L237.6 303.3L237.9 305.2M241.7 296.4L241.9 298.2L242.0 300.0L241.6 301.5L240.7 302.9L239.4 304.1L237.8 305.1M232.3 354.0L234.5 353.2L236.5 352.2L238.1 350.9L239.0 349.1L239.4 346.8L239.7 344.5M233.6 355.1L233.9 352.7L234.3 350.5L235.2 348.7L236.8 347.3L238.8 346.4L241.0 345.6M284.5 343.1L283.3 341.9L282.0 340.7L280.6 340.2L279.2 340.5L277.7 341.5L276.3 342.4M284.7 340.9L283.3 341.8L281.8 342.8L280.4 343.1L279.0 342.5L277.8 341.4L276.5 340.2M248.6 297.7L246.5 297.8L244.4 297.8L242.7 298.4L241.5 299.8L240.6 301.7L239.7 303.6M247.3 295.8L246.4 297.7L245.6 299.6L244.4 300.9L242.6 301.5L240.5 301.6L238.5 301.6"/></defs><g fill="none" stroke-linejoin="round" stroke-linecap="round"><use href="#ld13" stroke="#5a5a5a" stroke-width="0.85"/><use href="#ld13" stroke="#e0e0e0" stroke-width="0.34"/></g><defs><path id="ar14" d="M244.4 322.4A4.5 4.5 0 0 1 239.5 315.3M259.2 318.9A5.5 5.5 0 0 1 255.4 328.8M267.2 340.2l-1.4-4.3M236.1 299.5A2.6 2.6 0 0 1 240.0 302.6M280.5 303.6A5.9 5.9 0 0 1 274.6 308.1M238.3 323.6l-4.9-1.2M265.2 324.6A3.5 3.5 0 0 1 269.0 330.1M270.3 303.1A4.8 4.8 0 0 1 266.6 296.3M256.3 327.1l-0.5 5.2M275.2 322.0l-4.0 1.2M242.4 326.8A2.7 2.7 0 0 1 238.4 330.5M230.8 318.1A3.2 3.2 0 0 1 235.3 322.1M273.7 337.2l0.8 6.0M275.4 319.6A5.9 5.9 0 0 1 268.9 324.6M249.0 335.6l2.2-3.5M269.3 301.1A3.3 3.3 0 0 1 271.5 307.1M232.9 300.5A4.5 4.5 0 0 1 240.8 297.0M248.8 328.2A4.3 4.3 0 0 1 249.1 322.9M240.3 311.0l0.8-3.6M233.8 327.7l0.3 5.2M249.8 339.7A5.9 5.9 0 0 1 254.5 331.3M249.7 312.0A2.8 2.8 0 0 1 246.5 308.0M258.0 309.5A4.1 4.1 0 0 1 262.3 307.8M250.2 345.3A6.1 6.1 0 0 1 253.0 353.0M221.3 322.9l3.0-0.7M242.4 307.0l-3.5 0.0M285.5 332.4A5.9 5.9 0 0 1 289.3 340.2M260.0 321.7A6.3 6.3 0 0 1 257.5 315.2M281.5 336.5l-4.4-2.0M285.2 315.9l4.9 1.4M252.0 356.2l-2.2 7.6M277.5 298.7A4.7 4.7 0 0 1 283.6 301.7M246.7 309.4l3.8 7.5M282.0 321.4A4.5 4.5 0 0 1 278.7 315.6M286.6 321.9A6.3 6.3 0 0 1 287.1 309.7M233.0 340.0A5.8 5.8 0 0 1 223.5 345.4M256.6 307.7l-6.8 2.7M237.3 352.0A5.4 5.4 0 0 1 236.5 343.1M273.6 318.0A5.6 5.6 0 0 1 283.9 313.9M242.9 341.2A3.8 3.8 0 0 1 249.5 339.4M263.8 302.6A6.4 6.4 0 0 1 251.3 301.2M256.3 297.9A4.2 4.2 0 0 1 260.1 305.2M262.2 294.4A5.3 5.3 0 0 1 260.7 301.5M273.4 353.5A4.1 4.1 0 0 1 271.4 350.0M235.7 315.2l0.5-5.5"/></defs><g fill="none" stroke-linecap="round"><use href="#ar14" stroke="#5a5a5a" stroke-width="0.85"/><use href="#ar14" stroke="#e0e0e0" stroke-width="0.34"/></g><path d="M228.0 346.3L227.0 345.5M225.4 347.0L226.9 348.2M223.4 348.2L226.1 350.4M222.6 350.3L224.1 351.6M222.4 353.0L221.5 352.2M216.0 356.4L217.0 357.7M218.2 356.9L217.1 355.4M220.0 356.7L217.8 353.8M220.7 355.1L219.6 353.6M220.8 352.8L221.8 354.1M220.3 352.8L223.0 353.0M222.5 350.7L221.1 350.6M223.8 348.5L220.1 348.3M222.8 346.2L221.4 346.1M220.9 343.8L223.6 344.0M205.1 359.4L206.4 359.4M206.7 356.9L204.6 357.0M207.4 354.5L203.7 354.7M206.5 352.2L204.4 352.3M204.7 349.9L206.0 349.8" stroke="#999" stroke-width="0.41" fill="none" opacity="0.7"/><defs><path id="ld15" d="M230.2 345.3L228.0 346.3L225.4 347.0L223.4 348.2L222.6 350.3L222.4 353.0L221.8 355.3M227.6 343.2L227.0 345.5L226.9 348.2L226.1 350.4L224.1 351.6L221.5 352.2L219.3 353.2M214.2 356.6L216.0 356.4L218.2 356.9L220.0 356.7L220.7 355.1L220.8 352.8L221.5 351.1M216.3 359.4L217.0 357.7L217.1 355.4L217.8 353.8L219.6 353.6L221.8 354.1L223.6 353.9M219.8 355.0L220.3 352.8L222.5 350.7L223.8 348.5L222.8 346.2L220.9 343.8L220.7 341.5M223.2 355.3L223.0 353.0L221.1 350.6L220.1 348.3L221.4 346.1L223.6 344.0L224.1 341.8M204.0 361.8L205.1 359.4L206.7 356.9L207.4 354.5L206.5 352.2L204.7 349.9L203.4 347.5M207.7 361.7L206.4 359.4L204.6 357.0L203.7 354.7L204.4 352.3L206.0 349.8L207.1 347.4"/></defs><g fill="none" stroke-linejoin="round" stroke-linecap="round"><use href="#ld15" stroke="#606060" stroke-width="0.9"/><use href="#ld15" stroke="#dadada" stroke-width="0.36"/></g><defs><path id="ar16" d="M219.9 350.4A6.1 6.1 0 0 1 218.2 361.9M230.3 353.8A3.7 3.7 0 0 1 236.7 350.7M221.5 363.1l2.0-4.0M217.7 351.3A6.0 6.0 0 0 1 217.8 359.5M237.3 354.1A5.6 5.6 0 0 1 234.2 362.9M202.5 361.0A4.8 4.8 0 0 1 205.9 356.2M233.2 360.3l-0.5 7.8M218.9 350.6A3.2 3.2 0 0 1 221.7 347.4M207.1 350.9l-7.1 1.3M232.7 363.3A5.0 5.0 0 0 1 230.3 371.1M229.9 344.7A6.4 6.4 0 0 1 240.8 345.3M234.8 351.7A2.6 2.6 0 0 1 232.2 349.9M226.0 363.2A4.0 4.0 0 0 1 222.9 356.0M205.2 351.7A5.4 5.4 0 0 1 214.3 350.3"/></defs><g fill="none" stroke-linecap="round"><use href="#ar16" stroke="#606060" stroke-width="0.85"/><use href="#ar16" stroke="#dadada" stroke-width="0.34"/></g><polyline points="240.04,339.63 239.54,340.01 239.06,340.38 238.59,340.73 238.15,341.06 237.73,341.38 237.35,341.69 237.00,341.98 236.69,342.25 236.42,342.51 236.19,342.76 236.02,342.99 235.89,343.22 235.81,343.43 235.79,343.63 235.81,343.83 235.89,344.01 236.02,344.19 236.21,344.37 236.44,344.54 236.72,344.71 237.05,344.88 237.43,345.05 237.84,345.23 238.30,345.41 238.79,345.59 239.31,345.78 239.85,345.98 240.42,346.18 241.00,346.40 241.60,346.63 242.21,346.87 242.82,347.12 243.43,347.39 244.03,347.67 244.62,347.97 245.19,348.28 245.74,348.60 246.26,348.95 246.76,349.30 247.22,349.67 247.65,350.06 248.03,350.46 248.37,350.88 248.66,351.31 248.91,351.75 249.10,352.20 249.24,352.66 249.34,353.13 249.37,353.60 249.36,354.09 249.29,354.58 249.18,355.07 249.01,355.57 248.79,356.06 248.53,356.56 248.23,357.05 247.89,357.54 247.51,358.03 247.10,358.51 246.67,358.98 246.21,359.44 245.73,359.90 245.23,360.34 244.73,360.77 244.22,361.19 243.71,361.59 243.21,361.98 242.71,362.36 242.23,362.72 241.78,363.06 241.34,363.39 240.94,363.71 240.56,364.01 240.22,364.29 239.93,364.56 239.67,364.82 239.46,365.06 239.30,365.29 239.19,365.51 239.13,365.72 239.12,365.92 239.17,366.11 239.26,366.30 239.41,366.47 239.61,366.65 239.86,366.82 240.16,366.99 240.51,367.16 240.90,367.33 241.32,367.51 241.79,367.69 242.29,367.87 242.82,368.07 243.37,368.27 243.95,368.48 244.54,368.70 245.14,368.93 245.75,369.17 246.36,369.43 246.96,369.70 247.56,369.99 248.14,370.29 248.71,370.61 249.25,370.94 249.77,371.28 250.25,371.65 250.70,372.02 251.11,372.42 251.48,372.82 251.81,373.24 252.08,373.67 252.31,374.12 252.49,374.57 252.61,375.04 252.69,375.51 252.71,375.99 252.68,376.47 252.59,376.96 252.46,377.46 252.28,377.95" fill="none" stroke="#c23a2e" stroke-width="0.9" stroke-linejoin="round"/><polyline points="237.75,337.19 238.28,337.38 238.84,337.58 239.42,337.79 240.01,338.02 240.61,338.25 241.22,338.50 241.83,338.76 242.43,339.03 243.03,339.32 243.61,339.62 244.17,339.94 244.71,340.27 245.23,340.62 245.71,340.99 246.15,341.36 246.56,341.76 246.92,342.17 247.24,342.59 247.51,343.02 247.73,343.47 247.90,343.92 248.02,344.39 248.09,344.86 248.10,345.34 248.06,345.83 247.97,346.32 247.83,346.81 247.64,347.31 247.41,347.81 247.13,348.30 246.81,348.79 246.45,349.28 246.05,349.76 245.63,350.24 245.18,350.71 244.71,351.17 244.22,351.61 243.72,352.05 243.22,352.48 242.71,352.89 242.20,353.29 241.70,353.67 241.21,354.04 240.75,354.39 240.30,354.73 239.88,355.05 239.48,355.36 239.13,355.65 238.81,355.93 238.53,356.19 238.30,356.44 238.11,356.68 237.97,356.91 237.88,357.12 237.85,357.33 237.86,357.52 237.93,357.71 238.05,357.89 238.23,358.07 238.45,358.24 238.72,358.41 239.04,358.58 239.41,358.75 239.82,358.93 240.26,359.10 240.74,359.29 241.26,359.47 241.80,359.67 242.36,359.87 242.95,360.09 243.54,360.31 244.15,360.55 244.76,360.80 245.36,361.07 245.97,361.35 246.56,361.64 247.13,361.95 247.69,362.27 248.22,362.61 248.72,362.96 249.19,363.33 249.62,363.72 250.02,364.11 250.36,364.53 250.67,364.95 250.92,365.39 251.13,365.84 251.28,366.30 251.38,366.77 251.43,367.24 251.43,367.72 251.37,368.21 251.26,368.71 251.11,369.20 250.90,369.70 250.65,370.19 250.36,370.69 250.02,371.18 249.65,371.66 249.25,372.15 248.82,372.62 248.36,373.08 247.88,373.54 247.39,373.98 246.89,374.42 246.38,374.84 245.87,375.24 245.37,375.64 244.87,376.02 244.39,376.38 243.93,376.73 243.49,377.06 243.07,377.38 242.69,377.68 242.35,377.97 242.04,378.24 241.78,378.50 241.56,378.75 241.39,378.98 241.27,379.20" fill="none" stroke="#c23a2e" stroke-width="0.9" stroke-linejoin="round"/><path d="M240.04 339.63L237.75 337.19M236.69 342.25L242.43 339.03M235.89 344.01L246.56 341.76M238.30 345.41L248.10 345.34M242.82 347.12L246.45 349.28M247.22 349.67L242.71 352.89M249.34 353.13L239.13 355.65M248.23 357.05L237.86 357.52M244.73 360.77L239.82 358.93M240.94 363.71L244.15 360.55M239.13 365.72L248.72 362.96M240.51 367.16L251.28 366.30M244.54 368.70L250.65 370.19M249.25 370.94L247.39 373.98M252.31 374.12L243.49 377.06M252.28 377.95L241.27 379.20" stroke="#e59a90" stroke-width="0.45" fill="none" opacity="0.9"/><defs><path id="ar17" d="M235.4 368.8l3.5 2.3M240.1 367.4A2.7 2.7 0 0 1 239.0 371.4M237.9 364.0A5.8 5.8 0 0 1 247.7 368.1M220.4 368.3l3.4 1.7M232.4 361.0A3.0 3.0 0 0 1 226.5 361.0M224.8 366.2l1.4 5.2M231.7 362.9l2.0 4.5M238.0 369.7l6.7 3.1M231.9 363.4A3.3 3.3 0 0 1 232.5 359.6M234.1 356.9l0.6-6.0M233.5 368.0A3.3 3.3 0 0 1 237.1 369.1M223.6 364.9l5.4 4.3"/></defs><g fill="none" stroke-linecap="round"><use href="#ar17" stroke="#b565b5" stroke-width="0.8"/></g><defs><path id="ar18" d="M220.3 368.2l1.6 5.9M215.4 380.5l7.5-4.9M207.2 380.9A5.1 5.1 0 0 1 205.3 371.9M217.8 362.1A5.6 5.6 0 0 1 207.1 362.5M216.1 367.3A5.3 5.3 0 0 1 215.8 358.4M229.3 375.9A2.8 2.8 0 0 1 224.7 373.1M215.6 377.5A4.8 4.8 0 0 1 224.5 376.2M209.0 376.0A5.1 5.1 0 0 1 204.1 374.4M227.1 378.3A4.3 4.3 0 0 1 220.1 378.1M226.2 374.4A4.0 4.0 0 0 1 219.9 371.0M212.5 367.6l-1.6-4.6M211.3 366.3A4.0 4.0 0 0 1 218.9 364.1"/></defs><g fill="none" stroke-linecap="round"><use href="#ar18" stroke="#3d6ea8" stroke-width="0.85"/></g><defs><path id="ar19" d="M265.2 393.0A6.4 6.4 0 1 1 276.3 389.5M275.1 382.4A5.2 5.2 0 0 1 280.8 388.2M255.2 385.8A6.1 6.1 0 1 1 252.3 374.9M274.0 386.5A3.4 3.4 0 0 1 268.1 383.2M269.8 398.0A6.8 6.8 0 1 1 277.4 387.9M268.4 386.8A6.4 6.4 0 0 1 280.8 387.3M259.3 387.2A3.6 3.6 0 0 1 261.4 393.3M253.1 384.3A4.1 4.1 0 0 1 248.8 379.6M257.4 389.4l-6.6 0.7"/></defs><g fill="none" stroke-linecap="round"><use href="#ar19" stroke="#cdb38a" stroke-width="0.8"/></g></g>
<path d="M567.5 330.5l7.3 2.9M566.6 336.2l7.5 2.1M565.7 341.9l7.7 1.2M564.8 347.6l7.8 0.4M563.9 353.3l7.8 -0.5M563.0 359.0l7.7 -1.3M562.1 364.7l7.5 -2.0M577.7 302.9l5.0 6.0M576.8 308.6l5.4 5.6M575.9 314.3l5.9 5.1M575.0 320.0l6.3 4.5M574.1 325.7l6.7 3.8M573.2 331.4l6.9 2.9M572.3 337.1l7.0 2.0M571.4 342.8l7.2 1.1M570.5 348.5l7.3 0.2M569.6 354.2l7.4 -0.7M568.7 359.9l7.5 -1.5M567.8 365.6l7.4 -2.4M566.9 371.3l7.2 -3.1M566.0 377.0l6.9 -3.6M565.1 382.7l6.6 -4.2M584.3 298.1l4.2 6.6M583.4 303.8l4.6 6.3M582.5 309.5l5.1 5.9M581.6 315.2l5.5 5.4M580.7 320.9l5.7 4.6M579.8 326.6l5.9 3.7M578.9 332.3l6.1 2.8M578.0 338.0l6.2 1.9M577.1 343.7l6.4 1.0M576.2 349.4l6.5 0.1M575.3 355.1l6.6 -0.8M574.4 360.8l6.7 -1.7M573.5 366.5l6.8 -2.6M572.6 372.2l6.9 -3.5M571.7 377.9l6.6 -4.1M570.8 383.6l6.3 -4.6M569.9 389.3l6.0 -5.0M590.9 293.3l3.3 7.1M590.0 299.0l3.6 6.9M589.1 304.7l4.1 6.6M588.2 310.4l4.5 6.2M587.3 316.1l4.7 5.3M586.4 321.8l4.9 4.5M585.5 327.5l5.1 3.6M584.6 333.2l5.2 2.7M583.7 338.9l5.4 1.8M582.8 344.6l5.6 0.9M581.9 350.3l5.7 -0.0M581.0 356.0l5.8 -1.0M580.1 361.7l5.9 -1.9M579.2 367.4l6.0 -2.8M578.3 373.1l6.1 -3.6M577.4 378.8l6.2 -4.5M576.5 384.5l5.9 -5.1M575.6 390.2l5.6 -5.4M574.7 395.9l5.3 -5.7M596.6 294.2l2.7 7.3M595.7 299.9l3.1 7.2M594.8 305.6l3.5 6.9M593.9 311.3l3.6 6.1M593.0 317.0l3.8 5.3M592.1 322.7l4.0 4.4M591.2 328.4l4.2 3.5M590.3 334.1l4.4 2.6M589.4 339.8l4.6 1.7M588.5 345.5l4.8 0.8M587.6 351.2l4.9 -0.2M586.7 356.9l5.0 -1.1M585.8 362.6l5.1 -2.1M584.9 368.3l5.2 -3.0M584.0 374.0l5.3 -3.8M583.1 379.7l5.3 -4.7M582.2 385.4l5.4 -5.5M581.3 391.1l5.1 -5.9M580.4 396.8l4.8 -6.1M603.2 289.4l1.7 7.6M602.3 295.1l2.0 7.5M601.4 300.8l2.4 7.4M600.5 306.5l2.6 6.8M599.6 312.2l2.8 6.0M598.7 317.9l3.0 5.2M597.8 323.6l3.2 4.3M596.9 329.3l3.4 3.5M596.0 335.0l3.6 2.6M595.1 340.7l3.8 1.6M594.2 346.4l4.0 0.6M593.3 352.1l4.1 -0.4M592.4 357.8l4.2 -1.3M591.5 363.5l4.3 -2.3M590.6 369.2l4.3 -3.2M589.7 374.9l4.4 -4.0M588.8 380.6l4.5 -4.9M587.9 386.3l4.6 -5.7M587.0 392.0l4.5 -6.3M586.1 397.7l4.2 -6.5M585.2 403.4l4.0 -6.7M608.9 290.3l1.0 7.7M608.0 296.0l1.3 7.7M607.1 301.7l1.5 7.5M606.2 307.4l1.7 6.7M605.3 313.1l1.9 5.9M604.4 318.8l2.1 5.1M603.5 324.5l2.3 4.3M602.6 330.2l2.5 3.4M601.7 335.9l2.7 2.5M600.8 341.6l3.0 1.5M599.9 347.3l3.2 0.5M599.0 353.0l3.3 -0.6M598.1 358.7l3.4 -1.6M597.2 364.4l3.4 -2.5M596.3 370.1l3.5 -3.4M595.4 375.8l3.5 -4.2M594.5 381.5l3.6 -5.1M593.6 387.2l3.7 -5.9M592.7 392.9l3.8 -6.7M591.8 398.6l3.6 -6.9M590.9 404.3l3.4 -7.0M614.6 291.2l0.3 7.8M613.7 296.9l0.5 7.8M612.8 302.6l0.7 7.4M611.9 308.3l0.8 6.6M611.0 314.0l1.0 5.8M610.1 319.7l1.1 5.0M609.2 325.4l1.3 4.2M608.3 331.1l1.6 3.4M607.4 336.8l1.8 2.5M606.5 342.5l2.1 1.5M605.6 348.2l2.4 0.4M604.7 353.9l2.5 -0.8M603.8 359.6l2.5 -1.8M602.9 365.3l2.5 -2.7M602.0 371.0l2.6 -3.6M601.1 376.7l2.6 -4.4M600.2 382.4l2.7 -5.2M599.3 388.1l2.8 -6.1M598.4 393.8l2.9 -6.9M597.5 399.5l2.9 -7.3M596.6 405.2l2.7 -7.3M620.3 292.1l-0.4 7.8M619.4 297.8l-0.4 7.8M618.5 303.5l-0.2 7.3M617.6 309.2l-0.1 6.5M616.7 314.9l0.0 5.7M615.8 320.6l0.2 4.9M614.9 326.3l0.4 4.1M614.0 332.0l0.6 3.3M613.1 337.7l0.8 2.5M612.2 343.4l1.1 1.6M611.3 349.1l1.6 0.3M610.4 354.8l1.6 -1.1M609.5 360.5l1.5 -2.1M608.6 366.2l1.5 -3.0M607.7 371.9l1.6 -3.8M606.8 377.6l1.7 -4.6M605.9 383.3l1.8 -5.4M605.0 389.0l1.9 -6.2M604.1 394.7l2.0 -7.0M603.2 400.4l2.1 -7.5M602.3 406.1l2.0 -7.5M626.0 293.0l-1.2 7.7M625.1 298.7l-1.2 7.7M624.2 304.4l-1.1 7.2M623.3 310.1l-1.0 6.4M622.4 315.8l-0.9 5.6M621.5 321.5l-0.8 4.8M620.6 327.2l-0.6 4.0M619.7 332.9l-0.5 3.2M618.8 338.6l-0.4 2.4M617.9 344.3l-0.3 1.6M616.1 355.7l0.3 -1.6M615.2 361.4l0.4 -2.4M614.3 367.1l0.5 -3.2M613.4 372.8l0.6 -4.0M612.5 378.5l0.8 -4.8M611.6 384.2l0.9 -5.6M610.7 389.9l1.0 -6.4M609.8 395.6l1.1 -7.2M608.9 401.3l1.2 -7.7M608.0 407.0l1.2 -7.7M631.7 293.9l-2.0 7.5M630.8 299.6l-2.1 7.5M629.9 305.3l-2.0 7.0M629.0 311.0l-1.9 6.2M628.1 316.7l-1.8 5.4M627.2 322.4l-1.7 4.6M626.3 328.1l-1.6 3.8M625.4 333.8l-1.5 3.0M624.5 339.5l-1.5 2.1M623.6 345.2l-1.6 1.1M622.7 350.9l-1.6 -0.3M621.8 356.6l-1.1 -1.6M620.9 362.3l-0.8 -2.5M620.0 368.0l-0.6 -3.3M619.1 373.7l-0.4 -4.1M618.2 379.4l-0.2 -4.9M617.3 385.1l-0.0 -5.7M616.4 390.8l0.1 -6.5M615.5 396.5l0.2 -7.3M614.6 402.2l0.4 -7.8M613.7 407.9l0.4 -7.8M637.4 294.8l-2.7 7.3M636.5 300.5l-2.9 7.3M635.6 306.2l-2.9 6.9M634.7 311.9l-2.8 6.1M633.8 317.6l-2.7 5.2M632.9 323.3l-2.6 4.4M632.0 329.0l-2.6 3.6M631.1 334.7l-2.5 2.7M630.2 340.4l-2.5 1.8M629.3 346.1l-2.5 0.8M628.4 351.8l-2.4 -0.4M627.5 357.5l-2.1 -1.5M626.6 363.2l-1.8 -2.5M625.7 368.9l-1.6 -3.4M624.8 374.6l-1.3 -4.2M623.9 380.3l-1.1 -5.0M623.0 386.0l-1.0 -5.8M622.1 391.7l-0.8 -6.6M621.2 397.4l-0.7 -7.4M620.3 403.1l-0.5 -7.8M619.4 408.8l-0.3 -7.8M642.2 301.4l-3.6 6.9M641.3 307.1l-3.8 6.7M640.4 312.8l-3.7 5.9M639.5 318.5l-3.6 5.1M638.6 324.2l-3.5 4.2M637.7 329.9l-3.5 3.4M636.8 335.6l-3.4 2.5M635.9 341.3l-3.4 1.6M635.0 347.0l-3.3 0.6M634.1 352.7l-3.2 -0.5M633.2 358.4l-3.0 -1.5M632.3 364.1l-2.7 -2.5M631.4 369.8l-2.5 -3.4M630.5 375.5l-2.3 -4.3M629.6 381.2l-2.1 -5.1M628.7 386.9l-1.9 -5.9M627.8 392.6l-1.7 -6.7M626.9 398.3l-1.5 -7.5M626.0 404.0l-1.3 -7.7M625.1 409.7l-1.0 -7.7M647.9 302.3l-4.2 6.5M647.0 308.0l-4.5 6.3M646.1 313.7l-4.6 5.7M645.2 319.4l-4.5 4.9M644.3 325.1l-4.4 4.0M643.4 330.8l-4.3 3.2M642.5 336.5l-4.3 2.3M641.6 342.2l-4.2 1.3M640.7 347.9l-4.1 0.4M639.8 353.6l-4.0 -0.6M638.9 359.3l-3.8 -1.6M638.0 365.0l-3.6 -2.6M637.1 370.7l-3.4 -3.5M636.2 376.4l-3.2 -4.3M635.3 382.1l-3.0 -5.2M634.4 387.8l-2.8 -6.0M633.5 393.5l-2.6 -6.8M632.6 399.2l-2.4 -7.4M631.7 404.9l-2.0 -7.5M630.8 410.6l-1.7 -7.6M652.7 308.9l-5.1 5.9M651.8 314.6l-5.4 5.5M650.9 320.3l-5.3 4.7M650.0 326.0l-5.3 3.8M649.1 331.7l-5.2 3.0M648.2 337.4l-5.1 2.1M647.3 343.1l-5.0 1.1M646.4 348.8l-4.9 0.2M645.5 354.5l-4.8 -0.8M644.6 360.2l-4.6 -1.7M643.7 365.9l-4.4 -2.6M642.8 371.6l-4.2 -3.5M641.9 377.3l-4.0 -4.4M641.0 383.0l-3.8 -5.3M640.1 388.7l-3.6 -6.1M639.2 394.4l-3.5 -6.9M638.3 400.1l-3.1 -7.2M637.4 405.8l-2.7 -7.3M657.5 315.5l-5.9 5.1M656.6 321.2l-6.2 4.5M655.7 326.9l-6.1 3.6M654.8 332.6l-6.0 2.8M653.9 338.3l-5.9 1.9M653.0 344.0l-5.8 1.0M652.1 349.7l-5.7 0.0M651.2 355.4l-5.6 -0.9M650.3 361.1l-5.4 -1.8M649.4 366.8l-5.2 -2.7M648.5 372.5l-5.1 -3.6M647.6 378.2l-4.9 -4.5M646.7 383.9l-4.7 -5.3M645.8 389.6l-4.5 -6.2M644.9 395.3l-4.1 -6.6M644.0 401.0l-3.6 -6.9M643.1 406.7l-3.3 -7.1M662.3 322.1l-6.6 4.1M661.4 327.8l-6.9 3.5M660.5 333.5l-6.8 2.6M659.6 339.2l-6.7 1.7M658.7 344.9l-6.6 0.8M657.8 350.6l-6.5 -0.1M656.9 356.3l-6.4 -1.0M656.0 362.0l-6.2 -1.9M655.1 367.7l-6.1 -2.8M654.2 373.4l-5.9 -3.7M653.3 379.1l-5.7 -4.6M652.4 384.8l-5.5 -5.4M651.5 390.5l-5.1 -5.9M650.6 396.2l-4.6 -6.3M649.7 401.9l-4.2 -6.6M667.1 328.7l-7.2 3.1M666.2 334.4l-7.4 2.4M665.3 340.1l-7.5 1.5M664.4 345.8l-7.4 0.7M663.5 351.5l-7.3 -0.2M662.6 357.2l-7.2 -1.1M661.7 362.9l-7.0 -2.0M660.8 368.6l-6.9 -2.9M659.9 374.3l-6.7 -3.8M659.0 380.0l-6.3 -4.5M658.1 385.7l-5.9 -5.1M657.2 391.4l-5.4 -5.6M656.3 397.1l-5.0 -6.0M655.4 402.8l-4.6 -6.3M671.0 341.0l-7.7 1.3M670.1 346.7l-7.8 0.5M669.2 352.4l-7.8 -0.4M668.3 358.1l-7.7 -1.2M667.4 363.8l-7.5 -2.1M666.5 369.5l-7.3 -2.9M665.6 375.2l-6.9 -3.6M664.7 380.9l-6.5 -4.2M663.8 386.6l-6.1 -4.8M662.9 392.3l-5.7 -5.3M662.0 398.0l-5.3 -5.7M674.0 359.0l-7.7 -1.2M673.1 364.7l-7.5 -2.0M672.2 370.4l-7.3 -2.7M671.3 376.1l-7.0 -3.4M670.4 381.8l-6.7 -4.0M669.5 387.5l-6.3 -4.5M668.6 393.2l-6.0 -5.0M676.1 382.7l-6.8 -3.8" stroke="#bfb4a8" stroke-width="2.8" stroke-linecap="round" fill="none"/><path d="M567.5 330.5l7.3 2.9M566.6 336.2l7.5 2.1M565.7 341.9l7.7 1.2M564.8 347.6l7.8 0.4M563.9 353.3l7.8 -0.5M563.0 359.0l7.7 -1.3M562.1 364.7l7.5 -2.0M577.7 302.9l5.0 6.0M576.8 308.6l5.4 5.6M575.9 314.3l5.9 5.1M575.0 320.0l6.3 4.5M574.1 325.7l6.7 3.8M573.2 331.4l6.9 2.9M572.3 337.1l7.0 2.0M571.4 342.8l7.2 1.1M570.5 348.5l7.3 0.2M569.6 354.2l7.4 -0.7M568.7 359.9l7.5 -1.5M567.8 365.6l7.4 -2.4M566.9 371.3l7.2 -3.1M566.0 377.0l6.9 -3.6M565.1 382.7l6.6 -4.2M584.3 298.1l4.2 6.6M583.4 303.8l4.6 6.3M582.5 309.5l5.1 5.9M581.6 315.2l5.5 5.4M580.7 320.9l5.7 4.6M579.8 326.6l5.9 3.7M578.9 332.3l6.1 2.8M578.0 338.0l6.2 1.9M577.1 343.7l6.4 1.0M576.2 349.4l6.5 0.1M575.3 355.1l6.6 -0.8M574.4 360.8l6.7 -1.7M573.5 366.5l6.8 -2.6M572.6 372.2l6.9 -3.5M571.7 377.9l6.6 -4.1M570.8 383.6l6.3 -4.6M569.9 389.3l6.0 -5.0M590.9 293.3l3.3 7.1M590.0 299.0l3.6 6.9M589.1 304.7l4.1 6.6M588.2 310.4l4.5 6.2M587.3 316.1l4.7 5.3M586.4 321.8l4.9 4.5M585.5 327.5l5.1 3.6M584.6 333.2l5.2 2.7M583.7 338.9l5.4 1.8M582.8 344.6l5.6 0.9M581.9 350.3l5.7 -0.0M581.0 356.0l5.8 -1.0M580.1 361.7l5.9 -1.9M579.2 367.4l6.0 -2.8M578.3 373.1l6.1 -3.6M577.4 378.8l6.2 -4.5M576.5 384.5l5.9 -5.1M575.6 390.2l5.6 -5.4M574.7 395.9l5.3 -5.7M596.6 294.2l2.7 7.3M595.7 299.9l3.1 7.2M594.8 305.6l3.5 6.9M593.9 311.3l3.6 6.1M593.0 317.0l3.8 5.3M592.1 322.7l4.0 4.4M591.2 328.4l4.2 3.5M590.3 334.1l4.4 2.6M589.4 339.8l4.6 1.7M588.5 345.5l4.8 0.8M587.6 351.2l4.9 -0.2M586.7 356.9l5.0 -1.1M585.8 362.6l5.1 -2.1M584.9 368.3l5.2 -3.0M584.0 374.0l5.3 -3.8M583.1 379.7l5.3 -4.7M582.2 385.4l5.4 -5.5M581.3 391.1l5.1 -5.9M580.4 396.8l4.8 -6.1M603.2 289.4l1.7 7.6M602.3 295.1l2.0 7.5M601.4 300.8l2.4 7.4M600.5 306.5l2.6 6.8M599.6 312.2l2.8 6.0M598.7 317.9l3.0 5.2M597.8 323.6l3.2 4.3M596.9 329.3l3.4 3.5M596.0 335.0l3.6 2.6M595.1 340.7l3.8 1.6M594.2 346.4l4.0 0.6M593.3 352.1l4.1 -0.4M592.4 357.8l4.2 -1.3M591.5 363.5l4.3 -2.3M590.6 369.2l4.3 -3.2M589.7 374.9l4.4 -4.0M588.8 380.6l4.5 -4.9M587.9 386.3l4.6 -5.7M587.0 392.0l4.5 -6.3M586.1 397.7l4.2 -6.5M585.2 403.4l4.0 -6.7M608.9 290.3l1.0 7.7M608.0 296.0l1.3 7.7M607.1 301.7l1.5 7.5M606.2 307.4l1.7 6.7M605.3 313.1l1.9 5.9M604.4 318.8l2.1 5.1M603.5 324.5l2.3 4.3M602.6 330.2l2.5 3.4M601.7 335.9l2.7 2.5M600.8 341.6l3.0 1.5M599.9 347.3l3.2 0.5M599.0 353.0l3.3 -0.6M598.1 358.7l3.4 -1.6M597.2 364.4l3.4 -2.5M596.3 370.1l3.5 -3.4M595.4 375.8l3.5 -4.2M594.5 381.5l3.6 -5.1M593.6 387.2l3.7 -5.9M592.7 392.9l3.8 -6.7M591.8 398.6l3.6 -6.9M590.9 404.3l3.4 -7.0M614.6 291.2l0.3 7.8M613.7 296.9l0.5 7.8M612.8 302.6l0.7 7.4M611.9 308.3l0.8 6.6M611.0 314.0l1.0 5.8M610.1 319.7l1.1 5.0M609.2 325.4l1.3 4.2M608.3 331.1l1.6 3.4M607.4 336.8l1.8 2.5M606.5 342.5l2.1 1.5M605.6 348.2l2.4 0.4M604.7 353.9l2.5 -0.8M603.8 359.6l2.5 -1.8M602.9 365.3l2.5 -2.7M602.0 371.0l2.6 -3.6M601.1 376.7l2.6 -4.4M600.2 382.4l2.7 -5.2M599.3 388.1l2.8 -6.1M598.4 393.8l2.9 -6.9M597.5 399.5l2.9 -7.3M596.6 405.2l2.7 -7.3M620.3 292.1l-0.4 7.8M619.4 297.8l-0.4 7.8M618.5 303.5l-0.2 7.3M617.6 309.2l-0.1 6.5M616.7 314.9l0.0 5.7M615.8 320.6l0.2 4.9M614.9 326.3l0.4 4.1M614.0 332.0l0.6 3.3M613.1 337.7l0.8 2.5M612.2 343.4l1.1 1.6M611.3 349.1l1.6 0.3M610.4 354.8l1.6 -1.1M609.5 360.5l1.5 -2.1M608.6 366.2l1.5 -3.0M607.7 371.9l1.6 -3.8M606.8 377.6l1.7 -4.6M605.9 383.3l1.8 -5.4M605.0 389.0l1.9 -6.2M604.1 394.7l2.0 -7.0M603.2 400.4l2.1 -7.5M602.3 406.1l2.0 -7.5M626.0 293.0l-1.2 7.7M625.1 298.7l-1.2 7.7M624.2 304.4l-1.1 7.2M623.3 310.1l-1.0 6.4M622.4 315.8l-0.9 5.6M621.5 321.5l-0.8 4.8M620.6 327.2l-0.6 4.0M619.7 332.9l-0.5 3.2M618.8 338.6l-0.4 2.4M617.9 344.3l-0.3 1.6M616.1 355.7l0.3 -1.6M615.2 361.4l0.4 -2.4M614.3 367.1l0.5 -3.2M613.4 372.8l0.6 -4.0M612.5 378.5l0.8 -4.8M611.6 384.2l0.9 -5.6M610.7 389.9l1.0 -6.4M609.8 395.6l1.1 -7.2M608.9 401.3l1.2 -7.7M608.0 407.0l1.2 -7.7M631.7 293.9l-2.0 7.5M630.8 299.6l-2.1 7.5M629.9 305.3l-2.0 7.0M629.0 311.0l-1.9 6.2M628.1 316.7l-1.8 5.4M627.2 322.4l-1.7 4.6M626.3 328.1l-1.6 3.8M625.4 333.8l-1.5 3.0M624.5 339.5l-1.5 2.1M623.6 345.2l-1.6 1.1M622.7 350.9l-1.6 -0.3M621.8 356.6l-1.1 -1.6M620.9 362.3l-0.8 -2.5M620.0 368.0l-0.6 -3.3M619.1 373.7l-0.4 -4.1M618.2 379.4l-0.2 -4.9M617.3 385.1l-0.0 -5.7M616.4 390.8l0.1 -6.5M615.5 396.5l0.2 -7.3M614.6 402.2l0.4 -7.8M613.7 407.9l0.4 -7.8M637.4 294.8l-2.7 7.3M636.5 300.5l-2.9 7.3M635.6 306.2l-2.9 6.9M634.7 311.9l-2.8 6.1M633.8 317.6l-2.7 5.2M632.9 323.3l-2.6 4.4M632.0 329.0l-2.6 3.6M631.1 334.7l-2.5 2.7M630.2 340.4l-2.5 1.8M629.3 346.1l-2.5 0.8M628.4 351.8l-2.4 -0.4M627.5 357.5l-2.1 -1.5M626.6 363.2l-1.8 -2.5M625.7 368.9l-1.6 -3.4M624.8 374.6l-1.3 -4.2M623.9 380.3l-1.1 -5.0M623.0 386.0l-1.0 -5.8M622.1 391.7l-0.8 -6.6M621.2 397.4l-0.7 -7.4M620.3 403.1l-0.5 -7.8M619.4 408.8l-0.3 -7.8M642.2 301.4l-3.6 6.9M641.3 307.1l-3.8 6.7M640.4 312.8l-3.7 5.9M639.5 318.5l-3.6 5.1M638.6 324.2l-3.5 4.2M637.7 329.9l-3.5 3.4M636.8 335.6l-3.4 2.5M635.9 341.3l-3.4 1.6M635.0 347.0l-3.3 0.6M634.1 352.7l-3.2 -0.5M633.2 358.4l-3.0 -1.5M632.3 364.1l-2.7 -2.5M631.4 369.8l-2.5 -3.4M630.5 375.5l-2.3 -4.3M629.6 381.2l-2.1 -5.1M628.7 386.9l-1.9 -5.9M627.8 392.6l-1.7 -6.7M626.9 398.3l-1.5 -7.5M626.0 404.0l-1.3 -7.7M625.1 409.7l-1.0 -7.7M647.9 302.3l-4.2 6.5M647.0 308.0l-4.5 6.3M646.1 313.7l-4.6 5.7M645.2 319.4l-4.5 4.9M644.3 325.1l-4.4 4.0M643.4 330.8l-4.3 3.2M642.5 336.5l-4.3 2.3M641.6 342.2l-4.2 1.3M640.7 347.9l-4.1 0.4M639.8 353.6l-4.0 -0.6M638.9 359.3l-3.8 -1.6M638.0 365.0l-3.6 -2.6M637.1 370.7l-3.4 -3.5M636.2 376.4l-3.2 -4.3M635.3 382.1l-3.0 -5.2M634.4 387.8l-2.8 -6.0M633.5 393.5l-2.6 -6.8M632.6 399.2l-2.4 -7.4M631.7 404.9l-2.0 -7.5M630.8 410.6l-1.7 -7.6M652.7 308.9l-5.1 5.9M651.8 314.6l-5.4 5.5M650.9 320.3l-5.3 4.7M650.0 326.0l-5.3 3.8M649.1 331.7l-5.2 3.0M648.2 337.4l-5.1 2.1M647.3 343.1l-5.0 1.1M646.4 348.8l-4.9 0.2M645.5 354.5l-4.8 -0.8M644.6 360.2l-4.6 -1.7M643.7 365.9l-4.4 -2.6M642.8 371.6l-4.2 -3.5M641.9 377.3l-4.0 -4.4M641.0 383.0l-3.8 -5.3M640.1 388.7l-3.6 -6.1M639.2 394.4l-3.5 -6.9M638.3 400.1l-3.1 -7.2M637.4 405.8l-2.7 -7.3M657.5 315.5l-5.9 5.1M656.6 321.2l-6.2 4.5M655.7 326.9l-6.1 3.6M654.8 332.6l-6.0 2.8M653.9 338.3l-5.9 1.9M653.0 344.0l-5.8 1.0M652.1 349.7l-5.7 0.0M651.2 355.4l-5.6 -0.9M650.3 361.1l-5.4 -1.8M649.4 366.8l-5.2 -2.7M648.5 372.5l-5.1 -3.6M647.6 378.2l-4.9 -4.5M646.7 383.9l-4.7 -5.3M645.8 389.6l-4.5 -6.2M644.9 395.3l-4.1 -6.6M644.0 401.0l-3.6 -6.9M643.1 406.7l-3.3 -7.1M662.3 322.1l-6.6 4.1M661.4 327.8l-6.9 3.5M660.5 333.5l-6.8 2.6M659.6 339.2l-6.7 1.7M658.7 344.9l-6.6 0.8M657.8 350.6l-6.5 -0.1M656.9 356.3l-6.4 -1.0M656.0 362.0l-6.2 -1.9M655.1 367.7l-6.1 -2.8M654.2 373.4l-5.9 -3.7M653.3 379.1l-5.7 -4.6M652.4 384.8l-5.5 -5.4M651.5 390.5l-5.1 -5.9M650.6 396.2l-4.6 -6.3M649.7 401.9l-4.2 -6.6M667.1 328.7l-7.2 3.1M666.2 334.4l-7.4 2.4M665.3 340.1l-7.5 1.5M664.4 345.8l-7.4 0.7M663.5 351.5l-7.3 -0.2M662.6 357.2l-7.2 -1.1M661.7 362.9l-7.0 -2.0M660.8 368.6l-6.9 -2.9M659.9 374.3l-6.7 -3.8M659.0 380.0l-6.3 -4.5M658.1 385.7l-5.9 -5.1M657.2 391.4l-5.4 -5.6M656.3 397.1l-5.0 -6.0M655.4 402.8l-4.6 -6.3M671.0 341.0l-7.7 1.3M670.1 346.7l-7.8 0.5M669.2 352.4l-7.8 -0.4M668.3 358.1l-7.7 -1.2M667.4 363.8l-7.5 -2.1M666.5 369.5l-7.3 -2.9M665.6 375.2l-6.9 -3.6M664.7 380.9l-6.5 -4.2M663.8 386.6l-6.1 -4.8M662.9 392.3l-5.7 -5.3M662.0 398.0l-5.3 -5.7M674.0 359.0l-7.7 -1.2M673.1 364.7l-7.5 -2.0M672.2 370.4l-7.3 -2.7M671.3 376.1l-7.0 -3.4M670.4 381.8l-6.7 -4.0M669.5 387.5l-6.3 -4.5M668.6 393.2l-6.0 -5.0M676.1 382.7l-6.8 -3.8" stroke="#dcd3c8" stroke-width="1.2" stroke-linecap="round" fill="none"/><defs><path id="bp9" d="M567.5 330.5h0M565.7 341.9h0M563.9 353.3h0M562.1 364.7h0M576.8 308.6h0M575.0 320.0h0M573.2 331.4h0M571.4 342.8h0M569.6 354.2h0M567.8 365.6h0M566.0 377.0h0M584.3 298.1h0M582.5 309.5h0M580.7 320.9h0M578.9 332.3h0M577.1 343.7h0M575.3 355.1h0M573.5 366.5h0M571.7 377.9h0M569.9 389.3h0M590.0 299.0h0M588.2 310.4h0M586.4 321.8h0M584.6 333.2h0M582.8 344.6h0M581.0 356.0h0M579.2 367.4h0M577.4 378.8h0M575.6 390.2h0M596.6 294.2h0M594.8 305.6h0M593.0 317.0h0M591.2 328.4h0M589.4 339.8h0M587.6 351.2h0M585.8 362.6h0M584.0 374.0h0M582.2 385.4h0M580.4 396.8h0M602.3 295.1h0M600.5 306.5h0M598.7 317.9h0M596.9 329.3h0M595.1 340.7h0M593.3 352.1h0M591.5 363.5h0M589.7 374.9h0M587.9 386.3h0M586.1 397.7h0M608.9 290.3h0M607.1 301.7h0M605.3 313.1h0M603.5 324.5h0M601.7 335.9h0M599.9 347.3h0M598.1 358.7h0M596.3 370.1h0M594.5 381.5h0M592.7 392.9h0M590.9 404.3h0M613.7 296.9h0M611.9 308.3h0M610.1 319.7h0M608.3 331.1h0M606.5 342.5h0M604.7 353.9h0M602.9 365.3h0M601.1 376.7h0M599.3 388.1h0M597.5 399.5h0M620.3 292.1h0M618.5 303.5h0M616.7 314.9h0M614.9 326.3h0M613.1 337.7h0M611.3 349.1h0M609.5 360.5h0M607.7 371.9h0M605.9 383.3h0M604.1 394.7h0M602.3 406.1h0M625.1 298.7h0M623.3 310.1h0M621.5 321.5h0M619.7 332.9h0M617.9 344.3h0M616.1 355.7h0M614.3 367.1h0M612.5 378.5h0M610.7 389.9h0M608.9 401.3h0M631.7 293.9h0M629.9 305.3h0M628.1 316.7h0M626.3 328.1h0M624.5 339.5h0M622.7 350.9h0M620.9 362.3h0M619.1 373.7h0M617.3 385.1h0M615.5 396.5h0M613.7 407.9h0M636.5 300.5h0M634.7 311.9h0M632.9 323.3h0M631.1 334.7h0M629.3 346.1h0M627.5 357.5h0M625.7 368.9h0M623.9 380.3h0M622.1 391.7h0M620.3 403.1h0M642.2 301.4h0M640.4 312.8h0M638.6 324.2h0M636.8 335.6h0M635.0 347.0h0M633.2 358.4h0M631.4 369.8h0M629.6 381.2h0M627.8 392.6h0M626.0 404.0h0M647.9 302.3h0M646.1 313.7h0M644.3 325.1h0M642.5 336.5h0M640.7 347.9h0M638.9 359.3h0M637.1 370.7h0M635.3 382.1h0M633.5 393.5h0M631.7 404.9h0M652.7 308.9h0M650.9 320.3h0M649.1 331.7h0M647.3 343.1h0M645.5 354.5h0M643.7 365.9h0M641.9 377.3h0M640.1 388.7h0M638.3 400.1h0M657.5 315.5h0M655.7 326.9h0M653.9 338.3h0M652.1 349.7h0M650.3 361.1h0M648.5 372.5h0M646.7 383.9h0M644.9 395.3h0M643.1 406.7h0M661.4 327.8h0M659.6 339.2h0M657.8 350.6h0M656.0 362.0h0M654.2 373.4h0M652.4 384.8h0M650.6 396.2h0M667.1 328.7h0M665.3 340.1h0M663.5 351.5h0M661.7 362.9h0M659.9 374.3h0M658.1 385.7h0M656.3 397.1h0M671.0 341.0h0M669.2 352.4h0M667.4 363.8h0M665.6 375.2h0M663.8 386.6h0M662.0 398.0h0M673.1 364.7h0M671.3 376.1h0M669.5 387.5h0M676.1 382.7h0"/></defs><g fill="none" stroke-linecap="round"><use href="#bp9" stroke="#c2ad99" stroke-width="3.50"/><use href="#bp9" stroke="#eedecd" stroke-width="2.73" transform="translate(-0.12,-0.12)"/><use href="#bp9" stroke="#fcf6f0" stroke-width="1.05" transform="translate(-0.45,-0.45)"/></g><defs><path id="bp10" d="M566.6 336.2h0M564.8 347.6h0M563.0 359.0h0M577.7 302.9h0M575.9 314.3h0M574.1 325.7h0M572.3 337.1h0M570.5 348.5h0M568.7 359.9h0M566.9 371.3h0M565.1 382.7h0M583.4 303.8h0M581.6 315.2h0M579.8 326.6h0M578.0 338.0h0M576.2 349.4h0M574.4 360.8h0M572.6 372.2h0M570.8 383.6h0M590.9 293.3h0M589.1 304.7h0M587.3 316.1h0M585.5 327.5h0M583.7 338.9h0M581.9 350.3h0M580.1 361.7h0M578.3 373.1h0M576.5 384.5h0M574.7 395.9h0M595.7 299.9h0M593.9 311.3h0M592.1 322.7h0M590.3 334.1h0M588.5 345.5h0M586.7 356.9h0M584.9 368.3h0M583.1 379.7h0M581.3 391.1h0M603.2 289.4h0M601.4 300.8h0M599.6 312.2h0M597.8 323.6h0M596.0 335.0h0M594.2 346.4h0M592.4 357.8h0M590.6 369.2h0M588.8 380.6h0M587.0 392.0h0M585.2 403.4h0M608.0 296.0h0M606.2 307.4h0M604.4 318.8h0M602.6 330.2h0M600.8 341.6h0M599.0 353.0h0M597.2 364.4h0M595.4 375.8h0M593.6 387.2h0M591.8 398.6h0M614.6 291.2h0M612.8 302.6h0M611.0 314.0h0M609.2 325.4h0M607.4 336.8h0M605.6 348.2h0M603.8 359.6h0M602.0 371.0h0M600.2 382.4h0M598.4 393.8h0M596.6 405.2h0M619.4 297.8h0M617.6 309.2h0M615.8 320.6h0M614.0 332.0h0M612.2 343.4h0M610.4 354.8h0M608.6 366.2h0M606.8 377.6h0M605.0 389.0h0M603.2 400.4h0M626.0 293.0h0M624.2 304.4h0M622.4 315.8h0M620.6 327.2h0M618.8 338.6h0M617.0 350.0h0M615.2 361.4h0M613.4 372.8h0M611.6 384.2h0M609.8 395.6h0M608.0 407.0h0M630.8 299.6h0M629.0 311.0h0M627.2 322.4h0M625.4 333.8h0M623.6 345.2h0M621.8 356.6h0M620.0 368.0h0M618.2 379.4h0M616.4 390.8h0M614.6 402.2h0M637.4 294.8h0M635.6 306.2h0M633.8 317.6h0M632.0 329.0h0M630.2 340.4h0M628.4 351.8h0M626.6 363.2h0M624.8 374.6h0M623.0 386.0h0M621.2 397.4h0M619.4 408.8h0M641.3 307.1h0M639.5 318.5h0M637.7 329.9h0M635.9 341.3h0M634.1 352.7h0M632.3 364.1h0M630.5 375.5h0M628.7 386.9h0M626.9 398.3h0M625.1 409.7h0M647.0 308.0h0M645.2 319.4h0M643.4 330.8h0M641.6 342.2h0M639.8 353.6h0M638.0 365.0h0M636.2 376.4h0M634.4 387.8h0M632.6 399.2h0M630.8 410.6h0M651.8 314.6h0M650.0 326.0h0M648.2 337.4h0M646.4 348.8h0M644.6 360.2h0M642.8 371.6h0M641.0 383.0h0M639.2 394.4h0M637.4 405.8h0M656.6 321.2h0M654.8 332.6h0M653.0 344.0h0M651.2 355.4h0M649.4 366.8h0M647.6 378.2h0M645.8 389.6h0M644.0 401.0h0M662.3 322.1h0M660.5 333.5h0M658.7 344.9h0M656.9 356.3h0M655.1 367.7h0M653.3 379.1h0M651.5 390.5h0M649.7 401.9h0M666.2 334.4h0M664.4 345.8h0M662.6 357.2h0M660.8 368.6h0M659.0 380.0h0M657.2 391.4h0M655.4 402.8h0M670.1 346.7h0M668.3 358.1h0M666.5 369.5h0M664.7 380.9h0M662.9 392.3h0M674.0 359.0h0M672.2 370.4h0M670.4 381.8h0M668.6 393.2h0"/></defs><g fill="none" stroke-linecap="round"><use href="#bp10" stroke="#c2ad99" stroke-width="3.50"/><use href="#bp10" stroke="#eedecd" stroke-width="2.73" transform="translate(-0.12,-0.12)"/><use href="#bp10" stroke="#fcf6f0" stroke-width="1.05" transform="translate(-0.45,-0.45)"/></g><g opacity="0.95"><path d="M582.1 318.5L581.5 317.5M584.8 318.0L583.0 315.2M587.1 317.0L584.8 313.5M589.0 315.2L587.1 312.5M590.4 312.9L589.8 312.0M642.7 321.1L640.1 322.5M641.5 323.8L643.0 323.0M641.2 326.0L645.0 323.9M643.2 327.0L644.7 326.1M646.2 327.4L643.5 328.8M609.5 304.1L609.1 303.6M612.1 303.5L610.5 301.3M614.4 302.4L612.3 299.5M616.1 300.6L614.5 298.4M617.5 298.3L617.2 297.7M628.7 339.7L628.8 339.9M627.0 338.9L627.3 341.1M625.3 338.7L625.7 341.7M623.8 339.3L624.0 341.4M622.2 340.4L622.3 340.7M643.8 344.2L643.1 343.2M641.4 344.2L642.3 345.5M639.4 344.7L641.0 347.1M638.1 346.4L639.0 347.7M637.3 348.7L636.6 347.6M643.6 342.9L643.5 341.6M641.0 341.2L641.1 343.7M638.5 340.4L638.7 344.7M636.1 341.4L636.2 343.9M633.7 343.5L633.7 342.1M632.9 315.6L632.7 315.2M635.2 316.2L634.1 313.2M637.3 316.0L635.8 312.0M639.0 314.8L637.9 311.8M640.5 312.8L640.3 312.4M622.9 299.8L622.8 299.8M622.8 302.2L624.5 301.5M623.2 304.3L625.7 303.4M624.4 306.2L626.1 305.5M626.1 307.9L626.0 307.9M595.0 347.3L594.0 349.0M595.4 349.9L596.5 348.0M596.3 351.5L598.4 347.9M598.2 351.5L599.3 349.6M600.6 350.5L599.7 352.2M641.4 346.0L642.9 345.7M642.5 344.5L641.3 344.8M642.9 343.1L640.3 343.7M641.9 342.0L640.7 342.3M640.3 341.1L641.8 340.8M627.2 312.3L627.1 313.8M629.0 313.8L629.1 312.5M630.9 314.6L631.0 311.9M632.8 314.0L632.9 312.8M634.7 312.8L634.6 314.2M606.7 344.4L605.8 345.6M607.4 346.5L608.1 345.5M608.5 348.2L610.0 345.9M610.4 348.6L611.1 347.6M612.7 348.5L611.8 349.8M622.5 311.5L623.0 313.5M624.9 312.7L624.6 311.4M627.2 313.1L626.4 310.0M629.0 311.7L628.7 310.4M630.6 309.6L631.1 311.6M614.5 350.9L613.2 350.5M612.5 352.9L613.7 353.2M611.1 355.0L613.7 355.8M611.1 357.6L612.3 358.0M611.6 360.4L610.3 360.0M607.3 324.8L606.5 325.5M607.0 323.4L605.2 325.0M606.4 322.3L604.2 324.2M605.4 321.6L603.6 323.2M604.1 321.1L603.3 321.8M644.4 311.8L644.4 309.6M642.8 310.2L642.8 311.2M641.2 309.2L641.2 312.2M639.6 310.2L639.6 311.3M638.0 311.9L638.0 309.6M624.5 341.5L623.3 341.8M624.5 339.1L622.0 339.9M624.1 336.9L621.1 337.8M623.2 334.8L620.7 335.5M621.9 332.8L620.7 333.2M614.7 306.8L614.6 307.1M616.8 308.5L617.2 306.0M619.1 309.4L619.6 305.7M621.6 309.1L621.9 306.6M624.1 308.0L624.1 308.3M595.3 346.4L596.0 343.1M594.4 343.7L594.1 345.2M593.4 342.0L592.5 346.4M591.7 343.2L591.4 344.7M589.8 345.3L590.5 342.0M626.7 317.4L625.5 318.3M626.6 315.8L624.0 317.7M626.0 314.5L623.0 316.7M625.0 313.6L622.5 315.4M623.6 312.9L622.3 313.8M607.4 344.5L609.8 344.9M609.7 342.6L608.2 342.3M611.2 340.6L607.6 339.9M610.6 338.1L609.1 337.8M609.1 335.5L611.5 336.0M632.7 355.9L632.8 356.0M634.4 356.1L633.1 354.4M635.6 355.7L633.8 353.3M636.3 354.6L635.1 352.9M636.6 353.0L636.7 353.1M599.9 309.1L601.1 310.2M601.8 309.3L600.9 308.4M603.2 309.0L601.2 307.0M603.5 307.6L602.5 306.6M603.3 305.7L604.4 306.8M595.7 314.4L595.5 313.4M598.0 314.8L597.4 312.1M600.2 314.7L599.5 311.4M602.3 313.9L601.7 311.2M604.3 312.7L604.0 311.6M639.8 323.3L638.5 323.5M640.0 321.6L637.7 322.1M639.9 320.1L637.2 320.6M639.4 318.6L637.1 319.0M638.6 317.1L637.3 317.4M602.7 353.3L602.1 352.6M605.0 352.9L603.1 350.4M606.9 351.9L604.4 348.8M608.3 350.2L606.3 347.8M609.2 348.1L608.6 347.4M606.7 351.5L607.0 354.6M608.7 353.6L608.5 352.2M610.5 354.8L610.2 350.7M612.2 353.3L612.0 351.9M613.7 350.9L614.0 354.0M637.6 319.7L638.0 321.1M635.8 319.5L636.4 322.1M634.0 319.7L634.7 322.7M632.3 320.3L632.9 322.8M630.7 321.2L631.0 322.7M641.4 342.2L642.3 342.7M643.3 341.8L641.9 340.8M644.6 341.0L642.1 339.3M644.8 339.5L643.3 338.5M644.4 337.6L645.2 338.1M657.2 322.1L654.3 323.0M655.5 324.7L657.2 324.1M654.8 326.9L659.0 325.6M656.7 328.4L658.4 327.8M659.6 329.5L656.7 330.4" stroke="#8c8c8c" stroke-width="0.50" fill="none" opacity="0.7"/><defs><path id="ld20" d="M579.3 318.7L582.1 318.5L584.8 318.0L587.1 317.0L589.0 315.2L590.4 312.9L591.8 310.4M580.2 320.0L581.5 317.5L583.0 315.2L584.8 313.5L587.1 312.5L589.8 312.0L592.6 311.7M642.3 319.2L642.7 321.1L641.5 323.8L641.2 326.0L643.2 327.0L646.2 327.4L647.5 328.7M638.8 321.2L640.1 322.5L643.0 323.0L645.0 323.9L644.7 326.1L643.5 328.8L643.9 330.7M606.8 304.6L609.5 304.1L612.1 303.5L614.4 302.4L616.1 300.6L617.5 298.3L618.9 295.9M607.8 306.0L609.1 303.6L610.5 301.3L612.3 299.5L614.5 298.4L617.2 297.7L619.9 297.3M630.5 340.5L628.7 339.7L627.0 338.9L625.3 338.7L623.8 339.3L622.2 340.4L620.7 341.6M630.3 338.7L628.8 339.9L627.3 341.1L625.7 341.7L624.0 341.4L622.3 340.7L620.5 339.8M645.9 343.8L643.8 344.2L641.4 344.2L639.4 344.7L638.1 346.4L637.3 348.7L636.2 350.4M644.2 341.4L643.1 343.2L642.3 345.5L641.0 347.1L639.0 347.7L636.6 347.6L634.5 348.0M646.1 344.2L643.6 342.9L641.0 341.2L638.5 340.4L636.1 341.4L633.7 343.5L631.4 344.9M645.9 340.1L643.5 341.6L641.1 343.7L638.7 344.7L636.2 343.9L633.7 342.1L631.1 340.9M630.4 315.0L632.9 315.6L635.2 316.2L637.3 316.0L639.0 314.8L640.5 312.8L641.9 310.7M631.3 317.3L632.7 315.2L634.1 313.2L635.8 312.0L637.9 311.8L640.3 312.4L642.7 313.1M622.9 297.4L622.9 299.8L622.8 302.2L623.2 304.3L624.4 306.2L626.1 307.9L627.8 309.6M621.1 298.1L622.8 299.8L624.5 301.5L625.7 303.4L626.1 305.5L626.0 307.9L625.9 310.3M594.2 345.5L595.0 347.3L595.4 349.9L596.3 351.5L598.2 351.5L600.6 350.5L602.6 350.3M592.1 349.1L594.0 349.0L596.5 348.0L598.4 347.9L599.3 349.6L599.7 352.2L600.5 353.9M641.2 347.4L641.4 346.0L642.5 344.5L642.9 343.1L641.9 342.0L640.3 341.1L639.5 340.0M643.7 346.8L642.9 345.7L641.3 344.8L640.3 343.7L640.7 342.3L641.8 340.8L642.0 339.4M625.4 311.6L627.2 312.3L629.0 313.8L630.9 314.6L632.8 314.0L634.7 312.8L636.6 312.3M625.2 314.3L627.1 313.8L629.1 312.5L631.0 311.9L632.9 312.8L634.6 314.2L636.5 314.9M605.5 342.9L606.7 344.4L607.4 346.5L608.5 348.2L610.4 348.6L612.7 348.5L614.5 349.1M604.0 345.1L605.8 345.6L608.1 345.5L610.0 345.9L611.1 347.6L611.8 349.8L613.0 351.3M620.4 311.5L622.5 311.5L624.9 312.7L627.2 313.1L629.0 311.7L630.6 309.6L632.5 308.6M621.1 314.5L623.0 313.5L624.6 311.4L626.4 310.0L628.7 310.4L631.1 311.6L633.2 311.6M615.8 348.7L614.5 350.9L612.5 352.9L611.1 355.0L611.1 357.6L611.6 360.4L611.5 362.9M613.3 347.9L613.2 350.5L613.7 353.2L613.7 355.8L612.3 358.0L610.3 360.0L609.0 362.2M607.5 326.3L607.3 324.8L607.0 323.4L606.4 322.3L605.4 321.6L604.1 321.1L602.6 320.7M608.0 325.8L606.5 325.5L605.2 325.0L604.2 324.2L603.6 323.2L603.3 321.8L603.1 320.3M646.0 312.0L644.4 311.8L642.8 310.2L641.2 309.2L639.6 310.2L638.0 311.9L636.4 312.1M646.0 309.4L644.4 309.6L642.8 311.2L641.2 312.2L639.6 311.3L638.0 309.6L636.3 309.5M624.3 343.9L624.5 341.5L624.5 339.1L624.1 336.9L623.2 334.8L621.9 332.8L620.4 330.9M624.8 343.8L623.3 341.8L622.0 339.9L621.1 337.8L620.7 335.5L620.7 333.2L620.9 330.7M612.4 305.2L614.7 306.8L616.8 308.5L619.1 309.4L621.6 309.1L624.1 308.0L626.7 307.0M612.1 308.1L614.6 307.1L617.2 306.0L619.6 305.7L621.9 306.6L624.1 308.3L626.3 309.9M596.6 347.0L595.3 346.4L594.4 343.7L593.4 342.0L591.7 343.2L589.8 345.3L588.4 345.2M597.4 343.2L596.0 343.1L594.1 345.2L592.5 346.4L591.4 344.7L590.5 342.0L589.2 341.4M626.7 319.1L626.7 317.4L626.6 315.8L626.0 314.5L625.0 313.6L623.6 312.9L621.9 312.4M627.1 318.8L625.5 318.3L624.0 317.7L623.0 316.7L622.5 315.4L622.3 313.8L622.4 312.1M606.4 346.6L607.4 344.5L609.7 342.6L611.2 340.6L610.6 338.1L609.1 335.5L608.9 333.2M609.9 347.3L609.8 344.9L608.2 342.3L607.6 339.9L609.1 337.8L611.5 336.0L612.5 333.8M631.1 355.8L632.7 355.9L634.4 356.1L635.6 355.7L636.3 354.6L636.6 353.0L636.9 351.4M632.5 357.6L632.8 356.0L633.1 354.4L633.8 353.3L635.1 352.9L636.7 353.1L638.3 353.2M598.6 309.5L599.9 309.1L601.8 309.3L603.2 309.0L603.5 307.6L603.3 305.7L603.7 304.4M600.7 311.5L601.1 310.2L600.9 308.4L601.2 307.0L602.5 306.6L604.4 306.8L605.7 306.4M593.3 313.9L595.7 314.4L598.0 314.8L600.2 314.7L602.3 313.9L604.3 312.7L606.2 311.2M593.6 314.8L595.5 313.4L597.4 312.1L599.5 311.4L601.7 311.2L604.0 311.6L606.4 312.2M639.4 324.9L639.8 323.3L640.0 321.6L639.9 320.1L639.4 318.6L638.6 317.1L637.6 315.7M639.5 324.9L638.5 323.5L637.7 322.1L637.2 320.6L637.1 319.0L637.3 317.4L637.7 315.7M600.3 353.6L602.7 353.3L605.0 352.9L606.9 351.9L608.3 350.2L609.2 348.1L610.0 345.8M601.3 354.9L602.1 352.6L603.1 350.4L604.4 348.8L606.3 347.8L608.6 347.4L611.0 347.0M604.9 351.4L606.7 351.5L608.7 353.6L610.5 354.8L612.2 353.3L613.7 350.9L615.4 350.5M605.2 355.0L607.0 354.6L608.5 352.2L610.2 350.7L612.0 351.9L614.0 354.0L615.7 354.1M639.6 320.1L637.6 319.7L635.8 319.5L634.0 319.7L632.3 320.3L630.7 321.2L629.1 322.4M639.5 320.0L638.0 321.1L636.4 322.1L634.7 322.7L632.9 322.8L631.0 322.7L629.1 322.3M639.9 342.8L641.4 342.2L643.3 341.8L644.6 341.0L644.8 339.5L644.4 337.6L644.3 335.9M642.3 344.4L642.3 342.7L641.9 340.8L642.1 339.3L643.3 338.5L645.2 338.1L646.8 337.5M657.1 320.0L657.2 322.1L655.5 324.7L654.8 326.9L656.7 328.4L659.6 329.5L660.7 331.2M653.2 321.3L654.3 323.0L657.2 324.1L659.0 325.6L658.4 327.8L656.7 330.4L656.7 332.5"/></defs><g fill="none" stroke-linejoin="round" stroke-linecap="round"><use href="#ld20" stroke="#4c4c4c" stroke-width="1.1"/><use href="#ld20" stroke="#dedede" stroke-width="0.44"/></g><defs><path id="ar21" d="M655.5 322.1l5.3-5.6M651.5 320.8l0.5 8.2M653.6 320.5A3.8 3.8 0 0 1 658.1 315.5M598.6 312.7l-0.4 6.1M588.4 346.5l-6.4 2.4M595.0 319.2A4.4 4.4 0 0 1 590.2 326.2M626.2 339.8l-7.1 1.3M647.0 348.2l3.2-5.6M640.4 347.3A5.7 5.7 0 0 1 634.5 356.7M611.9 329.9l0.5-8.3M595.8 342.8A2.6 2.6 0 0 1 593.9 346.8M643.2 315.3A3.2 3.2 0 0 1 648.2 315.3M650.9 340.3A3.4 3.4 0 0 1 644.4 338.9M654.7 334.4A5.0 5.0 0 0 1 662.6 334.5M609.9 327.3l-5.4 2.7M582.6 321.0l-5.2-5.9M629.2 341.2A3.4 3.4 0 0 1 632.7 335.6M656.0 332.5A4.6 4.6 0 0 1 655.1 338.7M617.3 339.3l-1.0-4.5M635.6 343.7A6.0 6.0 0 0 1 645.5 349.2M645.1 359.3A5.7 5.7 0 0 1 634.1 357.2M653.9 341.5A5.0 5.0 0 0 1 650.0 333.2M638.3 330.6l4.2 0.1M650.0 309.0l0.1 6.1M633.6 349.0A5.9 5.9 0 0 1 631.5 358.3M599.2 336.1l1.7-3.8M612.2 306.1A4.7 4.7 0 0 1 618.9 306.5M599.9 351.5A5.1 5.1 0 0 1 592.3 356.0M595.0 335.2l-5.7-0.5M629.0 352.2A4.0 4.0 0 0 1 627.3 359.8M648.3 334.0A4.2 4.2 0 0 1 642.5 334.8M636.6 323.7A3.9 3.9 0 0 1 632.4 322.7M584.1 339.4l-8.3 2.3M638.0 350.9A5.8 5.8 0 0 1 629.3 353.3M662.7 326.8A3.1 3.1 0 0 1 656.6 325.6M617.7 327.9A3.3 3.3 0 0 1 614.5 331.8M603.9 307.7A4.1 4.1 0 0 1 604.6 312.0M628.0 342.9A4.6 4.6 0 0 1 632.5 342.2M611.1 357.5A3.3 3.3 0 0 1 608.2 360.7M602.6 324.7A4.4 4.4 0 0 1 604.3 320.5M620.0 341.7l-4.2 4.4M656.4 316.7l8.1 2.0M601.9 299.7A5.5 5.5 0 0 1 608.3 297.8M614.1 312.6l5.6-1.2M604.6 304.4A4.5 4.5 0 0 1 598.7 311.3M653.6 317.2A2.9 2.9 0 0 1 655.6 314.8M607.4 317.2A2.8 2.8 0 0 1 602.6 315.8M632.0 340.3A4.8 4.8 0 0 1 641.1 340.3M639.2 309.1A3.4 3.4 0 0 1 644.4 305.0M635.5 324.4l2.4-6.5M613.9 347.3A5.9 5.9 0 0 1 621.5 356.2M623.5 342.3A2.8 2.8 0 0 1 627.5 339.4M643.6 354.6A4.1 4.1 0 0 1 641.3 360.7M650.1 322.8l-0.7 4.2M621.1 309.1A5.9 5.9 0 0 1 615.4 311.5M586.2 339.9l1.4 4.2M652.6 332.5l1.8 6.7M632.9 316.0l-8.2 1.9M620.8 350.7A4.5 4.5 0 0 1 628.2 347.1M621.3 342.9l-3.6 7.4M616.8 353.3A4.5 4.5 0 0 1 608.7 350.6M639.9 315.7A4.2 4.2 0 0 1 636.3 318.4M602.0 335.6A2.8 2.8 0 0 1 597.1 337.2M620.0 323.0A5.7 5.7 0 0 1 610.4 328.2M629.3 358.0l-5.4-0.5M614.2 312.7l0.3 3.6M631.1 323.0A4.7 4.7 0 0 1 627.4 329.1M649.9 323.6A5.3 5.3 0 0 1 652.4 315.4M633.5 305.1A2.8 2.8 0 0 1 630.6 300.9M599.0 307.4A4.0 4.0 0 0 1 602.7 300.7M637.6 328.0A4.5 4.5 0 0 1 642.7 335.4M617.9 346.6l-2.6-2.1M597.1 321.4l-3.9 2.0M647.5 314.1A5.3 5.3 0 0 1 651.9 310.8M598.3 335.3l0.1 6.7"/></defs><g fill="none" stroke-linecap="round"><use href="#ar21" stroke="#4c4c4c" stroke-width="1.05"/><use href="#ar21" stroke="#dedede" stroke-width="0.42"/></g><path d="M599.6 357.8L599.5 358.1M598.0 356.3L597.3 358.1M596.3 355.3L595.3 357.7M594.3 354.8L593.6 356.6M592.1 354.8L592.0 355.1M585.4 369.4L585.0 370.7M586.5 371.3L587.0 369.9M587.9 372.5L588.8 369.7M589.6 372.3L590.1 370.9M591.6 371.5L591.2 372.8M610.4 361.8L608.7 362.2M609.4 364.5L610.7 364.2M609.0 367.0L612.0 366.4M610.3 369.2L611.7 368.9M612.4 371.2L610.6 371.6M583.7 361.7L583.7 360.5M581.4 359.8L581.3 362.3M579.1 358.9L578.9 363.0M576.7 359.6L576.6 362.1M574.3 361.3L574.3 360.2M581.7 356.9L581.5 356.7M578.9 357.6L580.8 359.5M576.7 359.0L579.4 361.7M575.4 361.1L577.2 363.0M574.6 363.9L574.4 363.7" stroke="#999" stroke-width="0.45" fill="none" opacity="0.7"/><defs><path id="ld22" d="M601.1 359.3L599.6 357.8L598.0 356.3L596.3 355.3L594.3 354.8L592.1 354.8L589.9 354.9M601.7 358.0L599.5 358.1L597.3 358.1L595.3 357.7L593.6 356.6L592.0 355.1L590.4 353.6M584.1 368.2L585.4 369.4L586.5 371.3L587.9 372.5L589.6 372.3L591.6 371.5L593.4 371.3M583.2 370.9L585.0 370.7L587.0 369.9L588.8 369.7L590.1 370.9L591.2 372.8L592.5 374.0M610.5 359.4L610.4 361.8L609.4 364.5L609.0 367.0L610.3 369.2L612.4 371.2L613.5 373.4M607.6 360.0L608.7 362.2L610.7 364.2L612.0 366.4L611.7 368.9L610.6 371.6L610.5 374.0M586.0 363.1L583.7 361.7L581.4 359.8L579.1 358.9L576.7 359.6L574.3 361.3L571.8 362.6M586.2 359.3L583.7 360.5L581.3 362.3L578.9 363.0L576.6 362.1L574.3 360.2L572.0 358.7M584.4 356.1L581.7 356.9L578.9 357.6L576.7 359.0L575.4 361.1L574.6 363.9L573.8 366.7M582.3 354.0L581.5 356.7L580.8 359.5L579.4 361.7L577.2 363.0L574.4 363.7L571.7 364.5"/></defs><g fill="none" stroke-linejoin="round" stroke-linecap="round"><use href="#ld22" stroke="#5c5c5c" stroke-width="1.0"/><use href="#ld22" stroke="#e0e0e0" stroke-width="0.40"/></g><defs><path id="ar23" d="M590.1 369.5l2.9-6.4M590.6 369.4A3.0 3.0 0 0 1 590.6 366.2M574.6 360.3A3.2 3.2 0 0 1 581.0 359.7M599.2 365.5A4.6 4.6 0 0 1 603.4 359.9M591.4 366.7A3.1 3.1 0 0 1 593.3 369.3M616.8 362.7A3.9 3.9 0 0 1 618.9 365.9M574.7 362.6l-5.1 3.6M602.1 346.7A4.4 4.4 0 0 1 607.6 352.9M617.8 361.4l-3.6 3.7M613.4 362.7l-1.3-5.8M574.4 361.4l-3.5-0.6M611.0 357.5A4.8 4.8 0 0 1 608.5 351.7M588.1 359.6A3.8 3.8 0 0 1 581.6 358.3M609.4 368.0A3.6 3.6 0 0 1 604.0 370.8"/></defs><g fill="none" stroke-linecap="round"><use href="#ar23" stroke="#5c5c5c" stroke-width="1.0"/><use href="#ar23" stroke="#e0e0e0" stroke-width="0.40"/></g><polyline points="608.27,345.08 607.74,345.70 607.22,346.29 606.73,346.85 606.26,347.38 605.83,347.89 605.45,348.36 605.11,348.80 604.83,349.21 604.60,349.59 604.44,349.94 604.35,350.26 604.32,350.54 604.37,350.80 604.49,351.04 604.68,351.25 604.94,351.43 605.27,351.60 605.67,351.75 606.14,351.89 606.67,352.02 607.26,352.14 607.90,352.26 608.59,352.37 609.33,352.49 610.09,352.61 610.89,352.74 611.71,352.88 612.55,353.04 613.39,353.22 614.23,353.42 615.06,353.63 615.88,353.88 616.67,354.15 617.44,354.45 618.17,354.78 618.85,355.14 619.49,355.53 620.07,355.95 620.60,356.41 621.06,356.90 621.45,357.41 621.78,357.96 622.03,358.53 622.21,359.13 622.32,359.75 622.36,360.40 622.33,361.06 622.23,361.75 622.06,362.44 621.83,363.15 621.54,363.86 621.20,364.58 620.81,365.30 620.37,366.01 619.91,366.72 619.41,367.43 618.89,368.12 618.35,368.79 617.81,369.45 617.27,370.08 616.74,370.70 616.22,371.29 615.73,371.85 615.26,372.38 614.83,372.89 614.45,373.36 614.11,373.80 613.83,374.21 613.60,374.59 613.44,374.94 613.35,375.26 613.32,375.54 613.37,375.80 613.49,376.04 613.68,376.25 613.94,376.43 614.27,376.60 614.67,376.75 615.14,376.89 615.67,377.02 616.26,377.14 616.90,377.26 617.59,377.37 618.33,377.49 619.09,377.61 619.89,377.74 620.71,377.88 621.55,378.04 622.39,378.22 623.23,378.42 624.06,378.63 624.88,378.88 625.67,379.15 626.44,379.45 627.17,379.78 627.85,380.14 628.49,380.53 629.07,380.95 629.60,381.41 630.06,381.90 630.45,382.41 630.78,382.96 631.03,383.53 631.21,384.13 631.32,384.75 631.36,385.40 631.33,386.06 631.23,386.75 631.06,387.44 630.83,388.15 630.54,388.86 630.20,389.58 629.81,390.30 629.37,391.01 628.91,391.72 628.41,392.43 627.89,393.12 627.35,393.79 626.81,394.45 626.27,395.08" fill="none" stroke="#c8352a" stroke-width="0.95" stroke-linejoin="round"/><polyline points="605.10,342.81 605.83,342.93 606.59,343.05 607.39,343.18 608.21,343.32 609.04,343.48 609.88,343.65 610.72,343.85 611.56,344.07 612.37,344.31 613.17,344.58 613.94,344.88 614.67,345.20 615.36,345.56 616.00,345.95 616.59,346.37 617.12,346.82 617.58,347.30 617.98,347.82 618.31,348.36 618.57,348.93 618.76,349.53 618.88,350.15 618.92,350.80 618.90,351.46 618.80,352.14 618.64,352.83 618.41,353.54 618.13,354.25 617.79,354.97 617.40,355.69 616.97,356.41 616.51,357.12 616.01,357.82 615.49,358.51 614.96,359.19 614.42,359.85 613.88,360.48 613.34,361.10 612.83,361.69 612.33,362.26 611.86,362.79 611.43,363.30 611.04,363.77 610.70,364.22 610.41,364.63 610.18,365.01 610.02,365.36 609.92,365.68 609.89,365.97 609.93,366.23 610.04,366.47 610.22,366.68 610.48,366.87 610.80,367.04 611.20,367.19 611.66,367.33 612.19,367.46 612.77,367.58 613.41,367.70 614.10,367.81 614.83,367.93 615.59,368.05 616.39,368.18 617.21,368.32 618.04,368.48 618.88,368.65 619.72,368.85 620.56,369.07 621.37,369.31 622.17,369.58 622.94,369.88 623.67,370.20 624.36,370.56 625.00,370.95 625.59,371.37 626.12,371.82 626.58,372.30 626.98,372.82 627.31,373.36 627.57,373.93 627.76,374.53 627.88,375.15 627.92,375.80 627.90,376.46 627.80,377.14 627.64,377.83 627.41,378.54 627.13,379.25 626.79,379.97 626.40,380.69 625.97,381.41 625.51,382.12 625.01,382.82 624.49,383.51 623.96,384.19 623.42,384.85 622.88,385.48 622.34,386.10 621.83,386.69 621.33,387.26 620.86,387.79 620.43,388.30 620.04,388.77 619.70,389.22 619.41,389.63 619.18,390.01 619.02,390.36 618.92,390.68 618.89,390.97 618.93,391.23 619.04,391.47 619.22,391.68 619.48,391.87 619.80,392.04 620.20,392.19 620.66,392.33 621.19,392.46 621.77,392.58 622.41,392.70 623.10,392.81" fill="none" stroke="#c8352a" stroke-width="0.95" stroke-linejoin="round"/><path d="M608.27 345.08L605.10 342.81M604.83 349.21L611.56 344.07M604.94 351.43L617.12 346.82M609.33 352.49L618.90 351.46M615.88 353.88L616.51 357.12M621.06 356.90L612.33 362.26M622.23 361.75L609.92 365.68M619.41 367.43L611.66 367.33M615.26 372.38L617.21 368.32M613.32 375.54L623.67 370.20M615.67 377.02L627.57 373.93M621.55 378.04L627.13 379.25M627.85 380.14L623.42 384.85M631.21 384.13L619.70 389.22M630.20 389.58L619.22 391.68M626.27 395.08L623.10 392.81" stroke="#e59a90" stroke-width="0.475" fill="none" opacity="0.9"/><defs><path id="ar24" d="M615.3 348.1A3.2 3.2 0 0 1 615.0 354.1M612.5 357.3A4.9 4.9 0 0 1 606.2 363.4M610.8 347.3A3.3 3.3 0 0 1 611.7 342.2M618.5 357.1A3.1 3.1 0 0 1 619.4 351.1M606.9 351.0A4.1 4.1 0 0 1 611.2 346.2"/></defs><g fill="none" stroke-linecap="round"><use href="#ar24" stroke="#c8352a" stroke-width="0.95"/></g><path d="M574 396c4-8 8-14 14-18s10-8 14-10 6-4 9-3" fill="none" stroke="#3d6ea8" stroke-width="1.1"/><path d="M591.4 374.9L590.9 375.2M590.8 377.2L593.2 375.8M591.0 379.0L594.7 376.9M592.5 380.1L594.9 378.7M594.8 380.8L594.3 381.0M585.2 385.1L585.3 384.9M585.1 387.8L588.0 384.3M585.9 389.6L589.9 384.7M587.7 389.9L590.6 386.4M590.4 389.3L590.5 389.2M593.1 384.3L592.7 385.8M594.0 387.4L595.0 383.6M595.3 389.0L596.9 382.9M597.2 388.2L598.2 384.5M599.5 386.0L599.1 387.5M590.5 385.8L590.1 385.5M592.5 385.1L590.0 383.4M593.9 384.0L590.5 381.7M594.4 382.3L591.9 380.6M594.3 380.2L593.9 379.9" stroke="#8fb0d8" stroke-width="0.45" fill="none" opacity="0.7"/><defs><path id="ld25" d="M591.8 372.7L591.4 374.9L590.8 377.2L591.0 379.0L592.5 380.1L594.8 380.8L596.9 381.5M588.8 374.5L590.9 375.2L593.2 375.8L594.7 376.9L594.9 378.7L594.3 381.0L593.9 383.3M585.4 382.3L585.2 385.1L585.1 387.8L585.9 389.6L587.7 389.9L590.4 389.3L593.1 388.6M582.6 385.6L585.3 384.9L588.0 384.3L589.9 384.7L590.6 386.4L590.5 389.2L590.4 391.9M592.0 381.9L593.1 384.3L594.0 387.4L595.3 389.0L597.2 388.2L599.5 386.0L601.6 384.4M590.5 387.4L592.7 385.8L595.0 383.6L596.9 382.9L598.2 384.5L599.1 387.5L600.1 390.0M588.4 386.4L590.5 385.8L592.5 385.1L593.9 384.0L594.4 382.3L594.3 380.2L594.2 378.0M590.3 387.7L590.1 385.5L590.0 383.4L590.5 381.7L591.9 380.6L593.9 379.9L596.0 379.3"/></defs><g fill="none" stroke-linejoin="round" stroke-linecap="round"><use href="#ld25" stroke="#3d6ea8" stroke-width="1.0"/></g><defs><path id="ar26" d="M596.7 391.5A3.5 3.5 0 0 1 592.6 395.1M580.7 381.4l5.6 4.7M598.2 377.9A4.7 4.7 0 0 1 595.4 373.3M604.8 369.0A4.0 4.0 0 0 1 601.7 375.3M587.4 392.4l-0.6-4.4M599.5 390.7A4.2 4.2 0 0 1 595.1 384.5M603.9 375.1l3.4 7.9M585.6 381.0A4.0 4.0 0 0 1 589.9 385.9"/></defs><g fill="none" stroke-linecap="round"><use href="#ar26" stroke="#3d6ea8" stroke-width="0.95"/></g><defs><path id="ar27" d="M601.7 362.2l-3.8-2.5M591.0 379.4l5.4 4.1M601.5 354.7l-3.6-3.0M600.2 380.5l1.4 8.4M596.3 355.0A5.1 5.1 0 0 1 601.2 353.1M581.5 365.2l5.9 3.5M600.4 353.0A3.8 3.8 0 0 1 597.9 359.3M604.7 369.1A3.4 3.4 0 0 1 603.7 362.6M585.7 367.3A3.7 3.7 0 0 1 589.6 361.2M586.6 363.3A3.5 3.5 0 0 1 588.7 356.8M612.9 378.4l1.5 7.4M613.1 359.7l0.2 3.8"/></defs><g fill="none" stroke-linecap="round"><use href="#ar27" stroke="#b565b5" stroke-width="0.8"/></g><defs><path id="ar28" d="M638.1 390.6A2.7 2.7 0 0 1 635.1 389.8M634.2 385.3A3.8 3.8 0 0 1 627.9 382.1M646.6 382.5A3.6 3.6 0 0 1 646.0 389.3M639.0 399.4A4.9 4.9 0 0 1 634.7 394.4M632.7 390.4A5.6 5.6 0 0 1 630.6 401.1M637.7 392.8l-1.8-2.7M625.5 391.8A2.6 2.6 0 0 1 629.6 390.8M641.2 393.9A3.2 3.2 0 0 1 646.8 392.9M634.9 382.2l-3.9-7.8M635.8 386.6A4.9 4.9 0 0 1 640.5 386.2M627.1 393.1A5.1 5.1 0 0 1 628.6 383.0M647.4 394.4A2.7 2.7 0 0 1 642.7 396.1"/></defs><g fill="none" stroke-linecap="round"><use href="#ar28" stroke="#d2b88e" stroke-width="0.8"/></g></g>
<text transform="translate(2.0,27) scale(0.85,1)" font-size="27.5" fill="#231f20">a</text>
<text x="365.50" y="20.90" font-size="27.5" fill="#231f20" text-anchor="start" >b</text>
<text x="1.70" y="260.70" font-size="27.5" fill="#231f20" text-anchor="start" >c</text>
<text x="363.50" y="261.10" font-size="27.5" fill="#231f20" text-anchor="start" >d</text>
<text class="t" x="73.40" y="44.30" font-size="13.2" fill="#231f20" textLength="50.60" lengthAdjust="spacingAndGlyphs">χ<tspan font-size="9" dy="-3.9">2</tspan><tspan dy="3.9"> = 1.79</tspan></text>
<text class="t" x="431.10" y="36.40" font-size="13.2" fill="#231f20" textLength="49.90" lengthAdjust="spacingAndGlyphs">χ<tspan font-size="9" dy="-3.9">2</tspan><tspan dy="3.9"> = 1.14</tspan></text>
<text class="t" x="62.80" y="277.80" font-size="13.2" fill="#231f20" textLength="49.70" lengthAdjust="spacingAndGlyphs">χ<tspan font-size="9" dy="-3.9">2</tspan><tspan dy="3.9"> = 2.53</tspan></text>
<text class="t" x="427.00" y="275.10" font-size="13.2" fill="#231f20" textLength="50.00" lengthAdjust="spacingAndGlyphs">χ<tspan font-size="9" dy="-3.9">2</tspan><tspan dy="3.9"> = 2.32</tspan></text>
<text class="t" transform="translate(18.20,120.20) rotate(-90)" x="0" y="0" font-size="13" fill="#231f20" text-anchor="middle" textLength="31.0" lengthAdjust="spacingAndGlyphs">Log(I)</text>
<text class="t" transform="translate(378.20,119.50) rotate(-90)" x="0" y="0" font-size="13" fill="#231f20" text-anchor="middle" textLength="33.0" lengthAdjust="spacingAndGlyphs">Log(I)</text>
<text class="t" transform="translate(10.60,355.00) rotate(-90)" x="0" y="0" font-size="13" fill="#231f20" text-anchor="middle" textLength="32.0" lengthAdjust="spacingAndGlyphs">Log(I)</text>
<text class="t" transform="translate(377.80,362.70) rotate(-90)" x="0" y="0" font-size="13" fill="#231f20" text-anchor="middle" textLength="33.5" lengthAdjust="spacingAndGlyphs">Log(I)</text>
<text class="t" x="76.00" y="211.70" font-size="13.5" fill="#231f20" textLength="30.30" lengthAdjust="spacingAndGlyphs">s (Å<tspan font-size="8.5" dy="-4.5">-1</tspan><tspan dy="4.5">)</tspan></text>
<text class="t" x="438.80" y="203.50" font-size="13.5" fill="#231f20" textLength="31.00" lengthAdjust="spacingAndGlyphs">s (Å<tspan font-size="8.5" dy="-4.5">-1</tspan><tspan dy="4.5">)</tspan></text>
<text class="t" x="74.10" y="443.50" font-size="13.5" fill="#231f20" textLength="30.90" lengthAdjust="spacingAndGlyphs">s (Å<tspan font-size="8.5" dy="-4.5">-1</tspan><tspan dy="4.5">)</tspan></text>
<text class="t" x="432.60" y="444.80" font-size="13.5" fill="#231f20" textLength="30.60" lengthAdjust="spacingAndGlyphs">s (Å<tspan font-size="8.5" dy="-4.5">-1</tspan><tspan dy="4.5">)</tspan></text>
<text class="t" x="242.90" y="42.50" font-size="13.2" fill="#231f20" textLength="67.30" lengthAdjust="spacingAndGlyphs">D1-3 (Mg<tspan font-size="8.5" dy="-4.5">2+</tspan><tspan dy="4.5">)</tspan></text>
<text class="t" x="592.00" y="35.80" font-size="13.2" fill="#231f20" textLength="86.10" lengthAdjust="spacingAndGlyphs">D1-3 (Mg<tspan font-size="8.5" dy="-4.5">2+</tspan><tspan dy="4.5">, K<tspan font-size="8.5" dy="-4.5">+</tspan><tspan dy="4.5">)</tspan></tspan></text>
<text class="t" x="209.90" y="274.40" font-size="13.2" fill="#231f20" textLength="66.70" lengthAdjust="spacingAndGlyphs">D1-5 (Mg<tspan font-size="8.5" dy="-4.5">2+</tspan><tspan dy="4.5">)</tspan></text>
<text class="t" x="569.20" y="276.80" font-size="13.2" fill="#231f20" textLength="85.90" lengthAdjust="spacingAndGlyphs">D1-5 (Mg<tspan font-size="8.5" dy="-4.5">2+</tspan><tspan dy="4.5">, K<tspan font-size="8.5" dy="-4.5">+</tspan><tspan dy="4.5">)</tspan></tspan></text>
<text class="t" x="222.70" y="182.60" font-size="13.2" fill="#231f20" textLength="112.30" lengthAdjust="spacingAndGlyphs">R<tspan font-size="7.8" dy="4.6">g</tspan><tspan dy="-4.6"> = 4.24 ± 0.14 nm</tspan></text>
<text class="t" x="222.70" y="199.70" font-size="13.2" fill="#231f20" textLength="92.50" lengthAdjust="spacingAndGlyphs">D<tspan font-size="7.6" dy="5.2">max</tspan><tspan dy="-5.2"> = 14.50 nm</tspan></text>
<text class="t" x="571.90" y="178.40" font-size="13.2" fill="#231f20" textLength="112.10" lengthAdjust="spacingAndGlyphs">R<tspan font-size="7.8" dy="4.6">g</tspan><tspan dy="-4.6"> = 3.59 ± 0.04 nm</tspan></text>
<text class="t" x="571.90" y="195.10" font-size="13.2" fill="#231f20" textLength="92.10" lengthAdjust="spacingAndGlyphs">D<tspan font-size="7.6" dy="5.2">max</tspan><tspan dy="-5.2"> = 12.04 nm</tspan></text>
<text class="t" x="190.40" y="430.40" font-size="13.2" fill="#231f20" textLength="112.90" lengthAdjust="spacingAndGlyphs">R<tspan font-size="7.8" dy="4.6">g</tspan><tspan dy="-4.6"> = 3.87 ± 0.01 nm</tspan></text>
<text class="t" x="190.40" y="446.50" font-size="13.2" fill="#231f20" textLength="93.00" lengthAdjust="spacingAndGlyphs">D<tspan font-size="7.6" dy="5.2">max</tspan><tspan dy="-5.2"> = 13.02 nm</tspan></text>
<text class="t" x="557.30" y="427.50" font-size="13.2" fill="#231f20" textLength="110.00" lengthAdjust="spacingAndGlyphs">R<tspan font-size="7.8" dy="4.6">g</tspan><tspan dy="-4.6"> = 3.81± 0.05 nm</tspan></text>
<text class="t" x="557.30" y="444.60" font-size="13.2" fill="#231f20" textLength="92.60" lengthAdjust="spacingAndGlyphs">D<tspan font-size="7.6" dy="5.2">max</tspan><tspan dy="-5.2"> = 12.16 nm</tspan></text>
</svg></body></html>
